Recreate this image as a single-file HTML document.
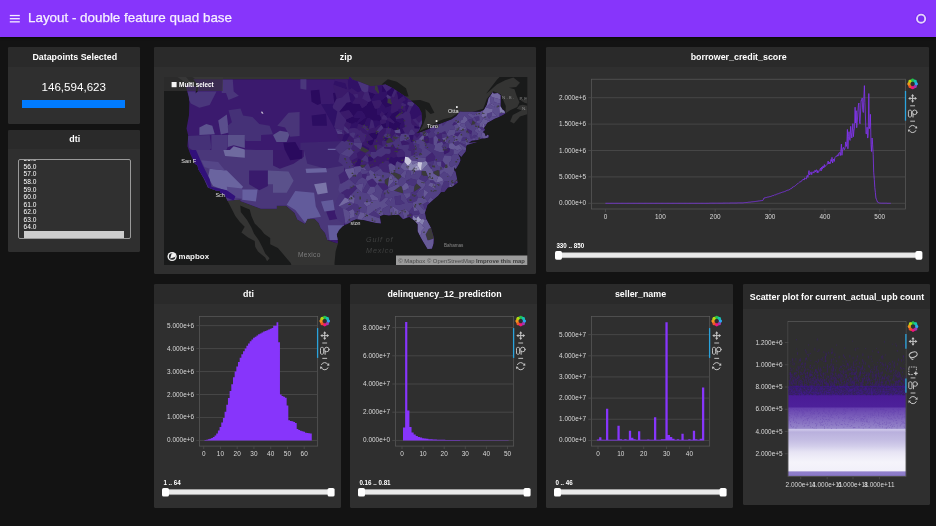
<!DOCTYPE html><html><head><meta charset="utf-8"><title>Layout - double feature quad base</title><style>
*{box-sizing:border-box;margin:0;padding:0}
html,body{width:936px;height:526px;overflow:hidden;background:#131313;font-family:"Liberation Sans", sans-serif;}
.abs{position:absolute}
#hdr{position:absolute;left:0;top:0;width:936px;height:37px;background:#8735fb;box-shadow:0 1px 2px rgba(0,0,0,.6)}
#hdr .t{position:absolute;left:28px;top:9.5px;font-size:13.4px;line-height:16px;color:#f6efff;white-space:nowrap;-webkit-text-stroke:0.25px #f6efff}
.card{position:absolute;background:#2f2f2f;border-radius:1.5px;overflow:hidden}
.card .hd{position:absolute;left:0;top:0;right:0;background:#2a2a2a;color:#fff;font-weight:700;font-size:8.87px;text-align:center;white-space:nowrap;padding-left:2px}
.sl{position:absolute;font-size:6.5px;font-weight:700;color:#fff;white-space:nowrap;line-height:8px}
.trk{position:absolute;height:5.2px;background:#ececec;border-radius:1px;box-shadow:0 0 0 .5px #bdbdbd}
.hnd{position:absolute;width:7px;height:9px;background:#fff;border-radius:1.6px;box-shadow:0 0 .6px rgba(0,0,0,.5)}
svg text{font-family:"Liberation Sans", sans-serif}
</style></head><body><div id="root" style="position:absolute;left:0;top:0;width:936px;height:526px;will-change:transform">
<div id="hdr">
<svg class="abs" style="left:0;top:0" width="40" height="37"><g fill="#f6efff"><rect x="9.8" y="14.9" width="10" height="1.3"/><rect x="9.8" y="18.05" width="10" height="1.3"/><rect x="9.8" y="21.2" width="10" height="1.3"/></g></svg>
<div class="t">Layout - double feature quad base</div>
<svg class="abs" style="left:910px;top:8px" width="22" height="22"><circle cx="11.1" cy="10.7" r="4.1" fill="#7d2ff2" stroke="#7a2cf0" stroke-width="3.8"/><circle cx="11.1" cy="10.7" r="4.1" fill="none" stroke="#e4d2fb" stroke-width="1.9"/></svg>
</div>
<div class="card" style="left:8px;top:47px;width:131.5px;height:77px"><div class="hd" style="height:20px;line-height:20px">Datapoints Selected</div><div class="abs" style="left:0;right:0;top:33px;text-align:center;font-size:11.6px;line-height:14px;color:#fff">146,594,623</div><div class="abs" style="left:14.3px;top:53.1px;width:103.2px;height:7.7px;background:#007bff"></div></div>
<div class="card" style="left:8px;top:129.5px;width:131.5px;height:122.7px"><div class="hd" style="height:19.2px;line-height:19.2px">dti</div><div class="abs" style="left:9.5px;top:29.5px;width:113.4px;height:80.4px;border:1px solid #9a9a9a;border-radius:2px;background:#303030;overflow:hidden"><svg class="abs" style="left:0;top:0" width="112" height="79"><text x="4.6" y="1.40" font-size="6.6" fill="#fff">55.0</text><text x="4.6" y="8.94" font-size="6.6" fill="#fff">56.0</text><text x="4.6" y="16.48" font-size="6.6" fill="#fff">57.0</text><text x="4.6" y="24.02" font-size="6.6" fill="#fff">58.0</text><text x="4.6" y="31.56" font-size="6.6" fill="#fff">59.0</text><text x="4.6" y="39.10" font-size="6.6" fill="#fff">60.0</text><text x="4.6" y="46.64" font-size="6.6" fill="#fff">61.0</text><text x="4.6" y="54.18" font-size="6.6" fill="#fff">62.0</text><text x="4.6" y="61.72" font-size="6.6" fill="#fff">63.0</text><text x="4.6" y="69.26" font-size="6.6" fill="#fff">64.0</text></svg><div class="abs" style="left:5.4px;top:70.9px;width:100.3px;height:7.7px;background:#cdcdcd"></div></div></div>
<div class="card" style="left:546px;top:47px;width:383.3px;height:225px"><div class="hd" style="height:20px;line-height:20px">borrower_credit_score</div></div>
<svg class="abs" style="left:0;top:0;pointer-events:none" width="936" height="526" viewBox="0 0 936 526"><rect x="591.5" y="79.2" width="314.1" height="129.8" fill="none" stroke="#5c5c5c" stroke-width="0.7"/><path d="M588.3 203.3H905.6" stroke="#4d4d4d" stroke-width="0.8"/><text transform="translate(586.10 205.30) scale(0.89 1)" font-size="7.25" fill="#dadada" text-anchor="end">0.000e+0</text><path d="M588.3 176.9H905.6" stroke="#4d4d4d" stroke-width="0.8"/><text transform="translate(586.10 178.90) scale(0.89 1)" font-size="7.25" fill="#dadada" text-anchor="end">5.000e+5</text><path d="M588.3 150.5H905.6" stroke="#4d4d4d" stroke-width="0.8"/><text transform="translate(586.10 152.50) scale(0.89 1)" font-size="7.25" fill="#dadada" text-anchor="end">1.000e+6</text><path d="M588.3 124.10000000000002H905.6" stroke="#4d4d4d" stroke-width="0.8"/><text transform="translate(586.10 126.10) scale(0.89 1)" font-size="7.25" fill="#dadada" text-anchor="end">1.500e+6</text><path d="M588.3 97.70000000000002H905.6" stroke="#4d4d4d" stroke-width="0.8"/><text transform="translate(586.10 99.70) scale(0.89 1)" font-size="7.25" fill="#dadada" text-anchor="end">2.000e+6</text><path d="M605.5 209v3" stroke="#4d4d4d" stroke-width="0.8"/><text transform="translate(605.50 219.30) scale(0.89 1)" font-size="7.25" fill="#dadada" text-anchor="middle">0</text><path d="M660.35 209v3" stroke="#4d4d4d" stroke-width="0.8"/><text transform="translate(660.35 219.30) scale(0.89 1)" font-size="7.25" fill="#dadada" text-anchor="middle">100</text><path d="M715.2 209v3" stroke="#4d4d4d" stroke-width="0.8"/><text transform="translate(715.20 219.30) scale(0.89 1)" font-size="7.25" fill="#dadada" text-anchor="middle">200</text><path d="M770.05 209v3" stroke="#4d4d4d" stroke-width="0.8"/><text transform="translate(770.05 219.30) scale(0.89 1)" font-size="7.25" fill="#dadada" text-anchor="middle">300</text><path d="M824.9 209v3" stroke="#4d4d4d" stroke-width="0.8"/><text transform="translate(824.90 219.30) scale(0.89 1)" font-size="7.25" fill="#dadada" text-anchor="middle">400</text><path d="M879.75 209v3" stroke="#4d4d4d" stroke-width="0.8"/><text transform="translate(879.75 219.30) scale(0.89 1)" font-size="7.25" fill="#dadada" text-anchor="middle">500</text><path d="M605.5 203.3L606.0 203.3L606.6 203.3L607.1 203.3L607.7 203.3L608.2 203.3L608.8 203.3L609.3 203.3L609.9 203.3L610.4 203.3L611.0 203.3L611.5 203.3L612.1 203.3L612.6 203.3L613.2 203.3L613.7 203.3L614.3 203.3L614.8 203.3L615.4 203.3L615.9 203.3L616.5 203.3L617.0 203.3L617.6 203.3L618.1 203.3L618.7 203.3L619.2 203.3L619.8 203.3L620.3 203.3L620.9 203.3L621.4 203.3L622.0 203.3L622.5 203.3L623.1 203.3L623.6 203.3L624.1 203.3L624.7 203.3L625.2 203.3L625.8 203.3L626.3 203.3L626.9 203.3L627.4 203.3L628.0 203.3L628.5 203.3L629.1 203.3L629.6 203.3L630.2 203.3L630.7 203.3L631.3 203.3L631.8 203.3L632.4 203.3L632.9 203.3L633.5 203.3L634.0 203.3L634.6 203.3L635.1 203.3L635.7 203.3L636.2 203.3L636.8 203.3L637.3 203.3L637.9 203.3L638.4 203.3L639.0 203.3L639.5 203.3L640.1 203.3L640.6 203.3L641.2 203.3L641.7 203.3L642.2 203.3L642.8 203.3L643.3 203.3L643.9 203.3L644.4 203.3L645.0 203.3L645.5 203.3L646.1 203.3L646.6 203.3L647.2 203.3L647.7 203.3L648.3 203.3L648.8 203.3L649.4 203.3L649.9 203.3L650.5 203.3L651.0 203.3L651.6 203.3L652.1 203.3L652.7 203.3L653.2 203.3L653.8 203.3L654.3 203.3L654.9 203.3L655.4 203.3L656.0 203.3L656.5 203.3L657.1 203.3L657.6 203.3L658.2 203.3L658.7 203.3L659.3 203.3L659.8 203.3L660.4 203.3L660.9 203.3L661.4 203.3L662.0 203.3L662.5 203.3L663.1 203.3L663.6 203.3L664.2 203.3L664.7 203.3L665.3 203.3L665.8 203.3L666.4 203.3L666.9 203.3L667.5 203.3L668.0 203.3L668.6 203.3L669.1 203.3L669.7 203.3L670.2 203.3L670.8 203.3L671.3 203.3L671.9 203.3L672.4 203.3L673.0 203.3L673.5 203.3L674.1 203.3L674.6 203.3L675.2 203.3L675.7 203.3L676.3 203.3L676.8 203.3L677.4 203.3L677.9 203.3L678.5 203.3L679.0 203.3L679.5 203.3L680.1 203.3L680.6 203.3L681.2 203.3L681.7 203.3L682.3 203.3L682.8 203.3L683.4 203.3L683.9 203.3L684.5 203.3L685.0 203.3L685.6 203.3L686.1 203.3L686.7 203.3L687.2 203.3L687.8 203.3L688.3 203.3L688.9 203.3L689.4 203.3L690.0 203.3L690.5 203.3L691.1 203.3L691.6 203.3L692.2 203.3L692.7 203.3L693.3 203.3L693.8 203.3L694.4 203.3L694.9 203.3L695.5 203.3L696.0 203.3L696.6 203.3L697.1 203.3L697.6 203.3L698.2 203.3L698.7 203.3L699.3 203.3L699.8 203.3L700.4 203.3L700.9 203.3L701.5 203.3L702.0 203.3L702.6 203.3L703.1 203.3L703.7 203.3L704.2 203.3L704.8 203.3L705.3 203.3L705.9 203.3L706.4 203.3L707.0 203.3L707.5 203.3L708.1 203.3L708.6 203.3L709.2 203.3L709.7 203.2L710.3 203.2L710.8 203.2L711.4 203.2L711.9 203.2L712.5 203.2L713.0 203.2L713.6 203.2L714.1 203.2L714.7 203.2L715.2 203.2L715.7 203.2L716.3 203.2L716.8 203.2L717.4 203.2L717.9 203.2L718.5 203.2L719.0 203.2L719.6 203.2L720.1 203.2L720.7 203.2L721.2 203.2L721.8 203.2L722.3 203.2L722.9 203.1L723.4 203.1L724.0 203.1L724.5 203.1L725.1 203.1L725.6 203.1L726.2 203.1L726.7 203.1L727.3 203.1L727.8 203.1L728.4 203.1L728.9 203.1L729.5 203.1L730.0 203.0L730.6 203.0L731.1 203.0L731.7 203.0L732.2 203.0L732.8 203.0L733.3 203.0L733.8 203.0L734.4 203.0L734.9 203.0L735.5 203.0L736.0 203.0L736.6 203.0L737.1 203.0L737.7 202.9L738.2 202.9L738.8 202.9L739.3 202.9L739.9 202.9L740.4 202.9L741.0 202.9L741.5 202.9L742.1 202.9L742.6 202.9L743.2 202.8L743.7 202.8L744.3 202.7L744.8 202.6L745.4 202.6L745.9 202.5L746.5 202.5L747.0 202.4L747.6 202.4L748.1 202.3L748.7 202.2L749.2 202.2L749.8 202.1L750.3 202.1L750.9 202.0L751.4 201.9L751.9 201.9L752.5 201.8L753.0 201.8L753.6 201.7L754.1 201.6L754.7 201.6L755.2 201.5L755.8 201.4L756.3 201.3L756.9 201.3L757.4 201.2L758.0 201.1L758.5 201.0L759.1 200.9L759.6 200.9L760.2 200.8L760.7 200.7L761.3 200.6L761.8 200.6L762.4 200.5L762.9 200.4L763.5 199.2L764.0 198.0L764.6 197.9L765.1 197.8L765.7 197.6L766.2 197.5L766.8 197.4L767.3 197.2L767.9 197.1L768.4 197.0L769.0 196.9L769.5 196.7L770.0 196.6L770.6 196.5L771.1 196.2L771.7 196.1L772.2 195.8L772.8 195.6L773.3 195.6L773.9 195.4L774.4 194.9L775.0 194.9L775.5 194.8L776.1 194.3L776.6 194.3L777.2 194.0L777.7 193.9L778.3 193.7L778.8 193.6L779.4 193.3L779.9 193.0L780.5 192.9L781.0 192.6L781.6 192.5L782.1 192.5L782.7 192.0L783.2 191.9L783.8 191.9L784.3 191.8L784.9 191.2L785.4 191.2L786.0 190.9L786.5 190.6L787.1 190.5L787.6 190.2L788.2 190.3L788.7 189.9L789.2 189.9L789.8 189.2L790.3 188.8L790.9 188.9L791.4 188.5L792.0 188.1L792.5 187.2L793.1 187.2L793.6 186.7L794.2 186.5L794.7 186.0L795.3 185.7L795.8 185.3L796.4 184.7L796.9 184.4L797.5 183.7L798.0 183.5L798.6 182.9L799.1 182.5L799.7 182.0L800.2 181.9L800.8 181.9L801.3 180.9L801.9 180.4L802.4 180.1L803.0 179.9L803.5 179.1L804.1 180.1L804.6 177.9L805.2 178.3L805.7 178.7L806.3 179.0L806.8 176.2L807.3 175.3L807.9 177.5L808.4 174.3L809.0 170.6L809.5 175.0L810.1 174.3L810.6 172.4L811.2 171.9L811.7 174.7L812.3 172.5L812.8 172.1L813.4 171.8L813.9 173.1L814.5 170.9L815.0 170.3L815.6 171.9L816.1 169.9L816.7 169.9L817.2 172.9L817.8 170.6L818.3 172.5L818.9 171.5L819.4 170.4L820.0 169.3L820.5 168.2L821.1 171.0L821.6 167.2L822.2 169.2L822.7 166.2L823.3 166.1L823.8 168.0L824.4 164.5L824.9 166.8L825.4 165.8L826.0 165.5L826.5 165.2L827.1 164.5L827.6 162.5L828.2 161.0L828.7 164.0L829.3 162.1L829.8 164.0L830.4 163.3L830.9 159.5L831.5 161.3L832.0 157.3L832.6 163.0L833.1 160.4L833.7 159.1L834.2 161.5L834.8 157.8L835.3 157.2L835.9 156.3L836.4 156.1L837.0 156.5L837.5 154.8L838.1 156.1L838.6 153.5L839.2 152.7L839.7 152.6L840.3 155.6L840.8 151.2L841.4 144.1L841.9 155.3L842.5 151.2L843.0 147.8L843.5 147.3L844.1 149.6L844.6 149.4L845.2 147.3L845.7 141.9L846.3 146.5L846.8 144.0L847.4 129.4L847.9 148.8L848.5 136.5L849.0 131.7L849.6 139.6L850.1 140.4L850.7 126.3L851.2 132.7L851.8 138.0L852.3 131.1L852.9 123.6L853.4 136.7L854.0 130.0L854.5 128.5L855.1 107.2L855.6 123.1L856.2 110.7L856.7 127.8L857.3 122.3L857.8 112.7L858.4 105.1L858.9 103.0L859.5 121.7L860.0 123.8L860.6 111.0L861.1 100.3L861.6 100.4L862.2 98.0L862.7 109.8L863.3 112.5L863.8 98.2L864.4 85.6L864.9 102.6L865.5 118.0L866.0 133.5L866.6 134.1L867.1 127.2L867.7 138.1L868.2 135.5L868.8 93.5L869.3 128.7L869.9 126.4L870.4 114.3L871.0 144.6L871.5 151.5L872.1 138.0L872.6 144.1L873.2 154.5L873.7 172.3L874.3 179.5L874.8 187.5L875.4 192.7L875.9 198.0L876.5 199.4L877.0 200.8L877.6 202.2L878.1 202.5L878.7 202.7L879.2 202.9L879.8 203.1L880.3 203.1L880.8 203.2L881.4 203.2L881.9 203.2L882.5 203.2L883.0 203.2L883.6 203.2L884.1 203.2L884.7 203.2L885.2 203.2L885.8 203.2L886.3 203.2L886.9 203.2L887.4 203.3L888.0 203.3L888.5 203.3L889.1 203.3L889.6 203.3L890.2 203.3L890.7 203.3" fill="none" stroke="#8735fb" stroke-width="0.9" stroke-linejoin="round" opacity="0.85"/><path d="M911.07 80.75A3.5 3.5 0 0 1 914.13 80.75" stroke="#25c24c" stroke-width="2.5" fill="none"/><path d="M913.74 80.59A3.5 3.5 0 0 1 915.91 82.76" stroke="#16c3ae" stroke-width="2.5" fill="none"/><path d="M915.75 82.37A3.5 3.5 0 0 1 915.75 85.43" stroke="#2ca8ef" stroke-width="2.5" fill="none"/><path d="M915.91 85.04A3.5 3.5 0 0 1 913.74 87.21" stroke="#9a3ab2" stroke-width="2.5" fill="none"/><path d="M914.13 87.05A3.5 3.5 0 0 1 911.07 87.05" stroke="#f0147c" stroke-width="2.5" fill="none"/><path d="M911.46 87.21A3.5 3.5 0 0 1 909.29 85.04" stroke="#f0522a" stroke-width="2.5" fill="none"/><path d="M909.45 85.43A3.5 3.5 0 0 1 909.45 82.37" stroke="#f0941e" stroke-width="2.5" fill="none"/><path d="M909.29 82.76A3.5 3.5 0 0 1 911.46 80.59" stroke="#b4da12" stroke-width="2.5" fill="none"/><circle cx="912.60" cy="79.90" r="1.3" fill="#25c24c"/><circle cx="915.43" cy="81.07" r="1.3" fill="#16c3ae"/><circle cx="916.60" cy="83.90" r="1.3" fill="#2ca8ef"/><circle cx="915.43" cy="86.73" r="1.3" fill="#9a3ab2"/><circle cx="912.60" cy="87.90" r="1.3" fill="#f0147c"/><circle cx="909.77" cy="86.73" r="1.3" fill="#f0522a"/><circle cx="908.60" cy="83.90" r="1.3" fill="#f0941e"/><circle cx="909.77" cy="81.07" r="1.3" fill="#b4da12"/><path d="M905.5 90.9V120.7" stroke="#2aa3dc" stroke-width="1.3"/><path d="M909.2 98.4H916.0M912.6 95.0V101.80000000000001" stroke="#c6c6c6" stroke-width="1" fill="none"/><path d="M908.2 98.4l2.2 -1.6v3.2zM917.0 98.4l-2.2 -1.6v3.2zM912.6 94.0l-1.6 2.2h3.2zM912.6 102.80000000000001l-1.6 -2.2h3.2z" fill="#c6c6c6"/><path d="M910.2 105.80000000000001h4.8" stroke="#b4b4b4" stroke-width="1.1"/><g stroke="#c6c6c6" stroke-width="0.95" fill="none" stroke-linecap="round"><rect x="908.4" y="110.19999999999999" width="3.1" height="6.8" rx="1" stroke-dasharray="2.2 0.7"/><circle cx="914.7" cy="112.3" r="2.3"/><path d="M913.0 114.0V117.0" stroke-width="1.1"/></g><path d="M910.2 121.2h4.8" stroke="#b4b4b4" stroke-width="1.1"/><g stroke="#c6c6c6" stroke-width="1.0" fill="none"><path d="M909.22 127.77A3.6 3.6 0 0 1 915.86 127.48"/><path d="M915.98 130.23A3.6 3.6 0 0 1 909.34 130.52"/></g><path d="M916.96 125.88l0.3 2.7l-2.6 -0.3z" fill="#c6c6c6"/><path d="M908.24 132.12l-0.3 -2.7l2.6 0.3z" fill="#c6c6c6"/></svg>
<svg class="abs" style="left:0;top:0;pointer-events:none" width="936" height="526" viewBox="0 0 936 526"><text x="556.4" y="248.3" font-size="7.1" font-weight="700" fill="#fff" transform="translate(556.4 0) scale(0.88 1) translate(-556.4 0)">330 .. 850</text><rect x="557" y="252.7" width="363.4" height="5" rx="1" fill="#eaeaea" stroke="#bcbcbc" stroke-width="0.5"/><rect x="555" y="251" width="7" height="8.7" rx="1.7" fill="#fff"/><rect x="915.4" y="251" width="7" height="8.7" rx="1.7" fill="#fff"/></svg>
<div class="card" style="left:154px;top:284.3px;width:187px;height:224.2px"><div class="hd" style="height:19.7px;line-height:21.7px">dti</div></div>
<svg class="abs" style="left:0;top:0;pointer-events:none" width="936" height="526" viewBox="0 0 936 526"><rect x="199.5" y="316.4" width="118.19999999999999" height="129.70000000000005" fill="none" stroke="#5c5c5c" stroke-width="0.7"/><path d="M196.3 440.4H317.7" stroke="#4d4d4d" stroke-width="0.8"/><text transform="translate(194.10 442.40) scale(0.89 1)" font-size="7.25" fill="#dadada" text-anchor="end">0.000e+0</text><path d="M196.3 417.45H317.7" stroke="#4d4d4d" stroke-width="0.8"/><text transform="translate(194.10 419.45) scale(0.89 1)" font-size="7.25" fill="#dadada" text-anchor="end">1.000e+6</text><path d="M196.3 394.5H317.7" stroke="#4d4d4d" stroke-width="0.8"/><text transform="translate(194.10 396.50) scale(0.89 1)" font-size="7.25" fill="#dadada" text-anchor="end">2.000e+6</text><path d="M196.3 371.54999999999995H317.7" stroke="#4d4d4d" stroke-width="0.8"/><text transform="translate(194.10 373.55) scale(0.89 1)" font-size="7.25" fill="#dadada" text-anchor="end">3.000e+6</text><path d="M196.3 348.59999999999997H317.7" stroke="#4d4d4d" stroke-width="0.8"/><text transform="translate(194.10 350.60) scale(0.89 1)" font-size="7.25" fill="#dadada" text-anchor="end">4.000e+6</text><path d="M196.3 325.65H317.7" stroke="#4d4d4d" stroke-width="0.8"/><text transform="translate(194.10 327.65) scale(0.89 1)" font-size="7.25" fill="#dadada" text-anchor="end">5.000e+6</text><path d="M203.7 446.1v3" stroke="#4d4d4d" stroke-width="0.8"/><text transform="translate(203.70 456.40) scale(0.89 1)" font-size="7.25" fill="#dadada" text-anchor="middle">0</text><path d="M220.45 446.1v3" stroke="#4d4d4d" stroke-width="0.8"/><text transform="translate(220.45 456.40) scale(0.89 1)" font-size="7.25" fill="#dadada" text-anchor="middle">10</text><path d="M237.2 446.1v3" stroke="#4d4d4d" stroke-width="0.8"/><text transform="translate(237.20 456.40) scale(0.89 1)" font-size="7.25" fill="#dadada" text-anchor="middle">20</text><path d="M253.95 446.1v3" stroke="#4d4d4d" stroke-width="0.8"/><text transform="translate(253.95 456.40) scale(0.89 1)" font-size="7.25" fill="#dadada" text-anchor="middle">30</text><path d="M270.7 446.1v3" stroke="#4d4d4d" stroke-width="0.8"/><text transform="translate(270.70 456.40) scale(0.89 1)" font-size="7.25" fill="#dadada" text-anchor="middle">40</text><path d="M287.45 446.1v3" stroke="#4d4d4d" stroke-width="0.8"/><text transform="translate(287.45 456.40) scale(0.89 1)" font-size="7.25" fill="#dadada" text-anchor="middle">50</text><path d="M304.2 446.1v3" stroke="#4d4d4d" stroke-width="0.8"/><text transform="translate(304.20 456.40) scale(0.89 1)" font-size="7.25" fill="#dadada" text-anchor="middle">60</text><path d="M204.50 440.4V439.94H206.25V440.4ZM206.18 440.4V439.71H207.92V440.4ZM207.85 440.4V439.25H209.60V440.4ZM209.53 440.4V438.79H211.27V440.4ZM211.20 440.4V438.10H212.95V440.4ZM212.88 440.4V436.96H214.62V440.4ZM214.55 440.4V435.58H216.30V440.4ZM216.23 440.4V433.51H217.97V440.4ZM217.90 440.4V430.53H219.65V440.4ZM219.58 440.4V427.09H221.32V440.4ZM221.25 440.4V422.50H223.00V440.4ZM222.93 440.4V417.91H224.67V440.4ZM224.60 440.4V411.71H226.35V440.4ZM226.28 440.4V404.83H228.02V440.4ZM227.95 440.4V397.94H229.70V440.4ZM229.63 440.4V391.06H231.37V440.4ZM231.30 440.4V384.17H233.05V440.4ZM232.98 440.4V377.29H234.72V440.4ZM234.65 440.4V371.55H236.40V440.4ZM236.33 440.4V366.50H238.07V440.4ZM238.00 440.4V361.91H239.75V440.4ZM239.68 440.4V357.78H241.42V440.4ZM241.35 440.4V354.34H243.10V440.4ZM243.03 440.4V351.35H244.77V440.4ZM244.70 440.4V348.60H246.45V440.4ZM246.38 440.4V345.85H248.12V440.4ZM248.05 440.4V343.55H249.80V440.4ZM249.73 440.4V341.26H251.47V440.4ZM251.40 440.4V339.42H253.15V440.4ZM253.08 440.4V337.81H254.82V440.4ZM254.75 440.4V336.67H256.50V440.4ZM256.43 440.4V335.52H258.17V440.4ZM258.10 440.4V334.37H259.85V440.4ZM259.78 440.4V333.45H261.52V440.4ZM261.45 440.4V332.53H263.20V440.4ZM263.13 440.4V331.62H264.87V440.4ZM264.80 440.4V330.93H266.55V440.4ZM266.48 440.4V330.24H268.22V440.4ZM268.15 440.4V329.55H269.90V440.4ZM269.83 440.4V328.86H271.57V440.4ZM271.50 440.4V327.94H273.25V440.4ZM273.18 440.4V325.65H274.92V440.4ZM274.85 440.4V325.65H276.60V440.4ZM276.53 440.4V322.21H278.27V440.4ZM278.20 440.4V342.17H279.95V440.4ZM279.88 440.4V394.50H281.62V440.4ZM281.55 440.4V396.11H283.30V440.4ZM283.23 440.4V396.79H284.97V440.4ZM284.90 440.4V397.71H286.65V440.4ZM286.58 440.4V405.52H288.32V440.4ZM288.25 440.4V420.20H290.00V440.4ZM289.93 440.4V420.89H291.67V440.4ZM291.60 440.4V421.35H293.35V440.4ZM293.28 440.4V422.04H295.02V440.4ZM294.95 440.4V422.96H296.70V440.4ZM296.63 440.4V428.92H298.37V440.4ZM298.30 440.4V430.07H300.05V440.4ZM299.98 440.4V430.76H301.72V440.4ZM301.65 440.4V431.22H303.40V440.4ZM303.33 440.4V431.68H305.07V440.4ZM305.00 440.4V432.83H306.75V440.4ZM306.68 440.4V433.06H308.42V440.4ZM308.35 440.4V433.29H310.10V440.4ZM310.03 440.4V433.51H311.77V440.4Z" fill="#8735fb"/><path d="M323.17 317.95A3.5 3.5 0 0 1 326.23 317.95" stroke="#25c24c" stroke-width="2.5" fill="none"/><path d="M325.84 317.79A3.5 3.5 0 0 1 328.01 319.96" stroke="#16c3ae" stroke-width="2.5" fill="none"/><path d="M327.85 319.57A3.5 3.5 0 0 1 327.85 322.63" stroke="#2ca8ef" stroke-width="2.5" fill="none"/><path d="M328.01 322.24A3.5 3.5 0 0 1 325.84 324.41" stroke="#9a3ab2" stroke-width="2.5" fill="none"/><path d="M326.23 324.25A3.5 3.5 0 0 1 323.17 324.25" stroke="#f0147c" stroke-width="2.5" fill="none"/><path d="M323.56 324.41A3.5 3.5 0 0 1 321.39 322.24" stroke="#f0522a" stroke-width="2.5" fill="none"/><path d="M321.55 322.63A3.5 3.5 0 0 1 321.55 319.57" stroke="#f0941e" stroke-width="2.5" fill="none"/><path d="M321.39 319.96A3.5 3.5 0 0 1 323.56 317.79" stroke="#b4da12" stroke-width="2.5" fill="none"/><circle cx="324.70" cy="317.10" r="1.3" fill="#25c24c"/><circle cx="327.53" cy="318.27" r="1.3" fill="#16c3ae"/><circle cx="328.70" cy="321.10" r="1.3" fill="#2ca8ef"/><circle cx="327.53" cy="323.93" r="1.3" fill="#9a3ab2"/><circle cx="324.70" cy="325.10" r="1.3" fill="#f0147c"/><circle cx="321.87" cy="323.93" r="1.3" fill="#f0522a"/><circle cx="320.70" cy="321.10" r="1.3" fill="#f0941e"/><circle cx="321.87" cy="318.27" r="1.3" fill="#b4da12"/><path d="M317.59999999999997 328.09999999999997V357.9" stroke="#2aa3dc" stroke-width="1.3"/><path d="M321.3 335.59999999999997H328.09999999999997M324.7 332.2V338.99999999999994" stroke="#c6c6c6" stroke-width="1" fill="none"/><path d="M320.3 335.59999999999997l2.2 -1.6v3.2zM329.09999999999997 335.59999999999997l-2.2 -1.6v3.2zM324.7 331.2l-1.6 2.2h3.2zM324.7 339.99999999999994l-1.6 -2.2h3.2z" fill="#c6c6c6"/><path d="M322.3 343.0h4.8" stroke="#b4b4b4" stroke-width="1.1"/><g stroke="#c6c6c6" stroke-width="0.95" fill="none" stroke-linecap="round"><rect x="320.5" y="347.4" width="3.1" height="6.8" rx="1" stroke-dasharray="2.2 0.7"/><circle cx="326.8" cy="349.49999999999994" r="2.3"/><path d="M325.09999999999997 351.19999999999993V354.19999999999993" stroke-width="1.1"/></g><path d="M322.3 358.4h4.8" stroke="#b4b4b4" stroke-width="1.1"/><g stroke="#c6c6c6" stroke-width="1.0" fill="none"><path d="M321.32 364.97A3.6 3.6 0 0 1 327.96 364.68"/><path d="M328.08 367.43A3.6 3.6 0 0 1 321.44 367.72"/></g><path d="M329.06 363.08l0.3 2.7l-2.6 -0.3z" fill="#c6c6c6"/><path d="M320.34 369.32l-0.3 -2.7l2.6 0.3z" fill="#c6c6c6"/></svg>
<svg class="abs" style="left:0;top:0;pointer-events:none" width="936" height="526" viewBox="0 0 936 526"><text x="163.4" y="485.2" font-size="7.1" font-weight="700" fill="#fff" transform="translate(163.4 0) scale(0.88 1) translate(-163.4 0)">1 .. 64</text><rect x="164" y="489.59999999999997" width="168.60000000000002" height="5" rx="1" fill="#eaeaea" stroke="#bcbcbc" stroke-width="0.5"/><rect x="162" y="487.9" width="7" height="8.7" rx="1.7" fill="#fff"/><rect x="327.6" y="487.9" width="7" height="8.7" rx="1.7" fill="#fff"/></svg>
<div class="card" style="left:350px;top:284.3px;width:187px;height:224.2px"><div class="hd" style="height:19.7px;line-height:21.7px">delinquency_12_prediction</div></div>
<svg class="abs" style="left:0;top:0;pointer-events:none" width="936" height="526" viewBox="0 0 936 526"><rect x="395.5" y="316.4" width="118.20000000000005" height="129.70000000000005" fill="none" stroke="#5c5c5c" stroke-width="0.7"/><path d="M392.3 440.4H513.7" stroke="#4d4d4d" stroke-width="0.8"/><text transform="translate(390.10 442.40) scale(0.89 1)" font-size="7.25" fill="#dadada" text-anchor="end">0.000e+0</text><path d="M392.3 412.2H513.7" stroke="#4d4d4d" stroke-width="0.8"/><text transform="translate(390.10 414.20) scale(0.89 1)" font-size="7.25" fill="#dadada" text-anchor="end">2.000e+7</text><path d="M392.3 384.0H513.7" stroke="#4d4d4d" stroke-width="0.8"/><text transform="translate(390.10 386.00) scale(0.89 1)" font-size="7.25" fill="#dadada" text-anchor="end">4.000e+7</text><path d="M392.3 355.79999999999995H513.7" stroke="#4d4d4d" stroke-width="0.8"/><text transform="translate(390.10 357.80) scale(0.89 1)" font-size="7.25" fill="#dadada" text-anchor="end">6.000e+7</text><path d="M392.3 327.59999999999997H513.7" stroke="#4d4d4d" stroke-width="0.8"/><text transform="translate(390.10 329.60) scale(0.89 1)" font-size="7.25" fill="#dadada" text-anchor="end">8.000e+7</text><path d="M402.0 446.1v3" stroke="#4d4d4d" stroke-width="0.8"/><text transform="translate(402.00 456.40) scale(0.89 1)" font-size="7.25" fill="#dadada" text-anchor="middle">0</text><path d="M423.1 446.1v3" stroke="#4d4d4d" stroke-width="0.8"/><text transform="translate(423.10 456.40) scale(0.89 1)" font-size="7.25" fill="#dadada" text-anchor="middle">10</text><path d="M444.2 446.1v3" stroke="#4d4d4d" stroke-width="0.8"/><text transform="translate(444.20 456.40) scale(0.89 1)" font-size="7.25" fill="#dadada" text-anchor="middle">20</text><path d="M465.3 446.1v3" stroke="#4d4d4d" stroke-width="0.8"/><text transform="translate(465.30 456.40) scale(0.89 1)" font-size="7.25" fill="#dadada" text-anchor="middle">30</text><path d="M486.4 446.1v3" stroke="#4d4d4d" stroke-width="0.8"/><text transform="translate(486.40 456.40) scale(0.89 1)" font-size="7.25" fill="#dadada" text-anchor="middle">40</text><path d="M507.5 446.1v3" stroke="#4d4d4d" stroke-width="0.8"/><text transform="translate(507.50 456.40) scale(0.89 1)" font-size="7.25" fill="#dadada" text-anchor="middle">50</text><path d="M403.01 440.4V427.43H405.21V440.4ZM405.12 440.4V322.10H407.32V440.4ZM407.23 440.4V410.51H409.43V440.4ZM409.34 440.4V427.00H411.54V440.4ZM411.45 440.4V432.50H413.65V440.4ZM413.56 440.4V434.48H415.76V440.4ZM415.67 440.4V435.89H417.87V440.4ZM417.78 440.4V436.88H419.98V440.4ZM419.89 440.4V437.58H422.09V440.4ZM422.00 440.4V438.14H424.20V440.4ZM424.11 440.4V438.57H426.31V440.4ZM426.22 440.4V438.85H428.42V440.4ZM428.33 440.4V439.13H430.53V440.4ZM430.44 440.4V439.27H432.64V440.4ZM432.55 440.4V439.41H434.75V440.4ZM434.66 440.4V439.55H436.86V440.4ZM436.77 440.4V439.63H438.97V440.4ZM438.88 440.4V439.71H441.08V440.4ZM440.99 440.4V439.77H443.19V440.4ZM443.10 440.4V439.83H445.30V440.4ZM445.21 440.4V439.89H447.41V440.4ZM447.32 440.4V439.94H449.52V440.4ZM449.43 440.4V439.98H451.63V440.4ZM451.54 440.4V440.02H453.74V440.4ZM453.65 440.4V440.06H455.85V440.4ZM455.76 440.4V440.09H457.96V440.4ZM457.87 440.4V440.12H460.07V440.4ZM459.98 440.4V440.15H462.18V440.4ZM462.09 440.4V440.17H464.29V440.4ZM464.20 440.4V440.19H466.40V440.4ZM466.31 440.4V440.21H468.51V440.4ZM468.42 440.4V440.23H470.62V440.4ZM470.53 440.4V440.23H472.73V440.4ZM472.64 440.4V440.23H474.84V440.4ZM474.75 440.4V440.23H476.95V440.4ZM476.86 440.4V440.23H479.06V440.4ZM478.97 440.4V440.23H481.17V440.4ZM481.08 440.4V440.23H483.28V440.4ZM483.19 440.4V440.23H485.39V440.4ZM485.30 440.4V440.23H487.50V440.4ZM487.41 440.4V440.23H489.61V440.4ZM489.52 440.4V440.23H491.72V440.4ZM491.63 440.4V440.23H493.83V440.4ZM493.74 440.4V440.23H495.94V440.4ZM495.85 440.4V440.23H498.05V440.4ZM497.96 440.4V440.23H500.16V440.4ZM500.07 440.4V440.23H502.27V440.4ZM502.18 440.4V440.23H504.38V440.4ZM504.29 440.4V440.23H506.49V440.4ZM506.40 440.4V440.23H508.60V440.4Z" fill="#8735fb"/><path d="M519.17 317.95A3.5 3.5 0 0 1 522.23 317.95" stroke="#25c24c" stroke-width="2.5" fill="none"/><path d="M521.84 317.79A3.5 3.5 0 0 1 524.01 319.96" stroke="#16c3ae" stroke-width="2.5" fill="none"/><path d="M523.85 319.57A3.5 3.5 0 0 1 523.85 322.63" stroke="#2ca8ef" stroke-width="2.5" fill="none"/><path d="M524.01 322.24A3.5 3.5 0 0 1 521.84 324.41" stroke="#9a3ab2" stroke-width="2.5" fill="none"/><path d="M522.23 324.25A3.5 3.5 0 0 1 519.17 324.25" stroke="#f0147c" stroke-width="2.5" fill="none"/><path d="M519.56 324.41A3.5 3.5 0 0 1 517.39 322.24" stroke="#f0522a" stroke-width="2.5" fill="none"/><path d="M517.55 322.63A3.5 3.5 0 0 1 517.55 319.57" stroke="#f0941e" stroke-width="2.5" fill="none"/><path d="M517.39 319.96A3.5 3.5 0 0 1 519.56 317.79" stroke="#b4da12" stroke-width="2.5" fill="none"/><circle cx="520.70" cy="317.10" r="1.3" fill="#25c24c"/><circle cx="523.53" cy="318.27" r="1.3" fill="#16c3ae"/><circle cx="524.70" cy="321.10" r="1.3" fill="#2ca8ef"/><circle cx="523.53" cy="323.93" r="1.3" fill="#9a3ab2"/><circle cx="520.70" cy="325.10" r="1.3" fill="#f0147c"/><circle cx="517.87" cy="323.93" r="1.3" fill="#f0522a"/><circle cx="516.70" cy="321.10" r="1.3" fill="#f0941e"/><circle cx="517.87" cy="318.27" r="1.3" fill="#b4da12"/><path d="M513.6 328.09999999999997V357.9" stroke="#2aa3dc" stroke-width="1.3"/><path d="M517.3000000000001 335.59999999999997H524.1M520.7 332.2V338.99999999999994" stroke="#c6c6c6" stroke-width="1" fill="none"/><path d="M516.3000000000001 335.59999999999997l2.2 -1.6v3.2zM525.1 335.59999999999997l-2.2 -1.6v3.2zM520.7 331.2l-1.6 2.2h3.2zM520.7 339.99999999999994l-1.6 -2.2h3.2z" fill="#c6c6c6"/><path d="M518.3000000000001 343.0h4.8" stroke="#b4b4b4" stroke-width="1.1"/><g stroke="#c6c6c6" stroke-width="0.95" fill="none" stroke-linecap="round"><rect x="516.5" y="347.4" width="3.1" height="6.8" rx="1" stroke-dasharray="2.2 0.7"/><circle cx="522.8000000000001" cy="349.49999999999994" r="2.3"/><path d="M521.1 351.19999999999993V354.19999999999993" stroke-width="1.1"/></g><path d="M518.3000000000001 358.4h4.8" stroke="#b4b4b4" stroke-width="1.1"/><g stroke="#c6c6c6" stroke-width="1.0" fill="none"><path d="M517.32 364.97A3.6 3.6 0 0 1 523.96 364.68"/><path d="M524.08 367.43A3.6 3.6 0 0 1 517.44 367.72"/></g><path d="M525.06 363.08l0.3 2.7l-2.6 -0.3z" fill="#c6c6c6"/><path d="M516.34 369.32l-0.3 -2.7l2.6 0.3z" fill="#c6c6c6"/></svg>
<svg class="abs" style="left:0;top:0;pointer-events:none" width="936" height="526" viewBox="0 0 936 526"><text x="359.4" y="485.2" font-size="7.1" font-weight="700" fill="#fff" transform="translate(359.4 0) scale(0.88 1) translate(-359.4 0)">0.16 .. 0.81</text><rect x="360" y="489.59999999999997" width="168.60000000000002" height="5" rx="1" fill="#eaeaea" stroke="#bcbcbc" stroke-width="0.5"/><rect x="358" y="487.9" width="7" height="8.7" rx="1.7" fill="#fff"/><rect x="523.6" y="487.9" width="7" height="8.7" rx="1.7" fill="#fff"/></svg>
<div class="card" style="left:546px;top:284.3px;width:187px;height:224.2px"><div class="hd" style="height:19.7px;line-height:21.7px">seller_name</div></div>
<svg class="abs" style="left:0;top:0;pointer-events:none" width="936" height="526" viewBox="0 0 936 526"><rect x="591.5" y="316.4" width="118.20000000000005" height="129.70000000000005" fill="none" stroke="#5c5c5c" stroke-width="0.7"/><path d="M588.3 440.4H709.7" stroke="#4d4d4d" stroke-width="0.8"/><text transform="translate(586.10 442.40) scale(0.89 1)" font-size="7.25" fill="#dadada" text-anchor="end">0.000e+0</text><path d="M588.3 419.25H709.7" stroke="#4d4d4d" stroke-width="0.8"/><text transform="translate(586.10 421.25) scale(0.89 1)" font-size="7.25" fill="#dadada" text-anchor="end">1.000e+7</text><path d="M588.3 398.09999999999997H709.7" stroke="#4d4d4d" stroke-width="0.8"/><text transform="translate(586.10 400.10) scale(0.89 1)" font-size="7.25" fill="#dadada" text-anchor="end">2.000e+7</text><path d="M588.3 376.95H709.7" stroke="#4d4d4d" stroke-width="0.8"/><text transform="translate(586.10 378.95) scale(0.89 1)" font-size="7.25" fill="#dadada" text-anchor="end">3.000e+7</text><path d="M588.3 355.79999999999995H709.7" stroke="#4d4d4d" stroke-width="0.8"/><text transform="translate(586.10 357.80) scale(0.89 1)" font-size="7.25" fill="#dadada" text-anchor="end">4.000e+7</text><path d="M588.3 334.65H709.7" stroke="#4d4d4d" stroke-width="0.8"/><text transform="translate(586.10 336.65) scale(0.89 1)" font-size="7.25" fill="#dadada" text-anchor="end">5.000e+7</text><path d="M598.0 446.1v3" stroke="#4d4d4d" stroke-width="0.8"/><text transform="translate(598.00 456.40) scale(0.89 1)" font-size="7.25" fill="#dadada" text-anchor="middle">0</text><path d="M620.85 446.1v3" stroke="#4d4d4d" stroke-width="0.8"/><text transform="translate(620.85 456.40) scale(0.89 1)" font-size="7.25" fill="#dadada" text-anchor="middle">10</text><path d="M643.7 446.1v3" stroke="#4d4d4d" stroke-width="0.8"/><text transform="translate(643.70 456.40) scale(0.89 1)" font-size="7.25" fill="#dadada" text-anchor="middle">20</text><path d="M666.55 446.1v3" stroke="#4d4d4d" stroke-width="0.8"/><text transform="translate(666.55 456.40) scale(0.89 1)" font-size="7.25" fill="#dadada" text-anchor="middle">30</text><path d="M689.4 446.1v3" stroke="#4d4d4d" stroke-width="0.8"/><text transform="translate(689.40 456.40) scale(0.89 1)" font-size="7.25" fill="#dadada" text-anchor="middle">40</text><path d="M596.86 440.4V439.55H599.14V440.4ZM599.14 440.4V437.23H601.43V440.4ZM601.43 440.4V439.77H603.71V440.4ZM603.71 440.4V439.77H606.00V440.4ZM606.00 440.4V408.67H608.28V440.4ZM608.28 440.4V439.77H610.57V440.4ZM610.57 440.4V439.77H612.85V440.4ZM612.85 440.4V439.77H615.14V440.4ZM615.14 440.4V439.77H617.42V440.4ZM617.42 440.4V425.81H619.71V440.4ZM619.71 440.4V439.34H621.99V440.4ZM621.99 440.4V439.77H624.28V440.4ZM624.28 440.4V439.13H626.56V440.4ZM626.56 440.4V439.77H628.85V440.4ZM628.85 440.4V430.67H631.13V440.4ZM631.13 440.4V437.86H633.42V440.4ZM633.42 440.4V439.34H635.70V440.4ZM635.70 440.4V439.77H637.99V440.4ZM637.99 440.4V431.31H640.27V440.4ZM640.27 440.4V439.77H642.56V440.4ZM642.56 440.4V439.77H644.84V440.4ZM644.84 440.4V439.77H647.13V440.4ZM647.13 440.4V439.55H649.41V440.4ZM649.41 440.4V439.77H651.70V440.4ZM651.70 440.4V439.77H653.98V440.4ZM653.98 440.4V417.35H656.27V440.4ZM656.27 440.4V439.77H658.55V440.4ZM658.55 440.4V439.77H660.84V440.4ZM660.84 440.4V439.34H663.12V440.4ZM663.12 440.4V439.13H665.41V440.4ZM665.41 440.4V322.17H667.69V440.4ZM667.69 440.4V434.90H669.98V440.4ZM669.98 440.4V437.02H672.26V440.4ZM672.26 440.4V438.71H674.55V440.4ZM674.55 440.4V439.77H676.83V440.4ZM676.83 440.4V439.34H679.12V440.4ZM679.12 440.4V439.77H681.40V440.4ZM681.40 440.4V433.84H683.69V440.4ZM683.69 440.4V439.77H685.97V440.4ZM685.97 440.4V439.77H688.26V440.4ZM688.26 440.4V439.13H690.54V440.4ZM690.54 440.4V439.77H692.83V440.4ZM692.83 440.4V430.67H695.11V440.4ZM695.11 440.4V439.34H697.40V440.4ZM697.40 440.4V439.77H699.68V440.4ZM699.68 440.4V438.71H701.97V440.4ZM701.97 440.4V387.52H704.25V440.4Z" fill="#8735fb"/><path d="M715.17 317.95A3.5 3.5 0 0 1 718.23 317.95" stroke="#25c24c" stroke-width="2.5" fill="none"/><path d="M717.84 317.79A3.5 3.5 0 0 1 720.01 319.96" stroke="#16c3ae" stroke-width="2.5" fill="none"/><path d="M719.85 319.57A3.5 3.5 0 0 1 719.85 322.63" stroke="#2ca8ef" stroke-width="2.5" fill="none"/><path d="M720.01 322.24A3.5 3.5 0 0 1 717.84 324.41" stroke="#9a3ab2" stroke-width="2.5" fill="none"/><path d="M718.23 324.25A3.5 3.5 0 0 1 715.17 324.25" stroke="#f0147c" stroke-width="2.5" fill="none"/><path d="M715.56 324.41A3.5 3.5 0 0 1 713.39 322.24" stroke="#f0522a" stroke-width="2.5" fill="none"/><path d="M713.55 322.63A3.5 3.5 0 0 1 713.55 319.57" stroke="#f0941e" stroke-width="2.5" fill="none"/><path d="M713.39 319.96A3.5 3.5 0 0 1 715.56 317.79" stroke="#b4da12" stroke-width="2.5" fill="none"/><circle cx="716.70" cy="317.10" r="1.3" fill="#25c24c"/><circle cx="719.53" cy="318.27" r="1.3" fill="#16c3ae"/><circle cx="720.70" cy="321.10" r="1.3" fill="#2ca8ef"/><circle cx="719.53" cy="323.93" r="1.3" fill="#9a3ab2"/><circle cx="716.70" cy="325.10" r="1.3" fill="#f0147c"/><circle cx="713.87" cy="323.93" r="1.3" fill="#f0522a"/><circle cx="712.70" cy="321.10" r="1.3" fill="#f0941e"/><circle cx="713.87" cy="318.27" r="1.3" fill="#b4da12"/><path d="M709.6 328.09999999999997V357.9" stroke="#2aa3dc" stroke-width="1.3"/><path d="M713.3000000000001 335.59999999999997H720.1M716.7 332.2V338.99999999999994" stroke="#c6c6c6" stroke-width="1" fill="none"/><path d="M712.3000000000001 335.59999999999997l2.2 -1.6v3.2zM721.1 335.59999999999997l-2.2 -1.6v3.2zM716.7 331.2l-1.6 2.2h3.2zM716.7 339.99999999999994l-1.6 -2.2h3.2z" fill="#c6c6c6"/><path d="M714.3000000000001 343.0h4.8" stroke="#b4b4b4" stroke-width="1.1"/><g stroke="#c6c6c6" stroke-width="0.95" fill="none" stroke-linecap="round"><rect x="712.5" y="347.4" width="3.1" height="6.8" rx="1" stroke-dasharray="2.2 0.7"/><circle cx="718.8000000000001" cy="349.49999999999994" r="2.3"/><path d="M717.1 351.19999999999993V354.19999999999993" stroke-width="1.1"/></g><path d="M714.3000000000001 358.4h4.8" stroke="#b4b4b4" stroke-width="1.1"/><g stroke="#c6c6c6" stroke-width="1.0" fill="none"><path d="M713.32 364.97A3.6 3.6 0 0 1 719.96 364.68"/><path d="M720.08 367.43A3.6 3.6 0 0 1 713.44 367.72"/></g><path d="M721.06 363.08l0.3 2.7l-2.6 -0.3z" fill="#c6c6c6"/><path d="M712.34 369.32l-0.3 -2.7l2.6 0.3z" fill="#c6c6c6"/></svg>
<svg class="abs" style="left:0;top:0;pointer-events:none" width="936" height="526" viewBox="0 0 936 526"><text x="555.4" y="485.2" font-size="7.1" font-weight="700" fill="#fff" transform="translate(555.4 0) scale(0.88 1) translate(-555.4 0)">0 .. 46</text><rect x="556" y="489.59999999999997" width="168.60000000000002" height="5" rx="1" fill="#eaeaea" stroke="#bcbcbc" stroke-width="0.5"/><rect x="554" y="487.9" width="7" height="8.7" rx="1.7" fill="#fff"/><rect x="719.6" y="487.9" width="7" height="8.7" rx="1.7" fill="#fff"/></svg>
<div class="card" style="left:742.5px;top:284.3px;width:187px;height:220.7px"><div class="hd" style="height:25px;line-height:27px">Scatter plot for current_actual_upb count</div></div>
<svg class="abs" style="left:0;top:0;pointer-events:none" width="936" height="526" viewBox="0 0 936 526"><defs><linearGradient id="sg" gradientUnits="userSpaceOnUse" x1="0" y1="321.6" x2="0" y2="476.3"><stop offset="0.0000" stop-color="#2f2f2f"/><stop offset="0.4124" stop-color="#2f2f2f"/><stop offset="0.4189" stop-color="#3a1c78"/><stop offset="0.4745" stop-color="#3f1a86"/><stop offset="0.4790" stop-color="#4a1c96"/><stop offset="0.5520" stop-color="#4d209a"/><stop offset="0.5585" stop-color="#6540ae"/><stop offset="0.6231" stop-color="#7e64bd"/><stop offset="0.6897" stop-color="#9788ca"/><stop offset="0.6981" stop-color="#cfc9ea"/><stop offset="0.7136" stop-color="#b9b0dd"/><stop offset="0.7654" stop-color="#c4bde3"/><stop offset="0.8041" stop-color="#d2cdea"/><stop offset="0.8429" stop-color="#e7e4f4"/><stop offset="0.9076" stop-color="#f5f4fb"/><stop offset="0.9657" stop-color="#f2f0fa"/><stop offset="0.9709" stop-color="#9080cb"/><stop offset="1.0000" stop-color="#8a78c8"/></linearGradient></defs><rect x="788" y="321.6" width="118" height="154.7" fill="none" stroke="#5c5c5c" stroke-width="0.7"/><path d="M784.8 453.75H906" stroke="#4d4d4d" stroke-width="0.8"/><text transform="translate(782.60 455.75) scale(0.89 1)" font-size="7.25" fill="#dadada" text-anchor="end">2.000e+5</text><path d="M784.8 431.5H906" stroke="#4d4d4d" stroke-width="0.8"/><text transform="translate(782.60 433.50) scale(0.89 1)" font-size="7.25" fill="#dadada" text-anchor="end">4.000e+5</text><path d="M784.8 409.25H906" stroke="#4d4d4d" stroke-width="0.8"/><text transform="translate(782.60 411.25) scale(0.89 1)" font-size="7.25" fill="#dadada" text-anchor="end">6.000e+5</text><path d="M784.8 387.0H906" stroke="#4d4d4d" stroke-width="0.8"/><text transform="translate(782.60 389.00) scale(0.89 1)" font-size="7.25" fill="#dadada" text-anchor="end">8.000e+5</text><path d="M784.8 364.75H906" stroke="#4d4d4d" stroke-width="0.8"/><text transform="translate(782.60 366.75) scale(0.89 1)" font-size="7.25" fill="#dadada" text-anchor="end">1.000e+6</text><path d="M784.8 342.5H906" stroke="#4d4d4d" stroke-width="0.8"/><text transform="translate(782.60 344.50) scale(0.89 1)" font-size="7.25" fill="#dadada" text-anchor="end">1.200e+6</text><path d="M800.7 476.3v3" stroke="#4d4d4d" stroke-width="0.8"/><text transform="translate(800.70 486.60) scale(0.89 1)" font-size="7.25" fill="#dadada" text-anchor="middle">2.000e+11</text><path d="M827.2 476.3v3" stroke="#4d4d4d" stroke-width="0.8"/><text transform="translate(827.20 486.60) scale(0.89 1)" font-size="7.25" fill="#dadada" text-anchor="middle">4.000e+11</text><path d="M853 476.3v3" stroke="#4d4d4d" stroke-width="0.8"/><text transform="translate(853.00 486.60) scale(0.89 1)" font-size="7.25" fill="#dadada" text-anchor="middle">6.000e+11</text><path d="M879.4 476.3v3" stroke="#4d4d4d" stroke-width="0.8"/><text transform="translate(879.40 486.60) scale(0.89 1)" font-size="7.25" fill="#dadada" text-anchor="middle">8.000e+11</text><rect x="788.4" y="322.0" width="117.2" height="153.89999999999998" fill="url(#sg)"/><path d="M853.7 377.8h.6v2.6h-.6zM888.0 377.8h.6v1.2h-.6zM848.1 369.1h.6v1.2h-.6zM823.8 363.5h.6v0.8h-.6zM892.1 379.7h.6v0.8h-.6zM834.6 380.9h.6v2.6h-.6zM860.2 381.9h.6v1.2h-.6zM885.3 381.4h.6v0.8h-.6zM810.6 360.1h.6v1.2h-.6zM879.1 380.9h.6v1.8h-.6zM886.6 377.6h.6v1.2h-.6zM846.7 381.7h.6v0.8h-.6zM820.9 378.0h.6v0.8h-.6zM825.2 382.8h.6v1.2h-.6zM792.0 379.2h.6v0.8h-.6zM887.0 376.6h.6v2.6h-.6zM790.5 360.9h.6v0.8h-.6zM896.4 370.4h.6v0.8h-.6zM902.6 378.3h.6v2.6h-.6zM854.4 377.1h.6v1.2h-.6zM819.9 384.0h.6v0.8h-.6zM790.3 374.0h.6v2.6h-.6zM802.2 383.6h.6v1.2h-.6zM789.8 382.8h.6v2.6h-.6zM809.2 384.2h.6v1.2h-.6zM810.7 377.7h.6v1.2h-.6zM833.2 377.0h.6v2.6h-.6zM813.3 377.1h.6v1.8h-.6zM902.0 385.2h.6v1.8h-.6zM790.8 387.0h.6v1.2h-.6zM887.9 376.4h.6v0.8h-.6zM805.5 357.7h.6v2.6h-.6zM878.4 372.2h.6v1.8h-.6zM833.5 384.7h.6v0.8h-.6zM856.3 363.2h.6v1.2h-.6zM831.4 351.7h.6v2.6h-.6zM856.9 365.9h.6v1.2h-.6zM809.8 385.2h.6v1.2h-.6zM815.1 374.0h.6v1.2h-.6zM806.9 383.1h.6v1.2h-.6zM833.7 382.5h.6v2.6h-.6zM837.6 381.0h.6v0.8h-.6zM848.1 364.7h.6v1.8h-.6zM870.5 371.4h.6v1.8h-.6zM893.8 377.1h.6v2.6h-.6zM808.9 373.4h.6v0.8h-.6zM844.3 365.9h.6v0.8h-.6zM895.3 373.0h.6v1.2h-.6zM796.5 383.5h.6v2.6h-.6zM795.5 377.7h.6v1.2h-.6zM850.3 373.0h.6v1.2h-.6zM804.6 363.3h.6v2.6h-.6zM865.0 386.8h.6v1.2h-.6zM896.0 380.7h.6v2.6h-.6zM870.1 385.8h.6v0.8h-.6zM862.6 353.5h.6v2.6h-.6zM824.7 361.0h.6v1.2h-.6zM797.3 387.0h.6v1.8h-.6zM893.3 383.3h.6v1.2h-.6zM895.0 384.2h.6v1.8h-.6zM843.6 362.7h.6v0.8h-.6zM837.1 385.3h.6v0.8h-.6zM855.2 385.2h.6v2.6h-.6zM789.9 376.0h.6v0.8h-.6zM862.9 362.3h.6v1.8h-.6zM873.3 385.4h.6v2.6h-.6zM869.3 386.2h.6v2.6h-.6zM886.1 377.6h.6v0.8h-.6zM848.4 379.3h.6v1.8h-.6zM844.5 381.0h.6v1.2h-.6zM801.6 386.5h.6v2.6h-.6zM789.8 372.1h.6v1.8h-.6zM859.7 366.9h.6v1.2h-.6zM828.4 383.6h.6v2.6h-.6zM816.6 378.9h.6v2.6h-.6zM811.6 382.1h.6v2.6h-.6zM876.3 384.3h.6v1.2h-.6zM833.2 385.4h.6v1.8h-.6zM804.2 370.3h.6v1.8h-.6zM887.3 384.8h.6v0.8h-.6zM820.7 386.4h.6v1.2h-.6zM843.4 364.9h.6v1.2h-.6zM833.0 384.7h.6v2.6h-.6zM871.9 382.2h.6v2.6h-.6zM885.0 374.3h.6v1.8h-.6zM793.3 385.3h.6v1.8h-.6zM824.5 380.4h.6v0.8h-.6zM835.7 381.7h.6v1.2h-.6zM885.1 354.4h.6v1.2h-.6zM881.3 384.0h.6v0.8h-.6zM861.8 377.7h.6v1.8h-.6zM868.2 386.5h.6v1.2h-.6zM818.3 384.6h.6v0.8h-.6zM850.8 383.6h.6v0.8h-.6zM820.2 368.8h.6v1.8h-.6zM898.7 379.8h.6v1.2h-.6zM880.7 376.4h.6v1.2h-.6zM897.1 362.9h.6v2.6h-.6zM841.3 366.1h.6v0.8h-.6zM854.7 375.9h.6v1.8h-.6zM864.3 378.1h.6v1.2h-.6zM889.3 363.9h.6v0.8h-.6zM893.3 370.4h.6v0.8h-.6zM851.0 386.7h.6v1.8h-.6zM872.1 372.3h.6v0.8h-.6zM798.1 375.1h.6v2.6h-.6zM837.6 375.0h.6v1.8h-.6zM791.8 378.6h.6v0.8h-.6zM792.6 377.3h.6v1.8h-.6zM895.1 382.5h.6v2.6h-.6zM848.6 367.2h.6v2.6h-.6zM845.8 386.3h.6v0.8h-.6zM839.6 383.6h.6v1.8h-.6zM853.9 384.7h.6v1.2h-.6zM886.7 379.4h.6v1.8h-.6zM832.9 374.0h.6v1.2h-.6zM804.9 373.8h.6v1.8h-.6zM811.9 380.4h.6v0.8h-.6zM858.9 379.0h.6v0.8h-.6zM793.6 379.7h.6v2.6h-.6zM903.7 379.8h.6v0.8h-.6zM868.9 378.7h.6v0.8h-.6zM841.9 386.1h.6v2.6h-.6zM843.6 372.6h.6v1.2h-.6zM893.4 374.9h.6v2.6h-.6zM801.1 379.5h.6v2.6h-.6zM896.2 381.3h.6v1.2h-.6zM902.3 382.7h.6v0.8h-.6zM815.0 369.6h.6v1.8h-.6zM829.9 374.3h.6v2.6h-.6zM873.6 364.3h.6v0.8h-.6zM861.1 385.0h.6v1.2h-.6zM890.8 382.7h.6v0.8h-.6zM836.6 375.9h.6v1.2h-.6zM889.1 379.7h.6v1.2h-.6zM887.6 379.6h.6v1.2h-.6zM874.7 371.2h.6v1.8h-.6zM825.3 385.7h.6v1.8h-.6zM811.2 385.6h.6v1.2h-.6zM804.1 385.5h.6v1.2h-.6zM798.8 366.3h.6v2.6h-.6zM885.4 363.7h.6v2.6h-.6zM870.5 379.8h.6v1.2h-.6zM868.3 376.6h.6v0.8h-.6zM854.8 363.7h.6v1.8h-.6zM901.2 385.9h.6v0.8h-.6zM862.4 382.8h.6v1.8h-.6zM868.3 379.0h.6v1.2h-.6zM844.6 384.3h.6v0.8h-.6zM852.7 356.9h.6v2.6h-.6zM810.0 367.1h.6v1.2h-.6zM806.9 368.5h.6v1.8h-.6zM799.6 386.1h.6v0.8h-.6zM867.8 366.4h.6v0.8h-.6zM826.5 383.7h.6v2.6h-.6zM829.8 377.2h.6v1.2h-.6zM790.0 381.0h.6v0.8h-.6zM809.6 384.9h.6v2.6h-.6zM831.6 375.5h.6v1.2h-.6zM799.5 381.0h.6v0.8h-.6zM798.4 374.4h.6v2.6h-.6zM810.7 380.4h.6v1.8h-.6zM818.6 384.3h.6v0.8h-.6zM879.1 383.4h.6v2.6h-.6zM826.9 366.3h.6v1.8h-.6zM877.6 383.8h.6v2.6h-.6zM810.0 370.1h.6v1.8h-.6zM800.2 373.7h.6v1.8h-.6zM893.6 386.9h.6v0.8h-.6zM898.5 371.2h.6v1.8h-.6zM865.3 374.8h.6v1.2h-.6zM833.8 379.6h.6v2.6h-.6zM870.1 381.7h.6v2.6h-.6zM791.2 386.7h.6v0.8h-.6zM818.4 383.3h.6v2.6h-.6zM877.1 379.0h.6v2.6h-.6zM818.6 349.8h.6v1.8h-.6zM852.5 385.8h.6v2.6h-.6zM854.6 386.6h.6v0.8h-.6zM882.7 381.6h.6v0.8h-.6zM866.3 380.0h.6v0.8h-.6zM897.8 376.2h.6v2.6h-.6zM808.2 378.3h.6v2.6h-.6zM857.9 379.8h.6v2.6h-.6zM837.5 386.3h.6v2.6h-.6zM831.1 380.9h.6v1.8h-.6zM819.9 378.6h.6v1.8h-.6zM875.5 382.1h.6v0.8h-.6zM817.0 351.2h.6v0.8h-.6zM836.1 381.5h.6v2.6h-.6zM825.2 359.2h.6v2.6h-.6zM903.6 358.9h.6v1.8h-.6zM893.9 361.6h.6v2.6h-.6zM817.7 383.0h.6v1.2h-.6zM800.0 358.2h.6v2.6h-.6zM900.2 367.0h.6v1.2h-.6zM801.9 381.0h.6v2.6h-.6zM812.2 377.9h.6v0.8h-.6zM806.5 375.4h.6v1.8h-.6zM866.2 377.6h.6v2.6h-.6zM862.9 381.0h.6v2.6h-.6zM875.1 375.6h.6v1.2h-.6zM874.0 386.4h.6v1.2h-.6zM847.0 378.5h.6v1.8h-.6zM861.2 384.0h.6v1.8h-.6zM859.5 372.8h.6v1.2h-.6zM876.2 381.5h.6v1.2h-.6zM847.0 386.4h.6v1.2h-.6zM793.1 385.4h.6v0.8h-.6zM818.7 349.2h.6v0.8h-.6zM800.4 381.4h.6v1.8h-.6zM798.6 361.5h.6v1.2h-.6zM862.0 380.0h.6v1.8h-.6zM829.7 378.6h.6v1.8h-.6zM875.2 375.0h.6v0.8h-.6zM840.6 384.3h.6v1.2h-.6zM875.5 377.7h.6v2.6h-.6zM831.4 384.4h.6v1.8h-.6zM876.8 373.3h.6v1.2h-.6zM831.5 377.3h.6v0.8h-.6zM826.2 378.1h.6v0.8h-.6zM854.6 377.4h.6v2.6h-.6zM878.8 373.6h.6v0.8h-.6zM894.5 374.0h.6v0.8h-.6zM846.1 382.6h.6v1.8h-.6zM805.1 373.1h.6v1.8h-.6zM826.6 382.0h.6v0.8h-.6zM839.8 374.4h.6v1.8h-.6zM882.0 377.5h.6v1.8h-.6zM814.2 378.0h.6v1.2h-.6zM884.9 362.6h.6v0.8h-.6zM834.5 375.6h.6v2.6h-.6zM874.5 384.2h.6v1.8h-.6zM851.4 384.2h.6v1.2h-.6zM876.8 368.7h.6v1.8h-.6zM814.3 384.5h.6v0.8h-.6zM854.6 379.8h.6v0.8h-.6zM882.1 381.9h.6v0.8h-.6zM824.1 380.6h.6v0.8h-.6zM820.4 374.7h.6v0.8h-.6zM798.4 385.7h.6v1.2h-.6zM883.5 363.8h.6v2.6h-.6zM814.2 371.7h.6v1.8h-.6zM834.4 383.7h.6v1.8h-.6zM827.3 384.4h.6v1.2h-.6zM851.0 378.8h.6v0.8h-.6zM895.0 382.8h.6v2.6h-.6zM903.2 383.6h.6v1.8h-.6zM882.3 385.1h.6v0.8h-.6zM900.0 385.5h.6v0.8h-.6zM871.2 379.4h.6v0.8h-.6zM837.4 377.1h.6v1.2h-.6zM807.4 371.7h.6v2.6h-.6zM825.9 382.4h.6v2.6h-.6zM822.5 377.2h.6v0.8h-.6zM873.6 378.3h.6v1.8h-.6zM878.8 381.8h.6v1.2h-.6zM876.2 385.9h.6v0.8h-.6zM894.3 380.6h.6v0.8h-.6zM811.5 374.1h.6v1.8h-.6zM815.9 370.6h.6v2.6h-.6zM814.6 380.8h.6v1.2h-.6zM835.3 385.6h.6v1.8h-.6zM898.1 381.4h.6v2.6h-.6zM844.9 385.1h.6v2.6h-.6zM828.3 385.9h.6v0.8h-.6zM814.2 378.5h.6v0.8h-.6zM804.1 370.6h.6v2.6h-.6zM881.0 386.7h.6v1.8h-.6zM795.2 384.1h.6v1.2h-.6zM890.2 385.6h.6v1.8h-.6zM817.2 377.8h.6v2.6h-.6zM806.8 381.1h.6v1.2h-.6zM805.3 383.9h.6v1.2h-.6zM904.1 381.6h.6v1.8h-.6zM794.7 379.3h.6v1.2h-.6zM884.1 341.3h.6v1.2h-.6zM798.1 384.6h.6v1.8h-.6zM850.0 381.2h.6v2.6h-.6zM798.1 382.6h.6v1.8h-.6zM810.4 352.9h.6v1.2h-.6zM799.1 385.9h.6v2.6h-.6zM851.7 370.2h.6v2.6h-.6zM885.3 367.7h.6v1.8h-.6zM835.7 374.2h.6v1.8h-.6zM866.2 387.0h.6v0.8h-.6zM868.5 375.5h.6v0.8h-.6zM867.2 382.2h.6v0.8h-.6zM789.9 381.9h.6v2.6h-.6zM843.8 382.9h.6v1.8h-.6zM841.8 380.2h.6v0.8h-.6zM886.8 385.1h.6v1.2h-.6zM806.2 385.7h.6v2.6h-.6zM875.8 386.2h.6v1.8h-.6zM853.2 383.6h.6v0.8h-.6zM811.8 372.1h.6v0.8h-.6zM898.5 374.6h.6v2.6h-.6zM827.1 383.1h.6v2.6h-.6zM804.9 363.3h.6v0.8h-.6zM861.9 366.2h.6v1.2h-.6zM835.3 368.9h.6v2.6h-.6zM799.0 380.8h.6v1.2h-.6zM903.4 356.0h.6v2.6h-.6zM797.0 376.7h.6v2.6h-.6zM804.7 386.1h.6v1.2h-.6zM884.1 383.8h.6v2.6h-.6zM895.7 378.5h.6v0.8h-.6zM859.9 383.1h.6v1.8h-.6zM880.4 386.8h.6v0.8h-.6zM810.5 372.3h.6v1.8h-.6zM800.9 381.9h.6v2.6h-.6zM827.2 370.0h.6v1.8h-.6zM859.7 384.6h.6v1.2h-.6zM851.2 372.0h.6v1.8h-.6zM829.5 379.9h.6v1.2h-.6zM811.6 380.4h.6v1.2h-.6zM791.6 380.3h.6v1.2h-.6zM804.4 383.9h.6v2.6h-.6zM869.6 380.5h.6v1.8h-.6zM890.1 363.3h.6v1.8h-.6zM802.9 378.1h.6v1.2h-.6zM854.8 371.5h.6v0.8h-.6zM819.3 380.2h.6v1.8h-.6zM802.8 381.0h.6v0.8h-.6zM892.9 373.3h.6v1.2h-.6zM830.8 383.6h.6v1.2h-.6zM852.3 369.2h.6v0.8h-.6zM835.5 377.9h.6v1.2h-.6zM866.6 373.9h.6v2.6h-.6zM863.0 381.2h.6v0.8h-.6zM836.5 367.8h.6v0.8h-.6zM833.5 366.9h.6v2.6h-.6zM849.0 368.6h.6v1.8h-.6zM897.0 371.7h.6v0.8h-.6zM792.9 381.7h.6v1.2h-.6zM846.4 376.6h.6v0.8h-.6zM836.4 378.3h.6v2.6h-.6zM845.0 383.5h.6v2.6h-.6zM888.0 384.8h.6v2.6h-.6zM802.2 384.6h.6v0.8h-.6zM849.7 385.8h.6v2.6h-.6zM791.3 377.1h.6v0.8h-.6zM860.2 373.5h.6v2.6h-.6zM858.1 383.2h.6v1.8h-.6zM890.6 385.5h.6v1.2h-.6zM840.5 365.7h.6v2.6h-.6zM843.9 386.7h.6v0.8h-.6zM816.3 379.5h.6v1.8h-.6zM897.9 382.0h.6v0.8h-.6zM873.6 387.0h.6v1.8h-.6zM837.6 385.2h.6v1.2h-.6zM875.4 370.8h.6v0.8h-.6zM800.0 385.7h.6v1.2h-.6zM851.1 365.7h.6v2.6h-.6zM816.9 338.6h.6v1.8h-.6zM808.5 354.2h.6v2.6h-.6zM883.4 385.6h.6v2.6h-.6zM869.1 366.8h.6v1.2h-.6zM792.1 358.3h.6v1.8h-.6zM846.5 373.9h.6v2.6h-.6zM812.1 385.4h.6v0.8h-.6zM886.0 369.6h.6v1.8h-.6zM790.4 385.7h.6v1.2h-.6zM816.0 379.6h.6v0.8h-.6zM824.1 381.9h.6v1.8h-.6zM820.4 386.5h.6v2.6h-.6zM804.2 382.9h.6v2.6h-.6zM808.2 376.9h.6v1.8h-.6zM868.9 365.5h.6v1.8h-.6zM815.9 368.9h.6v1.8h-.6zM831.9 384.1h.6v0.8h-.6zM815.2 380.7h.6v1.8h-.6zM809.5 385.6h.6v1.2h-.6zM863.0 372.9h.6v0.8h-.6zM797.4 378.1h.6v0.8h-.6zM793.8 379.6h.6v1.8h-.6zM837.8 379.7h.6v0.8h-.6zM903.5 368.1h.6v1.2h-.6zM821.0 371.7h.6v0.8h-.6zM892.9 369.2h.6v0.8h-.6zM895.2 381.3h.6v2.6h-.6zM892.3 343.7h.6v0.8h-.6zM853.2 368.9h.6v1.8h-.6zM844.8 374.3h.6v0.8h-.6zM847.4 379.3h.6v1.2h-.6zM878.3 380.8h.6v0.8h-.6zM815.9 381.1h.6v2.6h-.6zM818.3 379.9h.6v1.2h-.6zM851.8 372.3h.6v2.6h-.6zM812.1 372.3h.6v0.8h-.6zM890.1 380.4h.6v1.2h-.6zM859.3 374.4h.6v2.6h-.6zM847.1 384.4h.6v1.8h-.6zM792.1 385.1h.6v0.8h-.6zM854.7 385.8h.6v1.2h-.6zM794.8 381.4h.6v2.6h-.6zM825.1 357.8h.6v1.8h-.6zM846.5 383.7h.6v1.2h-.6zM817.4 376.0h.6v2.6h-.6zM885.2 382.5h.6v2.6h-.6zM836.3 360.3h.6v1.8h-.6zM870.4 382.7h.6v0.8h-.6zM876.4 366.0h.6v1.2h-.6zM841.5 367.0h.6v0.8h-.6zM836.2 344.6h.6v1.2h-.6zM853.2 363.3h.6v2.6h-.6zM797.4 377.2h.6v0.8h-.6zM872.0 382.4h.6v1.2h-.6zM802.3 373.5h.6v1.2h-.6zM798.5 377.0h.6v1.2h-.6zM827.7 375.6h.6v1.2h-.6zM835.4 357.3h.6v0.8h-.6zM854.5 383.3h.6v1.2h-.6zM834.2 378.1h.6v1.2h-.6zM879.4 376.1h.6v1.2h-.6zM817.2 377.0h.6v1.2h-.6zM835.1 378.5h.6v2.6h-.6zM843.5 383.7h.6v2.6h-.6zM867.6 386.9h.6v2.6h-.6zM833.1 370.0h.6v0.8h-.6zM820.7 358.5h.6v1.8h-.6zM848.9 381.3h.6v1.8h-.6zM854.5 379.2h.6v1.2h-.6zM830.5 372.6h.6v1.2h-.6zM878.9 383.2h.6v1.2h-.6zM872.7 383.8h.6v0.8h-.6zM826.0 353.2h.6v2.6h-.6zM888.0 377.8h.6v2.6h-.6zM878.2 374.4h.6v0.8h-.6zM859.3 373.7h.6v2.6h-.6zM806.1 357.5h.6v1.2h-.6zM824.8 355.9h.6v2.6h-.6zM869.3 378.4h.6v1.8h-.6zM841.1 374.1h.6v2.6h-.6zM812.3 367.1h.6v1.8h-.6zM840.8 379.7h.6v1.2h-.6zM889.3 376.2h.6v1.2h-.6zM831.6 364.2h.6v1.2h-.6zM887.2 366.7h.6v2.6h-.6zM882.6 380.3h.6v1.8h-.6zM796.3 382.0h.6v1.2h-.6zM829.6 380.1h.6v0.8h-.6zM889.6 386.4h.6v1.2h-.6zM818.7 384.0h.6v2.6h-.6zM845.9 365.4h.6v2.6h-.6zM826.7 376.1h.6v2.6h-.6zM814.3 382.8h.6v2.6h-.6zM877.9 369.9h.6v1.8h-.6zM816.4 382.1h.6v0.8h-.6zM894.1 383.4h.6v1.2h-.6zM818.4 378.4h.6v1.8h-.6zM791.2 382.7h.6v2.6h-.6zM894.4 365.5h.6v2.6h-.6zM832.4 372.7h.6v1.8h-.6zM826.4 378.2h.6v1.8h-.6zM792.6 361.5h.6v1.8h-.6zM854.3 385.6h.6v1.8h-.6zM891.8 384.5h.6v2.6h-.6zM828.2 376.1h.6v1.8h-.6zM870.8 355.8h.6v1.2h-.6zM861.5 383.8h.6v2.6h-.6zM795.9 381.2h.6v0.8h-.6zM890.9 384.7h.6v2.6h-.6zM833.3 386.6h.6v1.2h-.6zM820.3 382.4h.6v2.6h-.6zM902.2 375.5h.6v1.2h-.6zM819.9 381.0h.6v1.8h-.6zM815.8 382.4h.6v0.8h-.6zM902.5 386.1h.6v0.8h-.6zM846.0 371.5h.6v0.8h-.6zM853.8 381.4h.6v1.8h-.6zM800.6 372.4h.6v0.8h-.6zM871.8 374.1h.6v2.6h-.6zM900.7 382.5h.6v1.2h-.6zM860.9 367.8h.6v2.6h-.6zM822.7 384.4h.6v2.6h-.6zM875.7 373.2h.6v2.6h-.6zM817.5 371.4h.6v1.8h-.6zM895.3 382.8h.6v1.2h-.6zM903.6 385.4h.6v0.8h-.6zM824.6 385.5h.6v2.6h-.6zM867.6 379.2h.6v0.8h-.6zM889.3 368.0h.6v2.6h-.6zM818.1 359.3h.6v2.6h-.6zM862.4 372.0h.6v1.8h-.6zM826.5 383.0h.6v1.8h-.6zM812.3 385.1h.6v1.2h-.6zM837.5 380.3h.6v1.2h-.6zM885.2 381.4h.6v1.2h-.6zM832.4 365.8h.6v1.8h-.6zM810.0 371.2h.6v0.8h-.6zM869.3 378.3h.6v1.2h-.6zM820.1 372.6h.6v1.8h-.6zM834.7 381.5h.6v1.2h-.6zM871.5 358.7h.6v0.8h-.6zM811.1 385.3h.6v1.8h-.6zM904.2 383.2h.6v0.8h-.6zM893.8 376.7h.6v2.6h-.6zM796.3 368.4h.6v2.6h-.6zM886.1 384.3h.6v1.8h-.6zM872.5 370.8h.6v2.6h-.6zM902.7 383.8h.6v2.6h-.6zM813.7 382.3h.6v1.8h-.6zM805.6 384.3h.6v1.2h-.6zM853.2 384.8h.6v1.8h-.6zM838.9 385.4h.6v1.2h-.6zM790.7 374.4h.6v1.2h-.6zM835.1 372.8h.6v1.8h-.6zM844.6 371.0h.6v1.8h-.6zM853.6 380.0h.6v1.2h-.6zM892.4 360.7h.6v1.8h-.6zM789.0 382.2h.6v1.8h-.6zM904.6 378.6h.6v1.2h-.6zM836.1 386.9h.6v0.8h-.6zM882.4 376.9h.6v2.6h-.6zM813.5 380.1h.6v1.8h-.6zM897.8 372.9h.6v1.2h-.6zM840.1 386.9h.6v0.8h-.6zM791.6 368.7h.6v1.2h-.6zM867.1 379.7h.6v1.8h-.6zM876.2 375.4h.6v1.8h-.6zM842.7 360.5h.6v1.2h-.6zM830.9 360.6h.6v1.8h-.6zM880.7 384.4h.6v2.6h-.6zM882.0 376.5h.6v0.8h-.6zM844.6 386.2h.6v2.6h-.6zM894.4 371.9h.6v0.8h-.6zM804.9 349.2h.6v1.8h-.6zM831.5 376.2h.6v1.8h-.6zM830.9 384.4h.6v2.6h-.6zM821.0 375.3h.6v1.8h-.6zM819.3 380.8h.6v1.2h-.6zM813.1 383.4h.6v1.2h-.6zM867.7 379.9h.6v1.2h-.6zM806.6 375.1h.6v1.8h-.6zM838.6 375.2h.6v0.8h-.6zM794.6 376.5h.6v0.8h-.6zM851.0 374.3h.6v1.2h-.6zM808.8 353.4h.6v0.8h-.6zM801.1 383.6h.6v1.8h-.6zM900.6 377.3h.6v1.2h-.6zM879.3 378.9h.6v1.2h-.6zM796.6 384.5h.6v2.6h-.6zM826.0 386.3h.6v1.2h-.6zM849.6 383.9h.6v0.8h-.6zM862.4 367.2h.6v2.6h-.6zM794.9 385.8h.6v1.8h-.6zM888.2 385.5h.6v2.6h-.6zM854.6 379.0h.6v0.8h-.6zM874.5 365.5h.6v2.6h-.6zM842.9 377.5h.6v2.6h-.6zM832.2 379.0h.6v0.8h-.6zM792.2 379.2h.6v2.6h-.6zM857.6 377.7h.6v0.8h-.6zM806.2 386.1h.6v2.6h-.6zM818.3 374.5h.6v1.8h-.6zM843.1 369.3h.6v2.6h-.6zM901.2 359.2h.6v2.6h-.6zM810.3 364.8h.6v1.2h-.6zM881.3 384.7h.6v1.8h-.6zM796.0 386.9h.6v0.8h-.6zM817.7 382.9h.6v1.8h-.6zM850.9 377.9h.6v2.6h-.6zM821.0 369.6h.6v1.2h-.6zM853.1 361.6h.6v2.6h-.6zM796.9 385.4h.6v2.6h-.6zM878.2 385.1h.6v0.8h-.6zM806.2 384.2h.6v1.8h-.6zM827.3 368.8h.6v1.8h-.6zM814.1 386.4h.6v1.8h-.6zM809.7 365.3h.6v2.6h-.6zM867.9 355.8h.6v2.6h-.6zM796.9 385.7h.6v1.2h-.6zM825.3 379.6h.6v1.2h-.6zM904.2 380.2h.6v2.6h-.6zM828.0 351.7h.6v1.8h-.6zM898.6 384.9h.6v1.2h-.6zM809.5 382.6h.6v1.2h-.6zM856.1 368.5h.6v0.8h-.6zM802.0 366.0h.6v1.8h-.6zM830.1 381.1h.6v1.2h-.6zM796.5 348.4h.6v1.2h-.6zM830.4 383.3h.6v1.8h-.6zM811.8 383.8h.6v0.8h-.6zM837.9 381.5h.6v2.6h-.6zM804.1 372.9h.6v0.8h-.6zM828.8 386.3h.6v2.6h-.6zM855.9 371.3h.6v1.8h-.6zM890.6 365.6h.6v0.8h-.6zM841.5 382.3h.6v2.6h-.6zM875.0 376.2h.6v1.2h-.6zM796.0 377.8h.6v2.6h-.6zM856.5 374.7h.6v1.8h-.6zM869.4 373.4h.6v1.2h-.6zM832.1 351.6h.6v1.8h-.6zM820.9 376.2h.6v0.8h-.6zM887.5 384.6h.6v0.8h-.6zM800.1 379.9h.6v1.2h-.6zM830.8 363.0h.6v1.8h-.6zM857.2 355.6h.6v1.8h-.6zM883.4 386.9h.6v0.8h-.6zM806.6 382.2h.6v0.8h-.6zM842.6 375.5h.6v1.8h-.6zM864.4 378.5h.6v0.8h-.6zM902.2 386.6h.6v2.6h-.6zM815.3 377.4h.6v0.8h-.6zM796.2 387.0h.6v2.6h-.6zM880.5 382.0h.6v1.2h-.6zM856.5 379.3h.6v2.6h-.6zM805.1 375.7h.6v2.6h-.6zM881.0 363.6h.6v0.8h-.6zM864.0 368.2h.6v1.8h-.6zM901.4 382.1h.6v2.6h-.6zM802.4 383.9h.6v2.6h-.6zM831.7 367.6h.6v1.8h-.6zM892.8 386.3h.6v0.8h-.6zM836.6 364.6h.6v0.8h-.6zM799.5 383.9h.6v0.8h-.6zM816.2 361.0h.6v0.8h-.6zM824.4 379.1h.6v1.8h-.6zM817.2 383.9h.6v2.6h-.6zM903.7 378.2h.6v2.6h-.6zM800.7 368.4h.6v1.2h-.6zM800.6 385.0h.6v1.2h-.6zM854.2 366.9h.6v1.2h-.6zM859.8 376.7h.6v0.8h-.6zM789.7 376.9h.6v1.2h-.6zM801.2 384.2h.6v2.6h-.6zM850.3 367.7h.6v0.8h-.6zM845.9 376.7h.6v0.8h-.6zM823.4 376.3h.6v1.2h-.6zM801.5 372.3h.6v2.6h-.6zM845.4 374.6h.6v1.2h-.6zM846.8 380.3h.6v0.8h-.6zM823.3 376.4h.6v1.8h-.6zM798.3 370.7h.6v2.6h-.6zM864.0 376.1h.6v1.8h-.6zM794.3 377.8h.6v0.8h-.6zM833.0 368.0h.6v1.8h-.6zM814.4 376.5h.6v0.8h-.6zM792.3 382.9h.6v1.8h-.6zM815.3 378.6h.6v2.6h-.6zM832.0 383.2h.6v0.8h-.6zM857.6 347.8h.6v1.2h-.6zM858.1 375.6h.6v1.8h-.6zM812.9 384.9h.6v0.8h-.6zM846.4 374.1h.6v1.8h-.6zM799.3 359.3h.6v1.8h-.6zM882.5 380.7h.6v2.6h-.6zM832.0 381.8h.6v0.8h-.6zM867.6 373.2h.6v0.8h-.6zM814.7 376.5h.6v1.8h-.6zM825.4 374.5h.6v1.2h-.6zM863.3 384.1h.6v0.8h-.6zM845.6 387.0h.6v2.6h-.6zM852.8 381.4h.6v1.8h-.6zM791.1 381.6h.6v1.2h-.6zM789.1 380.6h.6v2.6h-.6zM867.6 377.0h.6v0.8h-.6zM798.2 368.5h.6v1.2h-.6zM840.6 376.0h.6v2.6h-.6zM840.3 384.3h.6v0.8h-.6zM899.8 384.8h.6v1.8h-.6zM852.3 382.1h.6v0.8h-.6zM834.7 382.8h.6v0.8h-.6zM813.1 386.0h.6v2.6h-.6zM804.8 374.4h.6v0.8h-.6zM820.4 367.6h.6v2.6h-.6zM838.8 355.8h.6v2.6h-.6zM870.3 369.8h.6v2.6h-.6zM868.8 378.8h.6v2.6h-.6zM844.6 379.2h.6v1.2h-.6zM826.2 383.9h.6v0.8h-.6zM807.6 375.1h.6v1.8h-.6zM882.0 375.9h.6v2.6h-.6zM857.0 377.9h.6v2.6h-.6zM856.5 375.4h.6v2.6h-.6zM834.6 382.8h.6v0.8h-.6zM815.7 382.7h.6v1.8h-.6zM836.3 375.2h.6v0.8h-.6zM796.0 372.2h.6v1.8h-.6zM871.9 376.0h.6v2.6h-.6zM796.1 385.8h.6v1.2h-.6zM894.4 386.7h.6v2.6h-.6zM802.2 376.2h.6v1.2h-.6zM800.4 383.6h.6v1.8h-.6zM806.0 378.9h.6v1.8h-.6zM852.7 380.3h.6v1.8h-.6zM840.5 378.7h.6v1.8h-.6zM799.9 384.4h.6v1.2h-.6zM811.7 370.6h.6v1.8h-.6zM877.5 365.5h.6v1.2h-.6zM896.0 385.7h.6v1.8h-.6zM899.2 375.6h.6v1.8h-.6zM885.2 381.1h.6v1.8h-.6zM830.2 364.8h.6v1.2h-.6zM818.0 379.7h.6v1.8h-.6zM853.8 373.2h.6v1.8h-.6zM820.2 378.6h.6v1.8h-.6zM898.3 384.2h.6v1.2h-.6zM807.1 385.3h.6v1.2h-.6zM851.8 381.1h.6v1.2h-.6zM865.3 379.7h.6v1.8h-.6zM838.2 373.9h.6v1.8h-.6zM851.7 381.9h.6v2.6h-.6zM831.6 377.9h.6v1.2h-.6zM847.4 386.3h.6v1.8h-.6zM797.3 385.5h.6v0.8h-.6zM896.4 380.5h.6v0.8h-.6zM788.8 373.7h.6v0.8h-.6zM831.3 369.6h.6v1.8h-.6zM795.7 385.3h.6v0.8h-.6zM836.6 366.8h.6v1.2h-.6zM868.2 386.8h.6v0.8h-.6zM867.6 377.5h.6v0.8h-.6zM829.7 379.5h.6v2.6h-.6zM890.9 386.0h.6v0.8h-.6zM845.1 377.0h.6v0.8h-.6zM791.9 382.6h.6v0.8h-.6zM823.4 366.4h.6v1.8h-.6zM820.2 370.7h.6v1.2h-.6zM899.1 386.7h.6v1.2h-.6zM897.3 385.1h.6v0.8h-.6zM881.1 381.1h.6v1.8h-.6zM798.6 386.1h.6v1.2h-.6zM792.2 386.5h.6v0.8h-.6zM823.5 373.6h.6v0.8h-.6zM805.9 376.9h.6v1.2h-.6zM849.0 382.5h.6v0.8h-.6zM796.4 339.1h.6v1.2h-.6zM885.5 386.7h.6v2.6h-.6zM814.0 375.2h.6v2.6h-.6zM878.2 351.5h.6v1.8h-.6zM831.5 358.6h.6v1.8h-.6zM829.5 379.4h.6v1.2h-.6zM836.7 386.1h.6v1.2h-.6zM818.0 367.3h.6v2.6h-.6zM895.4 370.7h.6v1.2h-.6zM864.7 371.4h.6v1.8h-.6zM855.3 380.9h.6v0.8h-.6zM815.5 369.1h.6v1.8h-.6zM874.6 379.1h.6v1.2h-.6zM880.5 382.3h.6v0.8h-.6zM877.4 362.1h.6v1.2h-.6zM793.7 377.6h.6v1.2h-.6zM830.0 375.8h.6v0.8h-.6zM833.6 386.9h.6v1.2h-.6zM866.5 377.0h.6v1.2h-.6zM880.5 374.8h.6v2.6h-.6zM853.9 385.8h.6v0.8h-.6zM883.8 378.4h.6v0.8h-.6zM792.3 359.1h.6v0.8h-.6zM806.9 377.2h.6v0.8h-.6zM890.7 370.1h.6v1.2h-.6zM828.3 386.1h.6v1.2h-.6zM871.7 366.8h.6v0.8h-.6zM804.3 369.5h.6v1.2h-.6zM873.1 385.5h.6v2.6h-.6zM873.1 375.7h.6v1.8h-.6zM889.9 367.1h.6v1.2h-.6zM867.2 383.1h.6v0.8h-.6zM809.8 373.9h.6v0.8h-.6zM849.3 372.8h.6v2.6h-.6zM849.8 383.7h.6v0.8h-.6zM814.5 362.4h.6v0.8h-.6zM902.1 386.0h.6v1.2h-.6zM827.0 367.9h.6v0.8h-.6zM880.8 373.5h.6v2.6h-.6zM904.6 375.2h.6v2.6h-.6zM810.7 378.1h.6v2.6h-.6zM791.3 386.7h.6v2.6h-.6zM821.3 379.8h.6v0.8h-.6zM874.2 368.5h.6v1.2h-.6zM791.3 386.5h.6v2.6h-.6zM846.6 384.3h.6v0.8h-.6zM809.8 378.1h.6v0.8h-.6zM901.6 368.2h.6v1.8h-.6zM860.5 372.3h.6v1.8h-.6zM817.7 382.5h.6v1.8h-.6zM805.2 368.2h.6v2.6h-.6zM856.8 377.3h.6v1.8h-.6zM894.9 374.7h.6v1.2h-.6zM860.9 382.3h.6v1.2h-.6zM853.8 378.2h.6v1.8h-.6zM897.2 383.7h.6v1.8h-.6zM856.4 371.3h.6v1.2h-.6zM828.0 382.7h.6v0.8h-.6zM788.9 381.6h.6v2.6h-.6zM846.4 380.2h.6v2.6h-.6zM865.6 382.5h.6v2.6h-.6zM855.3 372.6h.6v2.6h-.6zM825.7 359.7h.6v2.6h-.6zM805.1 360.4h.6v0.8h-.6zM840.0 373.0h.6v0.8h-.6zM794.4 373.0h.6v2.6h-.6zM818.1 384.2h.6v0.8h-.6zM853.1 377.2h.6v0.8h-.6zM844.6 378.7h.6v1.8h-.6zM866.0 374.2h.6v1.8h-.6zM863.8 386.1h.6v2.6h-.6zM902.4 384.3h.6v1.2h-.6zM881.3 382.5h.6v1.8h-.6zM881.8 384.4h.6v1.2h-.6zM843.9 365.3h.6v1.2h-.6zM882.6 358.0h.6v1.8h-.6zM863.5 378.3h.6v2.6h-.6zM863.5 386.1h.6v0.8h-.6zM807.1 386.7h.6v1.8h-.6zM889.9 386.8h.6v1.8h-.6zM859.5 372.0h.6v1.8h-.6zM861.0 386.8h.6v1.2h-.6zM866.4 383.5h.6v2.6h-.6zM878.0 385.3h.6v0.8h-.6zM898.3 380.3h.6v2.6h-.6zM871.3 370.9h.6v0.8h-.6zM807.2 353.9h.6v1.2h-.6zM860.5 371.1h.6v0.8h-.6zM848.5 382.6h.6v1.8h-.6zM868.9 378.2h.6v0.8h-.6zM868.4 381.8h.6v0.8h-.6zM896.4 374.6h.6v0.8h-.6zM899.3 373.3h.6v1.8h-.6zM878.6 386.5h.6v1.8h-.6zM813.8 364.7h.6v2.6h-.6zM799.8 360.8h.6v0.8h-.6zM875.2 378.3h.6v1.2h-.6zM897.1 373.3h.6v1.8h-.6zM826.6 371.6h.6v0.8h-.6zM900.1 374.9h.6v1.8h-.6zM899.0 379.5h.6v2.6h-.6zM895.6 370.5h.6v2.6h-.6zM797.7 385.9h.6v2.6h-.6zM868.3 377.4h.6v1.8h-.6zM837.3 380.7h.6v0.8h-.6zM810.5 379.5h.6v0.8h-.6zM809.9 381.2h.6v1.8h-.6zM856.6 384.1h.6v1.8h-.6zM881.3 372.6h.6v0.8h-.6zM841.7 382.8h.6v2.6h-.6zM899.3 386.7h.6v1.2h-.6zM891.9 386.4h.6v0.8h-.6zM788.7 380.0h.6v2.6h-.6zM839.4 382.6h.6v1.2h-.6zM846.5 386.9h.6v1.2h-.6zM864.1 376.6h.6v2.6h-.6zM871.2 358.4h.6v1.2h-.6zM854.9 371.7h.6v2.6h-.6zM797.0 352.2h.6v2.6h-.6zM860.6 383.2h.6v1.2h-.6zM887.7 386.4h.6v2.6h-.6zM890.2 386.8h.6v0.8h-.6zM791.1 374.8h.6v2.6h-.6zM889.7 383.3h.6v1.2h-.6zM880.6 372.2h.6v1.8h-.6zM831.1 377.8h.6v2.6h-.6zM839.2 370.0h.6v1.2h-.6zM836.4 381.4h.6v1.8h-.6zM798.9 381.3h.6v2.6h-.6zM852.6 381.4h.6v2.6h-.6zM847.2 382.3h.6v2.6h-.6zM797.2 385.5h.6v1.2h-.6zM872.8 373.5h.6v2.6h-.6zM864.6 377.4h.6v1.2h-.6zM798.4 381.0h.6v1.8h-.6zM834.1 380.2h.6v2.6h-.6zM838.2 375.0h.6v0.8h-.6zM814.2 381.2h.6v2.6h-.6zM899.8 373.6h.6v2.6h-.6zM856.4 360.1h.6v1.2h-.6zM834.0 384.8h.6v1.8h-.6zM855.9 383.5h.6v1.8h-.6zM867.8 372.1h.6v2.6h-.6zM903.4 379.9h.6v1.2h-.6zM856.5 383.6h.6v0.8h-.6zM854.5 372.8h.6v2.6h-.6zM895.9 374.5h.6v2.6h-.6zM822.2 382.1h.6v2.6h-.6zM799.9 382.3h.6v0.8h-.6zM850.2 378.0h.6v2.6h-.6zM899.5 380.4h.6v1.8h-.6zM794.5 377.4h.6v0.8h-.6zM869.0 373.7h.6v1.8h-.6zM832.8 384.7h.6v1.8h-.6zM855.8 367.1h.6v0.8h-.6zM834.8 379.8h.6v2.6h-.6zM824.7 367.2h.6v1.2h-.6zM791.5 370.1h.6v0.8h-.6zM791.6 381.6h.6v1.2h-.6zM845.4 372.4h.6v0.8h-.6zM822.4 382.1h.6v1.8h-.6zM870.4 370.3h.6v1.8h-.6zM890.7 374.8h.6v1.2h-.6zM870.1 384.9h.6v0.8h-.6zM883.1 377.6h.6v1.8h-.6zM903.4 381.1h.6v1.2h-.6zM858.6 379.9h.6v1.8h-.6zM900.7 367.3h.6v1.8h-.6zM891.7 384.1h.6v1.2h-.6zM895.0 384.7h.6v1.2h-.6zM858.9 378.3h.6v1.8h-.6zM891.2 370.5h.6v1.2h-.6zM795.4 378.5h.6v2.6h-.6zM794.0 383.0h.6v0.8h-.6zM867.7 383.8h.6v0.8h-.6zM793.7 363.6h.6v1.8h-.6zM845.8 383.7h.6v2.6h-.6zM800.4 360.5h.6v0.8h-.6zM860.0 385.8h.6v1.8h-.6zM806.3 358.0h.6v1.8h-.6zM879.2 359.4h.6v1.2h-.6zM829.9 380.2h.6v1.8h-.6zM896.0 344.7h.6v1.8h-.6zM790.4 372.3h.6v1.8h-.6zM808.6 377.0h.6v1.2h-.6zM887.0 364.9h.6v2.6h-.6zM810.6 382.3h.6v2.6h-.6zM846.8 382.6h.6v2.6h-.6zM830.7 384.5h.6v1.8h-.6zM850.1 378.2h.6v1.2h-.6zM823.0 373.1h.6v2.6h-.6zM881.2 355.9h.6v2.6h-.6zM810.8 373.2h.6v2.6h-.6zM875.2 382.6h.6v2.6h-.6zM846.8 363.2h.6v1.2h-.6zM903.9 385.4h.6v1.2h-.6zM817.2 361.7h.6v1.8h-.6zM848.4 379.8h.6v1.8h-.6zM822.2 357.2h.6v1.8h-.6zM797.3 386.9h.6v0.8h-.6zM805.8 350.9h.6v2.6h-.6zM875.9 382.9h.6v2.6h-.6zM897.8 380.2h.6v2.6h-.6zM852.1 380.8h.6v0.8h-.6zM808.7 380.6h.6v2.6h-.6zM816.7 383.4h.6v2.6h-.6zM840.5 370.6h.6v1.8h-.6zM895.8 386.9h.6v0.8h-.6zM872.5 350.5h.6v1.2h-.6zM816.8 381.0h.6v1.8h-.6zM900.0 374.7h.6v0.8h-.6zM809.9 386.7h.6v1.2h-.6zM872.8 384.5h.6v1.2h-.6zM792.5 359.8h.6v1.2h-.6zM862.3 384.1h.6v1.2h-.6zM863.6 385.5h.6v1.8h-.6zM893.4 384.4h.6v1.2h-.6zM801.9 374.3h.6v0.8h-.6zM793.6 386.2h.6v1.8h-.6zM884.4 376.1h.6v1.8h-.6zM863.9 376.2h.6v2.6h-.6zM901.2 378.8h.6v1.2h-.6zM820.0 380.8h.6v1.2h-.6zM796.2 382.3h.6v1.2h-.6zM832.8 382.6h.6v0.8h-.6zM866.5 386.7h.6v2.6h-.6zM825.7 386.2h.6v0.8h-.6zM845.8 360.0h.6v2.6h-.6zM818.0 365.6h.6v0.8h-.6zM902.9 355.1h.6v1.8h-.6zM833.8 380.1h.6v1.2h-.6zM789.8 370.0h.6v1.2h-.6zM844.9 377.8h.6v0.8h-.6zM889.2 362.1h.6v0.8h-.6zM833.1 366.1h.6v1.2h-.6zM860.6 384.9h.6v1.2h-.6zM872.6 383.7h.6v0.8h-.6zM796.3 375.2h.6v1.8h-.6zM792.9 368.0h.6v0.8h-.6zM863.8 371.6h.6v1.2h-.6zM793.9 362.8h.6v1.8h-.6zM895.2 381.0h.6v0.8h-.6zM815.3 380.8h.6v1.2h-.6zM801.6 369.4h.6v1.2h-.6zM849.3 361.6h.6v0.8h-.6zM850.8 368.3h.6v2.6h-.6zM832.5 376.8h.6v0.8h-.6zM843.7 376.2h.6v0.8h-.6zM791.8 386.8h.6v1.8h-.6zM837.7 386.2h.6v2.6h-.6zM821.8 373.3h.6v1.2h-.6zM881.6 367.9h.6v1.8h-.6zM801.0 386.0h.6v0.8h-.6zM823.1 372.4h.6v1.2h-.6zM879.8 383.5h.6v1.2h-.6zM889.2 381.5h.6v1.8h-.6zM801.6 383.8h.6v0.8h-.6zM889.3 383.4h.6v1.8h-.6zM867.3 380.8h.6v1.8h-.6zM886.2 387.0h.6v1.8h-.6zM805.2 386.5h.6v2.6h-.6zM799.0 378.9h.6v0.8h-.6zM855.9 377.4h.6v1.2h-.6zM859.1 374.4h.6v1.2h-.6zM866.2 372.6h.6v0.8h-.6zM831.1 372.4h.6v1.2h-.6zM819.1 379.8h.6v2.6h-.6zM828.0 380.1h.6v0.8h-.6zM868.5 365.1h.6v1.8h-.6zM843.1 381.7h.6v0.8h-.6zM871.8 360.7h.6v1.2h-.6zM809.2 384.3h.6v2.6h-.6zM897.4 385.1h.6v2.6h-.6zM853.9 372.6h.6v1.2h-.6zM874.8 374.1h.6v2.6h-.6zM860.5 379.7h.6v1.2h-.6zM858.2 365.8h.6v0.8h-.6zM886.8 377.1h.6v1.2h-.6zM867.0 380.4h.6v0.8h-.6zM897.1 375.7h.6v1.2h-.6zM884.5 378.0h.6v1.8h-.6zM888.2 379.9h.6v1.8h-.6zM795.2 386.2h.6v0.8h-.6zM800.2 378.4h.6v1.2h-.6zM807.2 385.0h.6v1.8h-.6zM858.7 366.0h.6v1.8h-.6zM831.9 385.9h.6v1.8h-.6zM853.0 385.5h.6v1.2h-.6zM867.3 385.2h.6v1.8h-.6zM878.6 373.2h.6v2.6h-.6zM789.8 378.2h.6v2.6h-.6zM844.6 385.0h.6v1.2h-.6zM795.3 379.1h.6v1.2h-.6zM831.0 375.5h.6v0.8h-.6zM880.8 386.9h.6v1.8h-.6zM859.3 361.7h.6v2.6h-.6zM834.4 384.3h.6v2.6h-.6zM867.9 386.1h.6v1.8h-.6zM802.2 362.3h.6v2.6h-.6zM900.5 379.6h.6v1.2h-.6zM854.7 377.6h.6v0.8h-.6zM877.4 381.0h.6v2.6h-.6zM824.7 381.8h.6v2.6h-.6zM813.3 385.5h.6v0.8h-.6zM808.1 344.4h.6v1.2h-.6zM804.3 366.2h.6v0.8h-.6zM806.5 380.3h.6v1.8h-.6zM858.9 377.7h.6v0.8h-.6zM794.2 373.0h.6v1.2h-.6zM797.2 377.2h.6v0.8h-.6zM827.2 386.7h.6v2.6h-.6zM880.5 385.7h.6v1.2h-.6zM894.6 384.7h.6v1.2h-.6zM823.6 378.3h.6v2.6h-.6zM863.4 370.2h.6v0.8h-.6zM806.8 377.0h.6v2.6h-.6zM825.8 381.3h.6v2.6h-.6zM881.0 385.7h.6v0.8h-.6zM816.3 384.5h.6v1.8h-.6zM852.7 371.8h.6v1.8h-.6zM857.8 385.4h.6v1.8h-.6zM827.7 383.7h.6v2.6h-.6zM897.6 385.3h.6v1.2h-.6zM802.3 378.1h.6v0.8h-.6zM816.8 371.2h.6v2.6h-.6zM863.5 378.8h.6v1.8h-.6zM797.5 369.8h.6v1.2h-.6zM859.0 386.7h.6v1.2h-.6zM847.3 363.1h.6v2.6h-.6zM864.0 376.7h.6v1.8h-.6zM879.5 385.8h.6v0.8h-.6zM829.5 381.8h.6v1.8h-.6zM819.7 380.2h.6v1.2h-.6zM833.4 384.9h.6v0.8h-.6zM825.2 371.9h.6v0.8h-.6zM808.7 386.6h.6v1.8h-.6zM862.6 380.8h.6v1.2h-.6zM850.3 386.8h.6v0.8h-.6zM879.0 379.6h.6v2.6h-.6zM890.7 370.9h.6v1.8h-.6zM898.2 382.7h.6v1.8h-.6zM882.3 386.1h.6v1.8h-.6zM792.0 383.2h.6v1.8h-.6zM789.9 378.8h.6v2.6h-.6zM880.7 362.0h.6v0.8h-.6zM842.9 371.6h.6v2.6h-.6zM792.6 374.3h.6v2.6h-.6zM818.5 377.5h.6v1.2h-.6zM895.9 375.5h.6v0.8h-.6zM882.5 365.8h.6v0.8h-.6zM864.9 368.7h.6v0.8h-.6zM860.3 368.8h.6v1.8h-.6zM855.8 386.9h.6v1.8h-.6zM876.7 386.4h.6v0.8h-.6zM879.0 378.3h.6v0.8h-.6zM850.2 367.7h.6v2.6h-.6zM875.2 384.4h.6v2.6h-.6zM805.4 363.4h.6v0.8h-.6zM900.5 385.2h.6v1.8h-.6zM804.8 365.0h.6v1.2h-.6zM821.0 380.3h.6v1.8h-.6zM827.4 364.2h.6v2.6h-.6zM852.3 340.7h.6v0.8h-.6zM813.1 385.8h.6v1.8h-.6zM878.0 372.5h.6v1.2h-.6zM849.1 376.9h.6v1.2h-.6zM793.3 377.3h.6v0.8h-.6zM800.9 382.3h.6v1.2h-.6zM854.5 380.9h.6v2.6h-.6zM903.4 344.1h.6v2.6h-.6zM843.9 381.4h.6v2.6h-.6zM876.5 368.8h.6v2.6h-.6zM812.8 386.2h.6v0.8h-.6zM838.3 375.6h.6v0.8h-.6zM843.6 385.8h.6v1.2h-.6zM799.1 385.8h.6v1.8h-.6zM872.3 381.8h.6v1.8h-.6zM841.7 377.5h.6v2.6h-.6zM880.9 383.9h.6v1.8h-.6zM869.7 386.6h.6v1.2h-.6zM833.5 358.2h.6v1.8h-.6zM852.5 386.1h.6v2.6h-.6zM814.6 382.2h.6v1.8h-.6zM825.4 355.6h.6v1.8h-.6zM879.9 365.0h.6v0.8h-.6zM886.2 380.8h.6v2.6h-.6zM810.0 374.8h.6v1.8h-.6zM877.6 351.6h.6v1.2h-.6zM883.7 369.2h.6v0.8h-.6zM832.5 369.8h.6v2.6h-.6zM874.3 383.8h.6v1.8h-.6zM845.4 358.0h.6v0.8h-.6zM880.9 378.3h.6v1.8h-.6zM796.0 386.2h.6v1.8h-.6zM900.1 381.0h.6v0.8h-.6zM903.9 368.4h.6v1.2h-.6zM814.5 386.1h.6v2.6h-.6zM840.0 373.7h.6v1.8h-.6zM893.0 370.0h.6v0.8h-.6zM821.8 359.0h.6v1.8h-.6zM834.9 384.4h.6v0.8h-.6zM883.9 380.8h.6v0.8h-.6zM835.5 376.9h.6v1.8h-.6zM846.7 377.5h.6v0.8h-.6zM820.0 373.9h.6v1.8h-.6zM854.3 376.5h.6v1.8h-.6zM841.6 375.7h.6v0.8h-.6zM845.7 374.8h.6v2.6h-.6zM861.0 363.4h.6v0.8h-.6zM823.2 373.5h.6v0.8h-.6zM882.1 371.4h.6v0.8h-.6zM791.8 383.3h.6v0.8h-.6zM849.7 377.6h.6v0.8h-.6zM835.3 377.0h.6v2.6h-.6zM833.5 363.7h.6v1.8h-.6zM880.7 379.0h.6v1.2h-.6zM842.2 382.3h.6v0.8h-.6zM884.7 384.8h.6v0.8h-.6zM803.9 380.9h.6v0.8h-.6zM807.7 386.3h.6v1.8h-.6zM876.3 367.0h.6v2.6h-.6zM862.3 364.9h.6v2.6h-.6zM814.6 347.8h.6v2.6h-.6zM879.0 385.4h.6v1.8h-.6zM836.2 386.5h.6v2.6h-.6zM795.6 383.2h.6v0.8h-.6zM844.3 356.2h.6v1.8h-.6zM856.0 368.4h.6v2.6h-.6zM802.9 386.2h.6v2.6h-.6zM852.8 365.8h.6v0.8h-.6zM833.2 369.0h.6v2.6h-.6zM804.0 379.5h.6v1.8h-.6zM896.9 386.2h.6v1.2h-.6zM811.6 382.8h.6v2.6h-.6zM829.2 381.1h.6v1.8h-.6zM790.8 374.0h.6v0.8h-.6zM903.8 386.1h.6v0.8h-.6zM800.1 382.0h.6v0.8h-.6zM893.0 384.1h.6v1.8h-.6zM840.2 379.9h.6v1.8h-.6zM871.9 386.6h.6v2.6h-.6zM829.4 366.0h.6v1.8h-.6zM858.6 386.4h.6v1.8h-.6zM804.4 383.4h.6v1.8h-.6zM813.1 386.6h.6v1.2h-.6zM802.0 383.4h.6v0.8h-.6zM886.4 386.0h.6v1.8h-.6zM797.1 380.3h.6v0.8h-.6zM795.6 357.9h.6v2.6h-.6zM856.6 358.5h.6v2.6h-.6zM811.7 385.1h.6v1.8h-.6zM831.3 382.6h.6v0.8h-.6zM832.6 383.7h.6v2.6h-.6zM812.4 378.1h.6v2.6h-.6zM884.2 377.6h.6v0.8h-.6zM903.4 367.7h.6v1.2h-.6zM804.5 384.8h.6v2.6h-.6zM857.3 384.6h.6v1.2h-.6zM790.9 382.3h.6v1.2h-.6zM859.9 383.2h.6v1.8h-.6zM862.9 362.6h.6v1.8h-.6zM794.8 382.1h.6v0.8h-.6zM859.1 382.2h.6v0.8h-.6zM883.1 386.5h.6v2.6h-.6zM790.2 378.0h.6v1.2h-.6zM859.8 385.2h.6v1.8h-.6zM863.6 360.4h.6v1.8h-.6zM903.2 381.4h.6v1.2h-.6zM878.4 385.0h.6v1.2h-.6zM892.9 378.1h.6v2.6h-.6zM853.0 382.8h.6v1.8h-.6zM854.8 360.2h.6v1.8h-.6zM868.9 372.8h.6v0.8h-.6zM875.1 380.5h.6v0.8h-.6zM847.8 363.3h.6v1.8h-.6zM828.0 384.3h.6v1.2h-.6zM823.5 380.5h.6v1.8h-.6zM823.6 351.3h.6v1.8h-.6zM888.0 374.9h.6v1.8h-.6zM830.1 382.7h.6v2.6h-.6zM821.6 375.2h.6v1.2h-.6zM874.8 385.2h.6v0.8h-.6zM817.3 375.1h.6v0.8h-.6zM903.7 384.9h.6v1.2h-.6zM801.1 384.7h.6v2.6h-.6zM804.1 381.0h.6v1.8h-.6zM819.8 379.1h.6v2.6h-.6zM796.6 376.1h.6v0.8h-.6zM813.9 372.3h.6v1.8h-.6zM838.3 377.9h.6v1.2h-.6zM895.8 385.5h.6v1.8h-.6zM830.1 385.7h.6v0.8h-.6zM848.2 378.5h.6v1.2h-.6zM872.5 370.9h.6v0.8h-.6zM803.8 384.6h.6v2.6h-.6zM846.2 385.1h.6v2.6h-.6zM793.1 382.7h.6v0.8h-.6zM867.4 386.0h.6v0.8h-.6zM809.0 374.5h.6v2.6h-.6zM878.3 374.6h.6v1.2h-.6zM849.7 376.9h.6v1.8h-.6zM868.6 385.2h.6v1.8h-.6zM878.3 375.2h.6v1.8h-.6zM895.5 370.0h.6v0.8h-.6zM876.0 386.5h.6v2.6h-.6zM807.5 360.4h.6v0.8h-.6zM827.4 382.8h.6v2.6h-.6zM823.0 386.4h.6v1.2h-.6zM790.6 362.7h.6v0.8h-.6zM856.1 367.8h.6v2.6h-.6zM899.2 375.7h.6v1.8h-.6zM810.4 373.9h.6v2.6h-.6zM791.9 364.2h.6v0.8h-.6zM803.1 371.7h.6v1.8h-.6zM885.5 382.5h.6v1.2h-.6zM806.7 371.7h.6v2.6h-.6zM896.0 385.9h.6v2.6h-.6zM831.4 359.1h.6v1.2h-.6zM822.9 360.9h.6v0.8h-.6zM895.3 343.4h.6v0.8h-.6zM793.9 385.2h.6v2.6h-.6zM887.8 371.5h.6v1.2h-.6zM850.7 363.7h.6v0.8h-.6zM800.1 365.8h.6v1.8h-.6zM803.0 377.6h.6v2.6h-.6zM819.4 384.6h.6v2.6h-.6zM871.7 379.7h.6v1.2h-.6zM814.5 382.6h.6v1.2h-.6zM887.5 365.8h.6v1.2h-.6zM798.9 380.0h.6v1.8h-.6zM794.3 377.0h.6v0.8h-.6zM862.0 359.1h.6v2.6h-.6zM833.9 385.4h.6v1.2h-.6zM873.0 368.4h.6v1.2h-.6zM816.7 386.9h.6v2.6h-.6zM882.0 362.6h.6v2.6h-.6zM899.9 377.0h.6v0.8h-.6zM804.1 366.5h.6v1.8h-.6zM881.7 381.7h.6v1.2h-.6zM841.1 380.7h.6v2.6h-.6zM791.8 378.7h.6v1.2h-.6zM882.6 382.4h.6v2.6h-.6zM810.3 385.5h.6v2.6h-.6zM882.3 384.7h.6v1.2h-.6zM812.0 374.2h.6v2.6h-.6zM843.6 383.7h.6v1.2h-.6zM838.7 373.3h.6v1.8h-.6zM891.2 383.6h.6v1.8h-.6zM852.7 373.7h.6v1.2h-.6zM850.8 380.1h.6v1.8h-.6zM797.8 378.1h.6v2.6h-.6zM812.8 378.5h.6v0.8h-.6zM841.7 385.1h.6v2.6h-.6zM898.7 384.2h.6v0.8h-.6zM836.0 380.4h.6v1.2h-.6zM872.4 382.4h.6v1.2h-.6zM797.7 365.4h.6v2.6h-.6zM800.8 364.6h.6v0.8h-.6zM889.4 381.1h.6v1.2h-.6zM895.2 384.6h.6v0.8h-.6zM828.9 353.8h.6v0.8h-.6zM898.3 384.9h.6v0.8h-.6zM793.9 372.2h.6v1.8h-.6zM896.8 376.8h.6v1.2h-.6zM813.2 378.2h.6v2.6h-.6zM882.5 355.3h.6v2.6h-.6zM790.3 367.5h.6v1.8h-.6zM860.0 371.8h.6v1.8h-.6zM853.9 383.2h.6v1.8h-.6zM818.5 383.7h.6v1.2h-.6zM828.7 385.6h.6v0.8h-.6zM863.8 372.2h.6v1.8h-.6zM878.3 383.3h.6v1.2h-.6zM800.1 371.6h.6v1.2h-.6zM842.9 385.6h.6v1.2h-.6zM897.0 375.6h.6v1.2h-.6zM897.4 381.0h.6v1.2h-.6zM826.2 380.6h.6v2.6h-.6zM821.5 381.0h.6v2.6h-.6zM872.4 385.2h.6v1.2h-.6zM816.8 382.1h.6v0.8h-.6zM887.0 377.4h.6v1.8h-.6zM859.0 379.3h.6v0.8h-.6zM853.4 382.3h.6v1.2h-.6zM855.5 373.4h.6v1.8h-.6zM898.7 385.5h.6v1.8h-.6zM834.6 353.4h.6v2.6h-.6zM899.8 378.3h.6v0.8h-.6zM867.9 382.6h.6v1.2h-.6zM865.5 348.0h.6v1.2h-.6zM808.5 379.4h.6v2.6h-.6zM804.9 378.3h.6v2.6h-.6zM849.7 379.5h.6v1.8h-.6zM856.6 383.2h.6v1.8h-.6zM852.4 381.2h.6v1.2h-.6zM831.9 373.3h.6v2.6h-.6zM892.3 378.8h.6v1.2h-.6zM805.5 375.4h.6v2.6h-.6zM827.9 379.3h.6v1.2h-.6zM798.6 376.1h.6v0.8h-.6zM876.1 374.2h.6v1.2h-.6zM839.3 384.0h.6v2.6h-.6zM862.3 381.0h.6v1.8h-.6zM853.7 382.1h.6v0.8h-.6zM852.3 385.1h.6v0.8h-.6zM901.4 377.3h.6v2.6h-.6zM834.1 383.4h.6v1.8h-.6zM791.7 373.6h.6v1.2h-.6zM871.4 368.7h.6v1.2h-.6zM814.3 380.3h.6v1.8h-.6zM888.5 363.0h.6v0.8h-.6zM811.8 379.9h.6v2.6h-.6zM879.9 362.0h.6v1.2h-.6zM831.5 385.1h.6v1.8h-.6zM801.8 385.3h.6v2.6h-.6zM788.9 384.5h.6v2.6h-.6zM899.6 374.4h.6v1.8h-.6zM848.4 374.9h.6v0.8h-.6zM816.2 386.0h.6v1.8h-.6zM807.1 373.2h.6v1.2h-.6zM815.4 370.2h.6v1.8h-.6zM820.0 381.0h.6v2.6h-.6zM897.1 381.6h.6v1.2h-.6zM902.2 371.4h.6v1.8h-.6zM839.1 375.5h.6v2.6h-.6zM904.1 378.9h.6v1.8h-.6zM904.7 376.1h.6v2.6h-.6zM855.7 376.6h.6v2.6h-.6zM899.1 380.2h.6v1.2h-.6zM903.5 363.4h.6v0.8h-.6zM890.2 379.5h.6v1.8h-.6zM880.3 386.6h.6v2.6h-.6zM842.2 364.4h.6v1.2h-.6zM868.2 374.5h.6v2.6h-.6zM845.6 374.1h.6v1.2h-.6zM894.5 380.8h.6v1.2h-.6zM830.6 378.4h.6v0.8h-.6zM838.3 376.9h.6v1.2h-.6zM845.7 369.8h.6v2.6h-.6zM856.9 372.7h.6v0.8h-.6zM794.9 381.2h.6v1.8h-.6zM868.5 379.0h.6v1.2h-.6zM896.9 349.9h.6v1.8h-.6zM904.4 383.5h.6v1.8h-.6zM844.6 371.6h.6v1.2h-.6zM809.2 379.1h.6v0.8h-.6zM903.9 383.4h.6v0.8h-.6zM793.6 364.7h.6v0.8h-.6zM819.2 369.6h.6v2.6h-.6zM842.3 374.5h.6v1.2h-.6zM851.1 377.7h.6v2.6h-.6zM817.4 384.1h.6v0.8h-.6zM798.1 385.1h.6v1.2h-.6zM853.8 369.1h.6v1.8h-.6zM831.7 348.2h.6v2.6h-.6zM789.7 372.2h.6v2.6h-.6zM835.7 372.4h.6v1.8h-.6zM825.4 382.5h.6v1.8h-.6zM814.0 384.9h.6v1.8h-.6zM844.6 347.5h.6v1.2h-.6zM856.4 378.0h.6v2.6h-.6zM825.7 352.4h.6v2.6h-.6zM851.5 382.9h.6v1.8h-.6zM800.7 380.0h.6v2.6h-.6zM876.4 381.0h.6v2.6h-.6zM844.4 386.3h.6v1.8h-.6zM861.8 367.6h.6v0.8h-.6zM886.9 376.4h.6v0.8h-.6zM853.4 366.5h.6v1.8h-.6zM790.0 375.7h.6v2.6h-.6zM793.8 382.1h.6v2.6h-.6zM815.6 361.0h.6v1.2h-.6zM790.5 378.2h.6v1.2h-.6zM810.0 379.5h.6v0.8h-.6zM822.0 383.8h.6v2.6h-.6zM862.5 378.0h.6v2.6h-.6zM886.5 376.8h.6v1.8h-.6zM903.3 385.4h.6v1.2h-.6zM796.6 380.7h.6v1.8h-.6zM859.8 371.8h.6v2.6h-.6zM838.5 381.1h.6v1.2h-.6zM893.5 368.5h.6v0.8h-.6zM825.6 385.5h.6v1.8h-.6zM796.3 379.1h.6v0.8h-.6zM882.7 383.8h.6v2.6h-.6zM840.5 377.8h.6v1.8h-.6zM885.0 374.1h.6v2.6h-.6zM882.0 371.2h.6v2.6h-.6zM789.7 375.6h.6v1.8h-.6zM851.2 381.9h.6v1.2h-.6zM904.5 361.8h.6v0.8h-.6zM821.0 384.1h.6v0.8h-.6zM806.5 381.9h.6v1.8h-.6zM863.2 375.1h.6v1.2h-.6zM893.7 385.7h.6v2.6h-.6zM827.3 370.9h.6v1.8h-.6zM896.8 382.1h.6v2.6h-.6zM795.3 372.1h.6v2.6h-.6zM832.7 378.5h.6v0.8h-.6zM890.2 380.3h.6v1.2h-.6zM875.7 379.4h.6v0.8h-.6zM899.7 380.9h.6v2.6h-.6zM898.4 358.4h.6v2.6h-.6zM889.7 371.1h.6v1.2h-.6zM852.7 385.1h.6v1.8h-.6zM816.7 380.6h.6v0.8h-.6zM856.1 375.2h.6v1.2h-.6zM810.7 383.5h.6v2.6h-.6zM849.6 354.9h.6v2.6h-.6zM804.8 384.6h.6v1.8h-.6zM821.8 382.0h.6v1.8h-.6zM871.0 383.4h.6v1.2h-.6zM868.0 386.4h.6v1.2h-.6zM801.2 363.1h.6v1.8h-.6zM832.6 376.2h.6v1.8h-.6zM816.8 373.7h.6v1.2h-.6zM799.4 376.6h.6v1.8h-.6zM809.0 372.4h.6v1.2h-.6zM870.6 385.4h.6v1.8h-.6zM896.8 385.9h.6v2.6h-.6zM841.9 368.3h.6v0.8h-.6zM826.7 375.6h.6v1.8h-.6zM876.3 348.0h.6v0.8h-.6zM789.6 384.2h.6v0.8h-.6zM805.7 381.5h.6v1.8h-.6zM860.3 371.3h.6v2.6h-.6zM875.3 380.5h.6v1.2h-.6zM824.6 372.7h.6v1.8h-.6zM816.8 375.1h.6v0.8h-.6zM862.2 384.6h.6v2.6h-.6zM871.6 384.6h.6v0.8h-.6zM861.5 381.4h.6v2.6h-.6zM809.7 373.8h.6v1.8h-.6zM831.8 382.6h.6v1.2h-.6zM895.8 382.3h.6v2.6h-.6zM804.8 362.2h.6v2.6h-.6zM839.3 367.8h.6v1.8h-.6zM791.7 375.9h.6v0.8h-.6zM884.8 376.3h.6v0.8h-.6zM850.0 381.9h.6v1.2h-.6zM841.5 382.9h.6v1.8h-.6zM851.9 387.0h.6v1.8h-.6zM844.1 381.0h.6v1.2h-.6zM841.7 386.2h.6v0.8h-.6zM854.9 348.2h.6v2.6h-.6zM821.8 378.5h.6v1.8h-.6zM822.3 379.4h.6v2.6h-.6zM831.1 378.2h.6v0.8h-.6zM879.5 376.2h.6v1.8h-.6zM898.0 379.9h.6v0.8h-.6zM881.1 380.5h.6v2.6h-.6zM893.6 363.8h.6v2.6h-.6zM812.7 381.9h.6v2.6h-.6zM815.6 378.7h.6v0.8h-.6zM874.8 382.8h.6v1.2h-.6zM901.3 386.7h.6v1.8h-.6zM878.2 383.3h.6v2.6h-.6zM876.4 376.0h.6v2.6h-.6zM843.1 354.6h.6v1.8h-.6zM870.1 385.7h.6v1.2h-.6zM847.5 385.2h.6v2.6h-.6zM865.3 362.2h.6v2.6h-.6zM794.2 373.2h.6v1.2h-.6zM894.7 374.2h.6v2.6h-.6zM793.0 379.3h.6v2.6h-.6zM809.5 381.9h.6v0.8h-.6zM847.7 369.0h.6v2.6h-.6zM841.7 370.3h.6v2.6h-.6zM808.0 369.2h.6v0.8h-.6zM795.5 385.7h.6v1.2h-.6zM899.3 372.0h.6v2.6h-.6z" fill="#3d1488" opacity="0.62"/><path d="M805.1 393.8h.8v.9h-.8zM851.6 387.2h.8v.9h-.8zM869.8 394.1h.8v.9h-.8zM899.7 392.8h.8v.9h-.8zM798.5 388.5h.8v.9h-.8zM795.1 391.8h.8v.9h-.8zM823.0 387.7h.8v.9h-.8zM867.8 386.5h.8v.9h-.8zM875.9 387.7h.8v.9h-.8zM873.2 394.3h.8v.9h-.8zM861.6 390.8h.8v.9h-.8zM802.8 389.3h.8v.9h-.8zM869.8 391.8h.8v.9h-.8zM877.8 388.3h.8v.9h-.8zM833.2 393.3h.8v.9h-.8zM833.9 392.8h.8v.9h-.8zM885.3 390.1h.8v.9h-.8zM902.2 393.9h.8v.9h-.8zM874.4 393.1h.8v.9h-.8zM814.4 389.3h.8v.9h-.8zM807.0 389.8h.8v.9h-.8zM797.7 389.9h.8v.9h-.8zM803.0 388.3h.8v.9h-.8zM855.3 392.9h.8v.9h-.8zM854.2 392.3h.8v.9h-.8zM840.4 393.1h.8v.9h-.8zM789.2 390.0h.8v.9h-.8zM809.3 389.6h.8v.9h-.8zM827.4 394.2h.8v.9h-.8zM804.7 389.8h.8v.9h-.8zM846.1 389.8h.8v.9h-.8zM878.2 393.3h.8v.9h-.8zM842.3 388.6h.8v.9h-.8zM865.5 393.8h.8v.9h-.8zM849.6 393.9h.8v.9h-.8zM903.6 388.0h.8v.9h-.8zM899.7 392.0h.8v.9h-.8zM901.4 393.2h.8v.9h-.8zM822.1 393.7h.8v.9h-.8zM898.6 386.9h.8v.9h-.8zM866.1 393.8h.8v.9h-.8zM804.8 393.8h.8v.9h-.8zM863.8 393.1h.8v.9h-.8zM791.3 394.0h.8v.9h-.8zM888.5 390.1h.8v.9h-.8zM830.2 391.4h.8v.9h-.8zM813.4 389.8h.8v.9h-.8zM859.8 391.5h.8v.9h-.8zM903.5 390.6h.8v.9h-.8zM839.5 390.2h.8v.9h-.8zM803.4 386.9h.8v.9h-.8zM854.8 390.8h.8v.9h-.8zM844.2 388.4h.8v.9h-.8zM902.5 394.3h.8v.9h-.8zM839.0 387.8h.8v.9h-.8zM902.5 389.3h.8v.9h-.8zM847.3 393.9h.8v.9h-.8zM861.7 389.3h.8v.9h-.8zM877.3 391.2h.8v.9h-.8zM825.6 388.7h.8v.9h-.8zM829.4 386.2h.8v.9h-.8zM901.4 387.3h.8v.9h-.8zM866.7 393.7h.8v.9h-.8zM876.9 394.0h.8v.9h-.8zM886.9 390.6h.8v.9h-.8zM832.0 390.2h.8v.9h-.8zM816.6 394.3h.8v.9h-.8zM826.1 389.3h.8v.9h-.8zM838.6 390.9h.8v.9h-.8zM853.4 388.7h.8v.9h-.8zM887.0 387.9h.8v.9h-.8zM823.1 393.6h.8v.9h-.8zM821.6 386.7h.8v.9h-.8zM903.5 394.0h.8v.9h-.8zM860.3 387.0h.8v.9h-.8zM874.0 391.4h.8v.9h-.8zM808.2 390.0h.8v.9h-.8zM878.2 391.4h.8v.9h-.8zM822.4 389.1h.8v.9h-.8zM796.9 387.2h.8v.9h-.8zM843.9 388.0h.8v.9h-.8zM857.9 393.3h.8v.9h-.8zM834.1 391.0h.8v.9h-.8zM872.3 389.5h.8v.9h-.8zM835.0 391.2h.8v.9h-.8zM796.8 387.2h.8v.9h-.8zM837.4 390.1h.8v.9h-.8zM855.4 388.1h.8v.9h-.8zM805.7 388.0h.8v.9h-.8zM853.4 392.7h.8v.9h-.8zM789.9 393.9h.8v.9h-.8zM874.9 390.1h.8v.9h-.8zM861.3 386.9h.8v.9h-.8zM856.8 386.7h.8v.9h-.8zM833.4 389.8h.8v.9h-.8zM873.7 387.4h.8v.9h-.8zM825.2 389.1h.8v.9h-.8zM869.9 389.5h.8v.9h-.8zM845.9 391.0h.8v.9h-.8zM834.1 392.6h.8v.9h-.8zM844.4 393.7h.8v.9h-.8zM805.2 391.1h.8v.9h-.8zM900.2 389.5h.8v.9h-.8zM863.3 386.5h.8v.9h-.8zM869.4 389.7h.8v.9h-.8zM862.5 394.0h.8v.9h-.8zM859.5 387.7h.8v.9h-.8zM895.0 390.2h.8v.9h-.8zM861.7 388.3h.8v.9h-.8zM788.7 390.9h.8v.9h-.8zM858.0 387.8h.8v.9h-.8zM803.9 390.6h.8v.9h-.8zM870.0 388.7h.8v.9h-.8zM880.3 394.2h.8v.9h-.8zM853.7 391.8h.8v.9h-.8zM819.5 390.4h.8v.9h-.8zM835.0 393.9h.8v.9h-.8zM818.0 390.2h.8v.9h-.8zM842.8 388.5h.8v.9h-.8zM805.5 391.5h.8v.9h-.8zM841.0 388.5h.8v.9h-.8zM856.8 390.3h.8v.9h-.8zM838.1 389.7h.8v.9h-.8zM877.9 387.7h.8v.9h-.8zM844.3 393.1h.8v.9h-.8zM859.3 386.2h.8v.9h-.8zM873.7 388.8h.8v.9h-.8zM811.7 390.0h.8v.9h-.8zM841.3 394.4h.8v.9h-.8zM828.0 393.7h.8v.9h-.8zM804.9 387.1h.8v.9h-.8zM882.3 387.3h.8v.9h-.8zM838.2 392.9h.8v.9h-.8zM792.1 388.6h.8v.9h-.8zM881.1 390.1h.8v.9h-.8zM849.4 386.5h.8v.9h-.8zM831.7 387.2h.8v.9h-.8zM789.7 390.1h.8v.9h-.8zM888.4 390.1h.8v.9h-.8zM896.1 392.9h.8v.9h-.8zM831.1 389.9h.8v.9h-.8zM816.1 390.5h.8v.9h-.8zM855.6 386.7h.8v.9h-.8zM831.0 388.0h.8v.9h-.8zM825.6 390.3h.8v.9h-.8zM881.4 387.7h.8v.9h-.8zM872.3 390.3h.8v.9h-.8zM896.7 389.0h.8v.9h-.8zM826.7 389.4h.8v.9h-.8zM840.0 390.6h.8v.9h-.8zM807.3 393.0h.8v.9h-.8zM818.9 391.3h.8v.9h-.8zM896.0 391.9h.8v.9h-.8zM887.4 388.3h.8v.9h-.8zM898.5 390.1h.8v.9h-.8zM903.2 393.8h.8v.9h-.8zM832.3 386.5h.8v.9h-.8zM878.9 391.1h.8v.9h-.8zM892.9 391.1h.8v.9h-.8zM814.2 387.5h.8v.9h-.8zM864.8 393.4h.8v.9h-.8zM796.2 391.3h.8v.9h-.8zM803.6 386.7h.8v.9h-.8zM845.0 386.4h.8v.9h-.8zM824.0 390.3h.8v.9h-.8zM808.7 387.5h.8v.9h-.8zM886.4 390.5h.8v.9h-.8zM820.5 388.7h.8v.9h-.8zM877.2 390.4h.8v.9h-.8zM899.2 388.7h.8v.9h-.8zM867.5 388.5h.8v.9h-.8zM831.5 391.2h.8v.9h-.8zM833.4 386.7h.8v.9h-.8zM813.2 390.0h.8v.9h-.8zM792.4 393.3h.8v.9h-.8zM798.1 388.4h.8v.9h-.8zM798.7 391.6h.8v.9h-.8zM850.4 392.3h.8v.9h-.8zM890.5 391.1h.8v.9h-.8zM894.2 387.4h.8v.9h-.8zM847.5 390.4h.8v.9h-.8zM897.4 392.7h.8v.9h-.8zM851.8 393.2h.8v.9h-.8zM792.7 394.4h.8v.9h-.8zM822.8 388.2h.8v.9h-.8zM858.1 390.6h.8v.9h-.8zM825.8 386.9h.8v.9h-.8zM890.5 391.8h.8v.9h-.8zM809.7 386.7h.8v.9h-.8zM855.3 393.8h.8v.9h-.8zM789.5 391.0h.8v.9h-.8zM883.7 386.8h.8v.9h-.8zM904.3 391.2h.8v.9h-.8zM869.7 390.4h.8v.9h-.8zM875.9 387.7h.8v.9h-.8zM886.4 393.2h.8v.9h-.8zM867.3 387.5h.8v.9h-.8zM813.1 388.1h.8v.9h-.8zM899.9 394.3h.8v.9h-.8zM886.8 386.3h.8v.9h-.8zM837.2 391.5h.8v.9h-.8zM801.8 390.9h.8v.9h-.8zM843.5 388.1h.8v.9h-.8zM869.9 387.1h.8v.9h-.8zM904.0 394.3h.8v.9h-.8zM797.4 389.5h.8v.9h-.8zM795.0 390.5h.8v.9h-.8zM849.5 393.6h.8v.9h-.8zM887.5 389.9h.8v.9h-.8zM876.8 389.5h.8v.9h-.8zM816.4 390.3h.8v.9h-.8zM793.4 392.7h.8v.9h-.8zM829.1 386.4h.8v.9h-.8zM863.0 390.2h.8v.9h-.8zM814.2 391.3h.8v.9h-.8zM888.4 388.0h.8v.9h-.8zM840.4 393.0h.8v.9h-.8zM872.3 388.3h.8v.9h-.8zM801.1 387.9h.8v.9h-.8zM791.8 386.4h.8v.9h-.8zM833.0 389.0h.8v.9h-.8zM887.9 388.0h.8v.9h-.8zM876.7 391.8h.8v.9h-.8zM895.5 387.5h.8v.9h-.8zM792.6 386.3h.8v.9h-.8zM854.4 386.3h.8v.9h-.8zM809.2 389.3h.8v.9h-.8zM797.4 393.5h.8v.9h-.8zM897.2 386.7h.8v.9h-.8zM826.5 387.7h.8v.9h-.8zM859.6 388.8h.8v.9h-.8zM854.7 386.3h.8v.9h-.8zM795.4 389.6h.8v.9h-.8zM827.5 391.2h.8v.9h-.8zM825.2 388.7h.8v.9h-.8zM799.6 392.4h.8v.9h-.8zM825.4 387.2h.8v.9h-.8zM796.3 392.5h.8v.9h-.8zM856.0 394.1h.8v.9h-.8zM849.9 392.4h.8v.9h-.8zM801.3 389.5h.8v.9h-.8zM809.3 388.5h.8v.9h-.8zM849.4 391.4h.8v.9h-.8zM790.3 386.5h.8v.9h-.8zM892.1 386.9h.8v.9h-.8zM902.4 391.6h.8v.9h-.8zM823.3 391.8h.8v.9h-.8zM904.0 391.6h.8v.9h-.8zM825.1 391.8h.8v.9h-.8zM846.4 392.3h.8v.9h-.8zM894.1 386.9h.8v.9h-.8zM788.7 392.0h.8v.9h-.8zM817.3 391.2h.8v.9h-.8zM873.1 393.7h.8v.9h-.8zM879.9 392.2h.8v.9h-.8zM872.6 391.4h.8v.9h-.8zM881.4 389.7h.8v.9h-.8zM901.6 387.3h.8v.9h-.8zM889.4 392.5h.8v.9h-.8zM835.8 393.5h.8v.9h-.8zM860.8 394.1h.8v.9h-.8zM884.4 390.3h.8v.9h-.8zM881.4 389.0h.8v.9h-.8zM889.5 389.8h.8v.9h-.8zM850.2 391.9h.8v.9h-.8zM819.0 392.7h.8v.9h-.8zM829.8 394.4h.8v.9h-.8zM811.3 391.0h.8v.9h-.8zM866.2 390.2h.8v.9h-.8zM846.3 393.7h.8v.9h-.8zM897.1 389.9h.8v.9h-.8zM868.5 390.9h.8v.9h-.8zM831.1 389.2h.8v.9h-.8zM884.8 388.1h.8v.9h-.8zM804.4 394.3h.8v.9h-.8zM806.4 388.8h.8v.9h-.8zM823.1 386.9h.8v.9h-.8zM878.2 388.4h.8v.9h-.8zM899.6 390.9h.8v.9h-.8zM802.5 392.7h.8v.9h-.8zM832.7 389.8h.8v.9h-.8zM825.4 392.4h.8v.9h-.8zM846.3 387.0h.8v.9h-.8zM794.5 387.3h.8v.9h-.8zM869.7 391.5h.8v.9h-.8zM855.2 391.0h.8v.9h-.8zM900.6 387.9h.8v.9h-.8zM834.9 388.8h.8v.9h-.8zM872.6 394.1h.8v.9h-.8zM876.0 386.7h.8v.9h-.8zM805.1 393.7h.8v.9h-.8zM891.9 387.0h.8v.9h-.8zM812.4 386.6h.8v.9h-.8zM797.4 389.1h.8v.9h-.8zM894.7 387.2h.8v.9h-.8zM797.7 389.8h.8v.9h-.8zM881.5 389.0h.8v.9h-.8zM817.2 387.7h.8v.9h-.8zM856.1 388.4h.8v.9h-.8zM841.6 392.0h.8v.9h-.8zM882.5 392.7h.8v.9h-.8zM871.3 386.9h.8v.9h-.8zM889.6 390.3h.8v.9h-.8zM794.7 388.5h.8v.9h-.8zM867.0 393.7h.8v.9h-.8zM872.5 388.2h.8v.9h-.8zM815.3 390.5h.8v.9h-.8zM832.8 387.6h.8v.9h-.8zM863.7 392.3h.8v.9h-.8zM902.2 389.4h.8v.9h-.8zM884.9 393.6h.8v.9h-.8zM903.0 390.7h.8v.9h-.8zM800.2 394.3h.8v.9h-.8zM868.8 393.6h.8v.9h-.8zM822.6 390.0h.8v.9h-.8zM873.7 391.2h.8v.9h-.8zM860.1 391.9h.8v.9h-.8zM834.0 386.9h.8v.9h-.8zM828.9 391.1h.8v.9h-.8zM891.8 393.2h.8v.9h-.8zM795.8 394.1h.8v.9h-.8zM897.7 391.1h.8v.9h-.8zM818.5 389.2h.8v.9h-.8zM797.6 391.6h.8v.9h-.8zM807.7 390.5h.8v.9h-.8zM878.9 387.5h.8v.9h-.8zM867.9 391.5h.8v.9h-.8zM805.6 393.7h.8v.9h-.8zM816.1 393.4h.8v.9h-.8zM901.0 389.2h.8v.9h-.8zM869.9 386.4h.8v.9h-.8zM849.1 386.5h.8v.9h-.8zM853.3 394.0h.8v.9h-.8zM883.6 392.1h.8v.9h-.8zM850.9 387.2h.8v.9h-.8zM817.8 389.3h.8v.9h-.8zM895.0 393.1h.8v.9h-.8zM826.7 393.2h.8v.9h-.8zM891.6 390.2h.8v.9h-.8zM903.1 390.3h.8v.9h-.8zM811.3 391.1h.8v.9h-.8zM877.6 389.5h.8v.9h-.8zM881.2 386.5h.8v.9h-.8zM884.9 392.8h.8v.9h-.8zM793.5 389.9h.8v.9h-.8zM797.5 392.2h.8v.9h-.8zM792.1 390.6h.8v.9h-.8zM814.7 386.3h.8v.9h-.8zM876.7 391.5h.8v.9h-.8zM788.9 390.7h.8v.9h-.8zM874.9 388.2h.8v.9h-.8zM834.3 389.9h.8v.9h-.8zM848.9 392.6h.8v.9h-.8zM797.9 394.3h.8v.9h-.8zM826.9 390.8h.8v.9h-.8zM872.5 386.5h.8v.9h-.8zM864.3 391.1h.8v.9h-.8zM876.1 386.5h.8v.9h-.8zM839.7 394.3h.8v.9h-.8zM814.5 386.5h.8v.9h-.8zM874.0 391.5h.8v.9h-.8zM843.8 388.6h.8v.9h-.8zM891.5 389.6h.8v.9h-.8zM899.3 392.5h.8v.9h-.8zM839.8 393.5h.8v.9h-.8zM799.2 386.9h.8v.9h-.8zM801.5 387.0h.8v.9h-.8zM812.5 391.4h.8v.9h-.8zM803.1 391.4h.8v.9h-.8zM793.4 393.2h.8v.9h-.8zM881.0 391.9h.8v.9h-.8zM852.5 393.3h.8v.9h-.8zM837.3 392.3h.8v.9h-.8zM851.1 386.8h.8v.9h-.8zM881.5 390.1h.8v.9h-.8zM870.2 392.9h.8v.9h-.8zM900.5 386.8h.8v.9h-.8zM902.1 389.0h.8v.9h-.8zM875.3 393.9h.8v.9h-.8zM810.1 388.2h.8v.9h-.8zM829.4 392.9h.8v.9h-.8zM904.0 392.1h.8v.9h-.8zM899.5 389.3h.8v.9h-.8zM901.3 390.1h.8v.9h-.8zM863.5 390.3h.8v.9h-.8zM838.1 386.4h.8v.9h-.8zM838.3 390.6h.8v.9h-.8zM863.4 386.9h.8v.9h-.8zM896.0 392.8h.8v.9h-.8zM860.2 387.1h.8v.9h-.8zM884.9 391.2h.8v.9h-.8zM822.3 386.7h.8v.9h-.8zM795.7 391.8h.8v.9h-.8zM864.5 389.5h.8v.9h-.8zM853.2 393.6h.8v.9h-.8zM882.7 390.1h.8v.9h-.8zM842.2 389.0h.8v.9h-.8zM791.9 386.7h.8v.9h-.8zM828.6 387.5h.8v.9h-.8zM801.7 390.1h.8v.9h-.8zM802.2 391.3h.8v.9h-.8zM869.8 388.0h.8v.9h-.8zM835.9 390.9h.8v.9h-.8zM863.3 389.7h.8v.9h-.8zM861.1 387.0h.8v.9h-.8zM818.6 391.7h.8v.9h-.8zM825.3 390.0h.8v.9h-.8zM843.6 394.2h.8v.9h-.8zM833.7 386.7h.8v.9h-.8zM790.2 389.8h.8v.9h-.8zM889.4 387.8h.8v.9h-.8zM844.0 391.2h.8v.9h-.8zM892.8 389.9h.8v.9h-.8zM833.8 387.5h.8v.9h-.8zM853.9 392.3h.8v.9h-.8zM886.4 393.6h.8v.9h-.8zM886.1 393.2h.8v.9h-.8zM812.6 393.3h.8v.9h-.8zM856.3 390.6h.8v.9h-.8zM879.9 393.5h.8v.9h-.8zM853.9 386.4h.8v.9h-.8zM818.8 394.1h.8v.9h-.8zM891.8 388.6h.8v.9h-.8zM807.7 388.1h.8v.9h-.8zM841.4 388.6h.8v.9h-.8zM845.3 389.9h.8v.9h-.8zM878.1 386.4h.8v.9h-.8zM827.6 389.5h.8v.9h-.8zM827.8 386.9h.8v.9h-.8zM862.8 392.1h.8v.9h-.8zM885.5 393.5h.8v.9h-.8zM847.1 393.8h.8v.9h-.8zM788.5 388.3h.8v.9h-.8zM851.0 387.9h.8v.9h-.8zM803.2 393.1h.8v.9h-.8zM850.7 392.2h.8v.9h-.8zM865.2 391.5h.8v.9h-.8zM804.3 389.1h.8v.9h-.8zM841.6 391.1h.8v.9h-.8zM836.5 392.0h.8v.9h-.8zM788.5 386.2h.8v.9h-.8zM847.3 390.6h.8v.9h-.8zM821.3 390.9h.8v.9h-.8zM852.3 390.2h.8v.9h-.8zM895.5 387.3h.8v.9h-.8zM876.5 390.0h.8v.9h-.8zM852.5 386.4h.8v.9h-.8zM862.9 391.4h.8v.9h-.8zM903.1 391.6h.8v.9h-.8zM837.5 389.0h.8v.9h-.8zM791.5 392.0h.8v.9h-.8zM834.3 391.2h.8v.9h-.8zM866.9 393.9h.8v.9h-.8zM797.3 393.7h.8v.9h-.8zM824.9 388.9h.8v.9h-.8zM903.0 387.8h.8v.9h-.8zM825.0 393.8h.8v.9h-.8zM828.7 390.9h.8v.9h-.8zM875.9 392.5h.8v.9h-.8zM888.8 392.5h.8v.9h-.8zM853.2 390.3h.8v.9h-.8zM836.5 388.3h.8v.9h-.8zM850.6 394.2h.8v.9h-.8zM823.9 389.5h.8v.9h-.8zM840.0 388.3h.8v.9h-.8zM878.5 386.8h.8v.9h-.8zM850.3 387.0h.8v.9h-.8zM837.0 392.2h.8v.9h-.8zM852.6 387.0h.8v.9h-.8zM805.6 392.7h.8v.9h-.8zM877.1 389.9h.8v.9h-.8zM793.0 389.3h.8v.9h-.8zM808.7 390.6h.8v.9h-.8zM879.5 389.5h.8v.9h-.8zM789.5 386.9h.8v.9h-.8zM793.5 391.3h.8v.9h-.8zM863.7 392.3h.8v.9h-.8zM869.7 390.5h.8v.9h-.8zM839.5 391.7h.8v.9h-.8zM797.8 388.6h.8v.9h-.8zM819.4 392.7h.8v.9h-.8zM809.2 394.0h.8v.9h-.8zM897.6 390.1h.8v.9h-.8zM855.3 389.3h.8v.9h-.8zM823.6 390.3h.8v.9h-.8zM845.1 388.4h.8v.9h-.8zM794.5 386.8h.8v.9h-.8zM882.6 386.9h.8v.9h-.8zM852.2 391.3h.8v.9h-.8zM846.9 394.2h.8v.9h-.8zM829.3 387.9h.8v.9h-.8zM852.7 392.8h.8v.9h-.8zM843.0 387.5h.8v.9h-.8zM866.8 392.9h.8v.9h-.8zM793.8 388.4h.8v.9h-.8zM823.5 391.6h.8v.9h-.8zM854.9 392.0h.8v.9h-.8zM817.1 386.7h.8v.9h-.8zM885.3 388.1h.8v.9h-.8zM877.1 391.4h.8v.9h-.8zM845.2 393.1h.8v.9h-.8zM814.0 389.4h.8v.9h-.8zM809.4 389.1h.8v.9h-.8zM886.5 392.2h.8v.9h-.8zM790.0 387.9h.8v.9h-.8zM794.3 393.4h.8v.9h-.8zM802.3 389.1h.8v.9h-.8zM805.2 393.8h.8v.9h-.8zM800.8 387.2h.8v.9h-.8zM897.9 391.5h.8v.9h-.8zM884.7 389.3h.8v.9h-.8zM808.7 393.7h.8v.9h-.8zM856.5 391.6h.8v.9h-.8zM795.4 394.2h.8v.9h-.8zM796.4 394.4h.8v.9h-.8zM901.0 387.9h.8v.9h-.8zM844.7 391.1h.8v.9h-.8zM885.0 393.8h.8v.9h-.8zM791.9 393.9h.8v.9h-.8zM856.6 388.4h.8v.9h-.8zM823.4 389.9h.8v.9h-.8zM848.4 389.3h.8v.9h-.8zM811.7 393.3h.8v.9h-.8zM877.3 386.5h.8v.9h-.8zM806.1 388.5h.8v.9h-.8zM869.1 387.2h.8v.9h-.8zM830.4 392.1h.8v.9h-.8zM790.0 389.9h.8v.9h-.8zM816.5 393.6h.8v.9h-.8zM819.8 390.6h.8v.9h-.8zM898.5 393.9h.8v.9h-.8zM837.8 393.7h.8v.9h-.8zM875.3 387.0h.8v.9h-.8zM874.5 387.9h.8v.9h-.8zM842.3 388.9h.8v.9h-.8zM893.7 392.1h.8v.9h-.8zM802.2 388.4h.8v.9h-.8zM875.2 390.6h.8v.9h-.8zM833.8 388.9h.8v.9h-.8zM896.2 392.4h.8v.9h-.8zM843.7 390.8h.8v.9h-.8zM803.9 389.9h.8v.9h-.8zM804.7 390.0h.8v.9h-.8zM858.9 389.1h.8v.9h-.8zM831.5 386.7h.8v.9h-.8zM796.5 394.0h.8v.9h-.8zM829.1 391.2h.8v.9h-.8zM888.6 386.9h.8v.9h-.8zM823.1 392.2h.8v.9h-.8zM853.0 391.6h.8v.9h-.8zM845.6 391.6h.8v.9h-.8zM867.4 392.2h.8v.9h-.8zM821.0 390.1h.8v.9h-.8zM862.5 393.2h.8v.9h-.8zM876.0 388.5h.8v.9h-.8zM866.0 394.4h.8v.9h-.8zM858.7 387.7h.8v.9h-.8zM884.8 386.3h.8v.9h-.8zM873.7 387.3h.8v.9h-.8zM813.7 393.7h.8v.9h-.8zM872.6 388.5h.8v.9h-.8zM877.6 388.3h.8v.9h-.8zM872.8 390.2h.8v.9h-.8zM886.8 392.3h.8v.9h-.8zM891.4 389.0h.8v.9h-.8zM800.1 390.4h.8v.9h-.8zM864.3 392.6h.8v.9h-.8zM806.7 391.7h.8v.9h-.8zM789.0 394.1h.8v.9h-.8zM802.5 389.8h.8v.9h-.8zM887.5 389.0h.8v.9h-.8zM838.7 388.0h.8v.9h-.8zM889.5 393.4h.8v.9h-.8zM853.1 389.0h.8v.9h-.8zM868.6 386.6h.8v.9h-.8zM845.1 392.7h.8v.9h-.8zM890.4 386.3h.8v.9h-.8zM877.0 393.5h.8v.9h-.8zM867.0 388.4h.8v.9h-.8zM833.2 392.7h.8v.9h-.8zM823.1 391.1h.8v.9h-.8zM863.3 393.2h.8v.9h-.8zM822.0 392.5h.8v.9h-.8zM844.4 386.5h.8v.9h-.8zM815.6 390.6h.8v.9h-.8zM809.9 392.9h.8v.9h-.8zM879.5 388.1h.8v.9h-.8zM848.1 392.6h.8v.9h-.8zM849.6 387.2h.8v.9h-.8zM813.9 388.9h.8v.9h-.8zM852.4 386.8h.8v.9h-.8zM814.8 386.9h.8v.9h-.8zM859.0 386.8h.8v.9h-.8zM849.7 393.8h.8v.9h-.8zM864.0 387.0h.8v.9h-.8zM881.8 390.6h.8v.9h-.8zM881.2 391.2h.8v.9h-.8zM877.5 389.7h.8v.9h-.8zM790.9 386.8h.8v.9h-.8zM904.7 392.2h.8v.9h-.8zM897.8 387.7h.8v.9h-.8zM878.3 391.6h.8v.9h-.8zM876.6 392.1h.8v.9h-.8zM882.7 387.4h.8v.9h-.8zM897.6 389.5h.8v.9h-.8zM854.0 394.0h.8v.9h-.8zM875.7 392.1h.8v.9h-.8zM891.6 389.7h.8v.9h-.8zM882.1 388.0h.8v.9h-.8zM845.0 388.9h.8v.9h-.8zM903.2 394.0h.8v.9h-.8zM854.7 392.3h.8v.9h-.8zM799.7 386.7h.8v.9h-.8zM850.8 391.2h.8v.9h-.8zM802.1 387.8h.8v.9h-.8zM898.6 387.3h.8v.9h-.8zM867.9 392.1h.8v.9h-.8zM881.2 392.9h.8v.9h-.8zM827.6 393.2h.8v.9h-.8zM856.7 393.5h.8v.9h-.8zM847.2 391.3h.8v.9h-.8zM825.3 387.8h.8v.9h-.8zM844.2 394.2h.8v.9h-.8zM793.0 389.9h.8v.9h-.8zM807.8 391.3h.8v.9h-.8zM853.2 387.1h.8v.9h-.8zM817.8 391.1h.8v.9h-.8zM880.2 387.3h.8v.9h-.8zM824.9 392.6h.8v.9h-.8zM847.4 387.6h.8v.9h-.8zM812.0 390.0h.8v.9h-.8zM891.4 387.3h.8v.9h-.8zM855.6 389.3h.8v.9h-.8zM852.8 392.4h.8v.9h-.8zM881.2 392.4h.8v.9h-.8zM890.0 390.4h.8v.9h-.8zM837.7 392.9h.8v.9h-.8zM891.1 388.4h.8v.9h-.8zM836.3 391.1h.8v.9h-.8zM902.9 392.9h.8v.9h-.8zM863.1 386.7h.8v.9h-.8zM841.1 392.8h.8v.9h-.8zM795.2 391.8h.8v.9h-.8zM806.3 389.0h.8v.9h-.8zM875.5 389.2h.8v.9h-.8zM889.4 391.7h.8v.9h-.8zM866.6 390.4h.8v.9h-.8zM841.7 387.0h.8v.9h-.8zM884.2 389.3h.8v.9h-.8zM901.3 392.6h.8v.9h-.8zM888.0 392.2h.8v.9h-.8zM819.1 387.9h.8v.9h-.8zM821.3 392.2h.8v.9h-.8zM846.9 393.6h.8v.9h-.8zM814.6 389.6h.8v.9h-.8zM807.8 392.8h.8v.9h-.8zM899.9 390.3h.8v.9h-.8zM903.5 391.2h.8v.9h-.8zM835.9 388.7h.8v.9h-.8zM879.5 393.5h.8v.9h-.8zM838.4 387.3h.8v.9h-.8zM847.4 391.9h.8v.9h-.8zM792.2 387.9h.8v.9h-.8zM826.5 388.8h.8v.9h-.8zM836.1 386.3h.8v.9h-.8zM894.2 391.0h.8v.9h-.8zM874.1 387.0h.8v.9h-.8zM855.9 388.9h.8v.9h-.8zM855.3 393.0h.8v.9h-.8zM864.9 391.0h.8v.9h-.8zM892.5 392.0h.8v.9h-.8zM901.2 392.6h.8v.9h-.8zM895.6 386.4h.8v.9h-.8zM806.1 387.1h.8v.9h-.8zM809.1 389.8h.8v.9h-.8zM898.8 387.5h.8v.9h-.8zM896.6 392.8h.8v.9h-.8zM862.6 393.7h.8v.9h-.8zM846.8 394.2h.8v.9h-.8zM863.1 387.2h.8v.9h-.8zM817.0 391.9h.8v.9h-.8zM791.2 388.4h.8v.9h-.8zM886.5 389.9h.8v.9h-.8zM793.8 389.3h.8v.9h-.8zM832.7 389.2h.8v.9h-.8zM880.8 388.1h.8v.9h-.8zM790.6 393.1h.8v.9h-.8zM890.9 392.6h.8v.9h-.8zM872.9 393.1h.8v.9h-.8zM884.1 388.1h.8v.9h-.8zM889.7 389.4h.8v.9h-.8zM860.7 392.4h.8v.9h-.8zM864.0 392.8h.8v.9h-.8zM818.8 387.2h.8v.9h-.8zM875.9 390.3h.8v.9h-.8zM893.2 386.6h.8v.9h-.8zM791.0 392.2h.8v.9h-.8zM820.5 392.9h.8v.9h-.8zM816.6 386.7h.8v.9h-.8zM860.6 394.2h.8v.9h-.8zM890.9 392.3h.8v.9h-.8zM813.3 390.5h.8v.9h-.8zM888.7 391.0h.8v.9h-.8zM879.1 391.9h.8v.9h-.8zM866.5 387.2h.8v.9h-.8zM858.2 387.5h.8v.9h-.8zM830.7 393.3h.8v.9h-.8zM863.0 387.5h.8v.9h-.8zM847.6 388.5h.8v.9h-.8zM901.8 391.9h.8v.9h-.8zM865.6 390.5h.8v.9h-.8zM882.2 392.4h.8v.9h-.8zM802.1 391.9h.8v.9h-.8zM833.7 390.8h.8v.9h-.8zM857.8 393.1h.8v.9h-.8zM901.2 392.8h.8v.9h-.8zM829.7 390.4h.8v.9h-.8zM893.2 393.3h.8v.9h-.8zM810.6 392.4h.8v.9h-.8zM891.7 390.6h.8v.9h-.8zM877.9 393.3h.8v.9h-.8zM903.0 392.9h.8v.9h-.8zM827.1 386.9h.8v.9h-.8zM834.4 388.6h.8v.9h-.8zM819.6 386.5h.8v.9h-.8zM827.4 391.1h.8v.9h-.8zM793.3 387.4h.8v.9h-.8zM831.9 391.8h.8v.9h-.8zM861.9 389.8h.8v.9h-.8zM794.6 389.0h.8v.9h-.8zM814.8 392.8h.8v.9h-.8zM852.4 388.2h.8v.9h-.8zM807.7 392.4h.8v.9h-.8zM886.9 386.6h.8v.9h-.8zM853.7 386.2h.8v.9h-.8zM894.6 392.7h.8v.9h-.8zM807.5 386.4h.8v.9h-.8zM869.6 387.4h.8v.9h-.8zM833.1 389.7h.8v.9h-.8zM803.6 389.3h.8v.9h-.8zM831.3 394.4h.8v.9h-.8zM818.2 388.0h.8v.9h-.8zM901.6 388.0h.8v.9h-.8zM805.1 386.8h.8v.9h-.8zM823.8 387.1h.8v.9h-.8zM810.3 392.0h.8v.9h-.8zM818.2 390.0h.8v.9h-.8zM806.5 386.8h.8v.9h-.8zM857.0 391.3h.8v.9h-.8zM890.4 392.2h.8v.9h-.8zM833.2 393.2h.8v.9h-.8zM818.3 390.4h.8v.9h-.8zM889.8 392.4h.8v.9h-.8zM860.6 387.8h.8v.9h-.8zM862.3 389.5h.8v.9h-.8zM852.3 391.5h.8v.9h-.8zM811.6 394.0h.8v.9h-.8zM828.8 387.6h.8v.9h-.8zM851.3 386.9h.8v.9h-.8zM824.7 393.4h.8v.9h-.8zM861.9 388.0h.8v.9h-.8zM797.1 391.4h.8v.9h-.8zM855.1 392.8h.8v.9h-.8zM827.9 388.9h.8v.9h-.8zM844.4 389.1h.8v.9h-.8zM812.1 390.5h.8v.9h-.8zM805.9 389.2h.8v.9h-.8zM843.7 391.9h.8v.9h-.8zM897.2 391.9h.8v.9h-.8zM880.8 389.4h.8v.9h-.8zM811.6 393.8h.8v.9h-.8zM844.8 391.6h.8v.9h-.8zM858.9 391.2h.8v.9h-.8zM842.7 389.7h.8v.9h-.8zM791.4 392.1h.8v.9h-.8zM823.1 386.5h.8v.9h-.8zM879.8 393.5h.8v.9h-.8zM892.2 391.1h.8v.9h-.8zM858.8 389.4h.8v.9h-.8zM892.9 394.2h.8v.9h-.8zM834.9 392.3h.8v.9h-.8zM897.0 388.3h.8v.9h-.8zM831.6 393.2h.8v.9h-.8zM836.0 389.5h.8v.9h-.8zM828.8 387.8h.8v.9h-.8zM901.7 387.1h.8v.9h-.8zM809.2 386.5h.8v.9h-.8zM880.2 393.3h.8v.9h-.8zM854.0 386.5h.8v.9h-.8zM892.1 394.4h.8v.9h-.8zM796.7 387.1h.8v.9h-.8zM896.6 393.4h.8v.9h-.8zM879.0 389.8h.8v.9h-.8zM833.2 386.7h.8v.9h-.8zM817.7 390.5h.8v.9h-.8zM872.9 391.8h.8v.9h-.8zM798.3 387.8h.8v.9h-.8zM859.7 393.8h.8v.9h-.8zM895.5 388.6h.8v.9h-.8zM811.2 392.9h.8v.9h-.8zM793.8 389.5h.8v.9h-.8zM848.2 388.8h.8v.9h-.8zM799.8 392.2h.8v.9h-.8zM896.1 387.0h.8v.9h-.8zM870.5 386.9h.8v.9h-.8zM830.9 391.7h.8v.9h-.8zM875.6 394.3h.8v.9h-.8zM859.4 387.3h.8v.9h-.8zM902.1 391.3h.8v.9h-.8zM882.7 393.6h.8v.9h-.8zM842.9 392.5h.8v.9h-.8zM789.4 390.6h.8v.9h-.8zM888.2 393.9h.8v.9h-.8zM895.4 390.3h.8v.9h-.8zM865.9 392.4h.8v.9h-.8zM834.9 386.5h.8v.9h-.8zM824.2 387.3h.8v.9h-.8zM788.8 393.1h.8v.9h-.8zM894.0 391.5h.8v.9h-.8zM829.8 393.0h.8v.9h-.8zM903.3 389.3h.8v.9h-.8zM839.0 391.8h.8v.9h-.8zM839.1 387.3h.8v.9h-.8zM813.1 386.5h.8v.9h-.8zM797.4 393.3h.8v.9h-.8zM790.4 390.5h.8v.9h-.8zM886.8 391.9h.8v.9h-.8zM878.5 393.1h.8v.9h-.8zM888.6 394.3h.8v.9h-.8zM900.7 393.1h.8v.9h-.8zM809.1 387.9h.8v.9h-.8zM795.2 392.0h.8v.9h-.8zM868.5 394.1h.8v.9h-.8zM819.8 394.1h.8v.9h-.8zM794.6 388.3h.8v.9h-.8zM832.1 387.3h.8v.9h-.8zM857.4 389.7h.8v.9h-.8zM812.2 393.8h.8v.9h-.8zM799.2 388.4h.8v.9h-.8zM852.4 393.9h.8v.9h-.8zM817.5 394.3h.8v.9h-.8zM847.3 393.7h.8v.9h-.8zM838.3 393.8h.8v.9h-.8zM873.6 388.1h.8v.9h-.8zM900.9 387.0h.8v.9h-.8zM805.1 388.3h.8v.9h-.8zM839.5 389.6h.8v.9h-.8zM843.6 389.8h.8v.9h-.8zM878.0 389.7h.8v.9h-.8zM850.4 388.1h.8v.9h-.8zM819.5 390.5h.8v.9h-.8zM874.8 386.8h.8v.9h-.8zM863.5 388.2h.8v.9h-.8zM789.1 390.9h.8v.9h-.8zM849.6 387.7h.8v.9h-.8zM900.2 388.9h.8v.9h-.8zM859.5 388.1h.8v.9h-.8zM833.9 391.7h.8v.9h-.8zM840.8 388.4h.8v.9h-.8zM822.5 392.0h.8v.9h-.8zM863.3 389.8h.8v.9h-.8zM893.8 386.3h.8v.9h-.8zM864.8 392.9h.8v.9h-.8zM882.1 388.6h.8v.9h-.8zM859.1 391.5h.8v.9h-.8zM866.1 390.7h.8v.9h-.8zM863.9 391.8h.8v.9h-.8zM870.4 394.3h.8v.9h-.8zM904.1 388.8h.8v.9h-.8zM803.5 389.9h.8v.9h-.8zM789.6 392.1h.8v.9h-.8zM876.3 387.6h.8v.9h-.8zM842.6 392.0h.8v.9h-.8zM873.0 387.1h.8v.9h-.8zM827.0 393.3h.8v.9h-.8zM816.2 387.9h.8v.9h-.8zM903.1 394.3h.8v.9h-.8zM818.3 386.7h.8v.9h-.8zM883.3 386.8h.8v.9h-.8zM902.6 394.3h.8v.9h-.8zM874.1 393.8h.8v.9h-.8zM801.4 387.4h.8v.9h-.8zM798.6 386.4h.8v.9h-.8zM825.8 386.6h.8v.9h-.8zM867.9 390.0h.8v.9h-.8zM841.5 393.3h.8v.9h-.8zM790.6 393.5h.8v.9h-.8zM878.6 390.4h.8v.9h-.8zM806.0 389.1h.8v.9h-.8zM833.7 389.0h.8v.9h-.8zM842.1 390.3h.8v.9h-.8zM892.7 393.4h.8v.9h-.8zM812.1 389.0h.8v.9h-.8zM837.7 390.2h.8v.9h-.8zM873.8 393.6h.8v.9h-.8zM809.6 393.1h.8v.9h-.8zM885.3 389.7h.8v.9h-.8zM860.3 391.8h.8v.9h-.8zM886.7 388.1h.8v.9h-.8zM819.6 390.1h.8v.9h-.8z" fill="#2c2c30" opacity="0.5"/><path d="M849.1 418.4h.7v1h-.7zM874.1 419.6h.7v1h-.7zM815.7 425.9h.7v1h-.7zM793.2 420.1h.7v1h-.7zM825.9 412.3h.7v1h-.7zM904.6 422.9h.7v1h-.7zM881.3 412.7h.7v1h-.7zM789.3 414.7h.7v1h-.7zM822.0 413.1h.7v1h-.7zM887.1 417.0h.7v1h-.7zM863.3 419.0h.7v1h-.7zM809.5 409.5h.7v1h-.7zM815.6 417.3h.7v1h-.7zM883.3 408.4h.7v1h-.7zM885.8 415.3h.7v1h-.7zM836.5 423.9h.7v1h-.7zM890.8 411.6h.7v1h-.7zM789.5 415.8h.7v1h-.7zM887.8 417.9h.7v1h-.7zM858.2 426.5h.7v1h-.7zM898.7 417.8h.7v1h-.7zM806.9 425.3h.7v1h-.7zM803.9 413.2h.7v1h-.7zM893.5 424.2h.7v1h-.7zM852.7 422.6h.7v1h-.7zM793.4 417.6h.7v1h-.7zM886.7 422.5h.7v1h-.7zM807.2 418.5h.7v1h-.7zM798.7 422.8h.7v1h-.7zM801.8 410.8h.7v1h-.7zM870.6 416.7h.7v1h-.7zM824.4 415.8h.7v1h-.7zM835.0 413.6h.7v1h-.7zM802.3 414.8h.7v1h-.7zM823.4 418.8h.7v1h-.7zM903.9 425.5h.7v1h-.7zM882.5 411.5h.7v1h-.7zM892.7 412.0h.7v1h-.7zM891.1 417.9h.7v1h-.7zM863.1 418.8h.7v1h-.7zM870.2 416.6h.7v1h-.7zM873.4 415.1h.7v1h-.7zM822.1 417.9h.7v1h-.7zM838.3 417.8h.7v1h-.7zM840.8 424.0h.7v1h-.7zM867.0 421.1h.7v1h-.7zM804.7 419.3h.7v1h-.7zM816.9 409.4h.7v1h-.7zM789.7 410.6h.7v1h-.7zM849.8 425.9h.7v1h-.7zM875.7 425.3h.7v1h-.7zM801.3 409.4h.7v1h-.7zM801.5 415.4h.7v1h-.7zM895.6 420.1h.7v1h-.7zM823.4 424.2h.7v1h-.7zM847.8 424.3h.7v1h-.7zM810.1 410.6h.7v1h-.7zM891.0 424.1h.7v1h-.7zM799.0 410.1h.7v1h-.7zM808.7 414.9h.7v1h-.7zM798.3 422.9h.7v1h-.7zM897.9 410.1h.7v1h-.7zM877.4 410.5h.7v1h-.7zM807.0 420.0h.7v1h-.7zM808.5 425.0h.7v1h-.7zM867.6 421.9h.7v1h-.7zM843.4 409.6h.7v1h-.7zM801.8 412.8h.7v1h-.7zM864.1 423.9h.7v1h-.7zM893.8 417.5h.7v1h-.7zM878.5 415.4h.7v1h-.7zM828.3 415.7h.7v1h-.7zM847.3 424.0h.7v1h-.7zM846.8 425.7h.7v1h-.7zM900.3 409.1h.7v1h-.7zM825.1 412.8h.7v1h-.7zM820.1 414.4h.7v1h-.7zM824.0 426.1h.7v1h-.7zM853.9 414.2h.7v1h-.7zM823.1 415.5h.7v1h-.7zM876.6 422.1h.7v1h-.7zM837.3 413.8h.7v1h-.7zM891.7 419.0h.7v1h-.7zM892.4 425.6h.7v1h-.7zM795.9 409.1h.7v1h-.7zM862.2 418.0h.7v1h-.7zM797.4 409.6h.7v1h-.7zM796.7 425.6h.7v1h-.7zM825.1 416.2h.7v1h-.7zM803.2 420.0h.7v1h-.7zM848.9 417.0h.7v1h-.7zM831.0 415.0h.7v1h-.7zM856.2 420.1h.7v1h-.7zM864.4 416.2h.7v1h-.7zM823.0 410.7h.7v1h-.7zM825.6 419.1h.7v1h-.7zM885.3 412.0h.7v1h-.7zM803.8 426.1h.7v1h-.7zM788.8 408.9h.7v1h-.7zM813.4 418.5h.7v1h-.7zM803.4 408.7h.7v1h-.7zM879.3 423.9h.7v1h-.7zM870.2 413.6h.7v1h-.7zM893.7 411.3h.7v1h-.7zM878.9 421.8h.7v1h-.7zM826.5 419.1h.7v1h-.7zM829.7 408.0h.7v1h-.7zM797.3 414.6h.7v1h-.7zM837.5 411.4h.7v1h-.7zM851.5 410.0h.7v1h-.7zM826.5 424.8h.7v1h-.7zM836.0 415.0h.7v1h-.7zM820.9 422.1h.7v1h-.7zM889.9 422.3h.7v1h-.7zM831.5 416.8h.7v1h-.7zM844.3 423.3h.7v1h-.7zM882.4 419.7h.7v1h-.7zM809.1 421.4h.7v1h-.7zM824.0 420.8h.7v1h-.7zM844.0 408.5h.7v1h-.7zM829.3 411.8h.7v1h-.7zM833.5 410.7h.7v1h-.7zM795.8 415.8h.7v1h-.7zM900.2 414.3h.7v1h-.7zM813.7 427.8h.7v1h-.7zM830.3 415.7h.7v1h-.7zM824.1 428.0h.7v1h-.7zM835.9 427.7h.7v1h-.7zM844.7 409.8h.7v1h-.7zM853.4 427.0h.7v1h-.7zM898.6 408.8h.7v1h-.7zM904.5 416.6h.7v1h-.7zM790.6 425.3h.7v1h-.7zM857.6 417.0h.7v1h-.7zM882.1 422.9h.7v1h-.7zM885.9 426.9h.7v1h-.7zM812.1 413.4h.7v1h-.7zM836.7 421.4h.7v1h-.7zM888.1 414.7h.7v1h-.7zM889.5 416.1h.7v1h-.7zM884.3 412.9h.7v1h-.7zM792.6 426.9h.7v1h-.7zM819.0 421.7h.7v1h-.7zM851.3 417.0h.7v1h-.7zM888.6 422.7h.7v1h-.7zM891.0 424.1h.7v1h-.7zM839.2 422.4h.7v1h-.7zM827.5 427.2h.7v1h-.7zM805.9 422.5h.7v1h-.7zM810.8 408.4h.7v1h-.7zM811.6 417.2h.7v1h-.7zM828.4 414.2h.7v1h-.7zM790.3 421.3h.7v1h-.7zM864.0 418.3h.7v1h-.7zM794.0 422.0h.7v1h-.7zM808.3 425.1h.7v1h-.7zM893.9 413.3h.7v1h-.7zM816.1 416.5h.7v1h-.7zM833.9 410.5h.7v1h-.7zM845.4 424.1h.7v1h-.7zM849.7 416.4h.7v1h-.7zM896.6 422.2h.7v1h-.7zM899.5 414.0h.7v1h-.7zM823.4 410.3h.7v1h-.7zM845.0 413.0h.7v1h-.7zM890.3 425.1h.7v1h-.7zM834.9 408.3h.7v1h-.7zM872.3 415.2h.7v1h-.7zM904.1 411.4h.7v1h-.7zM886.1 409.9h.7v1h-.7zM795.6 416.1h.7v1h-.7zM865.4 415.6h.7v1h-.7zM828.8 425.3h.7v1h-.7zM863.3 416.0h.7v1h-.7zM801.2 417.6h.7v1h-.7zM864.0 421.3h.7v1h-.7zM794.8 420.7h.7v1h-.7zM806.6 418.3h.7v1h-.7zM816.1 419.2h.7v1h-.7zM866.3 419.4h.7v1h-.7zM878.6 412.2h.7v1h-.7zM794.5 414.6h.7v1h-.7zM888.8 418.4h.7v1h-.7zM818.3 416.1h.7v1h-.7zM845.4 418.2h.7v1h-.7zM818.6 412.9h.7v1h-.7zM890.0 418.4h.7v1h-.7zM828.2 410.5h.7v1h-.7zM793.1 426.1h.7v1h-.7zM861.6 420.7h.7v1h-.7zM882.2 426.6h.7v1h-.7zM820.1 419.0h.7v1h-.7zM813.9 413.4h.7v1h-.7zM790.1 424.1h.7v1h-.7zM901.5 418.7h.7v1h-.7zM841.2 413.1h.7v1h-.7zM813.8 412.9h.7v1h-.7zM796.2 421.8h.7v1h-.7zM796.8 413.4h.7v1h-.7zM863.0 413.7h.7v1h-.7zM814.2 411.0h.7v1h-.7zM893.5 411.5h.7v1h-.7zM855.8 409.9h.7v1h-.7zM866.4 421.3h.7v1h-.7zM852.1 419.2h.7v1h-.7zM820.0 422.7h.7v1h-.7zM889.0 422.6h.7v1h-.7zM811.4 412.1h.7v1h-.7zM852.9 427.3h.7v1h-.7zM881.9 423.8h.7v1h-.7zM793.0 409.1h.7v1h-.7zM843.2 418.1h.7v1h-.7zM857.8 420.5h.7v1h-.7zM886.3 424.3h.7v1h-.7zM901.3 423.5h.7v1h-.7zM890.0 410.7h.7v1h-.7zM815.8 427.8h.7v1h-.7zM880.8 408.7h.7v1h-.7zM834.8 410.4h.7v1h-.7zM790.9 416.9h.7v1h-.7zM869.0 421.6h.7v1h-.7zM820.1 424.8h.7v1h-.7zM831.0 421.2h.7v1h-.7zM900.6 413.6h.7v1h-.7zM866.9 418.7h.7v1h-.7zM862.7 424.9h.7v1h-.7zM823.2 419.1h.7v1h-.7zM829.2 419.7h.7v1h-.7zM884.2 422.0h.7v1h-.7zM829.6 419.2h.7v1h-.7zM796.4 422.6h.7v1h-.7zM791.7 413.4h.7v1h-.7zM882.5 409.0h.7v1h-.7zM897.9 411.2h.7v1h-.7zM896.9 409.3h.7v1h-.7zM884.6 427.4h.7v1h-.7zM872.9 424.3h.7v1h-.7zM796.4 417.6h.7v1h-.7zM831.2 427.9h.7v1h-.7zM883.6 423.6h.7v1h-.7zM796.7 425.7h.7v1h-.7zM838.0 416.2h.7v1h-.7zM803.6 412.8h.7v1h-.7zM853.9 427.0h.7v1h-.7zM904.1 427.0h.7v1h-.7zM824.0 426.8h.7v1h-.7zM859.5 416.3h.7v1h-.7zM843.5 426.8h.7v1h-.7zM899.8 425.5h.7v1h-.7zM820.1 418.7h.7v1h-.7zM860.4 420.4h.7v1h-.7zM862.9 419.2h.7v1h-.7zM855.6 409.5h.7v1h-.7zM856.3 418.1h.7v1h-.7zM879.6 426.2h.7v1h-.7zM817.8 413.6h.7v1h-.7zM903.3 421.5h.7v1h-.7zM861.1 419.3h.7v1h-.7zM881.6 415.8h.7v1h-.7zM842.8 414.0h.7v1h-.7zM810.2 426.6h.7v1h-.7zM808.2 417.5h.7v1h-.7zM873.9 410.7h.7v1h-.7zM868.7 427.0h.7v1h-.7zM837.9 425.0h.7v1h-.7zM795.6 427.0h.7v1h-.7zM839.5 412.5h.7v1h-.7zM869.3 426.8h.7v1h-.7zM875.8 425.2h.7v1h-.7zM860.8 418.0h.7v1h-.7zM882.0 426.2h.7v1h-.7zM902.5 422.0h.7v1h-.7zM794.0 410.2h.7v1h-.7zM802.6 412.0h.7v1h-.7zM891.4 427.4h.7v1h-.7zM879.2 422.7h.7v1h-.7zM804.8 423.1h.7v1h-.7zM895.0 417.7h.7v1h-.7zM842.7 411.7h.7v1h-.7zM820.8 424.1h.7v1h-.7zM875.1 411.5h.7v1h-.7zM878.3 414.8h.7v1h-.7zM861.8 418.3h.7v1h-.7zM854.3 421.8h.7v1h-.7zM845.2 416.5h.7v1h-.7zM829.2 410.2h.7v1h-.7zM896.7 423.0h.7v1h-.7zM883.5 415.7h.7v1h-.7zM832.8 413.4h.7v1h-.7zM886.2 421.4h.7v1h-.7zM842.8 411.5h.7v1h-.7zM897.1 415.7h.7v1h-.7zM896.1 420.0h.7v1h-.7zM901.3 417.4h.7v1h-.7zM865.8 420.7h.7v1h-.7zM853.3 418.8h.7v1h-.7zM816.3 425.0h.7v1h-.7zM874.9 421.3h.7v1h-.7zM866.8 420.4h.7v1h-.7zM847.8 417.7h.7v1h-.7zM821.7 425.1h.7v1h-.7zM795.6 427.8h.7v1h-.7zM844.1 417.2h.7v1h-.7zM898.6 418.0h.7v1h-.7zM854.4 416.5h.7v1h-.7zM888.5 411.8h.7v1h-.7zM793.3 418.8h.7v1h-.7zM852.4 419.3h.7v1h-.7zM904.5 417.3h.7v1h-.7zM902.4 414.2h.7v1h-.7zM805.1 415.6h.7v1h-.7zM888.3 414.9h.7v1h-.7zM817.3 411.0h.7v1h-.7zM893.8 416.7h.7v1h-.7zM841.3 423.9h.7v1h-.7zM897.6 413.4h.7v1h-.7zM884.3 413.3h.7v1h-.7zM810.4 412.9h.7v1h-.7zM835.3 422.5h.7v1h-.7zM802.3 423.5h.7v1h-.7zM900.3 424.6h.7v1h-.7zM802.4 414.2h.7v1h-.7zM835.5 423.4h.7v1h-.7zM832.5 424.4h.7v1h-.7zM851.5 409.8h.7v1h-.7zM875.8 409.4h.7v1h-.7zM885.1 424.3h.7v1h-.7zM804.0 425.2h.7v1h-.7zM844.1 420.7h.7v1h-.7zM797.6 412.5h.7v1h-.7zM800.1 416.4h.7v1h-.7zM878.0 412.4h.7v1h-.7zM814.5 417.8h.7v1h-.7zM859.7 414.6h.7v1h-.7zM794.4 413.4h.7v1h-.7zM896.7 427.5h.7v1h-.7zM810.6 414.5h.7v1h-.7zM851.9 409.1h.7v1h-.7zM903.9 422.6h.7v1h-.7zM822.5 424.8h.7v1h-.7zM854.2 420.2h.7v1h-.7zM808.8 423.2h.7v1h-.7zM883.2 416.5h.7v1h-.7zM795.5 411.9h.7v1h-.7zM843.5 427.0h.7v1h-.7zM890.9 414.2h.7v1h-.7zM854.7 427.1h.7v1h-.7zM859.8 418.7h.7v1h-.7zM892.7 409.1h.7v1h-.7zM812.0 422.1h.7v1h-.7zM815.0 423.1h.7v1h-.7zM857.4 409.1h.7v1h-.7zM855.8 411.4h.7v1h-.7zM901.6 421.0h.7v1h-.7zM822.2 421.7h.7v1h-.7zM819.0 411.9h.7v1h-.7zM897.3 425.5h.7v1h-.7zM889.1 426.9h.7v1h-.7zM816.0 424.6h.7v1h-.7zM870.5 425.5h.7v1h-.7zM868.2 416.6h.7v1h-.7zM857.6 414.8h.7v1h-.7zM813.1 412.6h.7v1h-.7zM893.0 413.7h.7v1h-.7zM871.6 413.3h.7v1h-.7zM873.5 420.4h.7v1h-.7zM854.3 408.3h.7v1h-.7zM886.0 428.0h.7v1h-.7zM855.2 408.5h.7v1h-.7zM877.5 417.9h.7v1h-.7zM874.7 422.1h.7v1h-.7zM888.1 425.4h.7v1h-.7zM858.9 426.8h.7v1h-.7zM891.8 426.1h.7v1h-.7zM832.4 412.5h.7v1h-.7zM872.1 408.5h.7v1h-.7zM897.4 416.4h.7v1h-.7zM851.9 418.8h.7v1h-.7zM848.5 421.7h.7v1h-.7zM870.6 414.8h.7v1h-.7zM862.9 427.8h.7v1h-.7zM862.1 420.7h.7v1h-.7zM804.7 409.2h.7v1h-.7zM865.4 417.4h.7v1h-.7zM851.2 425.1h.7v1h-.7zM855.4 413.6h.7v1h-.7zM799.1 411.0h.7v1h-.7zM842.3 424.3h.7v1h-.7zM834.4 418.3h.7v1h-.7zM875.6 426.8h.7v1h-.7zM904.1 415.8h.7v1h-.7zM879.5 425.9h.7v1h-.7zM842.4 420.0h.7v1h-.7zM843.5 408.8h.7v1h-.7zM883.6 409.5h.7v1h-.7zM827.2 423.6h.7v1h-.7zM887.6 413.2h.7v1h-.7zM874.1 422.7h.7v1h-.7zM851.2 409.9h.7v1h-.7zM825.0 423.3h.7v1h-.7zM902.4 417.3h.7v1h-.7zM836.2 424.9h.7v1h-.7zM862.0 422.9h.7v1h-.7zM893.4 414.8h.7v1h-.7zM829.4 417.4h.7v1h-.7zM888.0 411.8h.7v1h-.7zM895.3 410.9h.7v1h-.7zM806.4 410.3h.7v1h-.7zM836.2 412.8h.7v1h-.7zM868.5 413.7h.7v1h-.7zM807.6 418.0h.7v1h-.7zM844.5 412.7h.7v1h-.7zM845.3 411.0h.7v1h-.7zM790.0 421.3h.7v1h-.7zM885.1 410.3h.7v1h-.7zM878.1 423.2h.7v1h-.7zM827.4 413.5h.7v1h-.7zM880.4 424.1h.7v1h-.7zM802.5 421.4h.7v1h-.7zM902.6 422.7h.7v1h-.7zM807.3 410.7h.7v1h-.7zM850.7 408.6h.7v1h-.7zM834.9 413.4h.7v1h-.7zM790.7 408.0h.7v1h-.7zM850.0 418.8h.7v1h-.7zM813.8 413.0h.7v1h-.7zM868.6 423.7h.7v1h-.7zM850.9 418.8h.7v1h-.7zM872.4 413.8h.7v1h-.7zM829.9 413.4h.7v1h-.7zM860.8 419.8h.7v1h-.7zM876.0 415.5h.7v1h-.7zM861.3 424.7h.7v1h-.7zM878.1 414.1h.7v1h-.7zM804.3 415.9h.7v1h-.7zM823.7 408.2h.7v1h-.7zM870.6 408.5h.7v1h-.7zM849.7 420.4h.7v1h-.7zM865.4 426.3h.7v1h-.7zM809.4 416.6h.7v1h-.7zM857.1 408.8h.7v1h-.7zM903.7 425.9h.7v1h-.7zM812.1 426.9h.7v1h-.7zM797.5 409.9h.7v1h-.7zM852.8 415.6h.7v1h-.7zM807.0 418.7h.7v1h-.7zM883.7 413.5h.7v1h-.7zM884.9 410.6h.7v1h-.7zM806.6 415.4h.7v1h-.7zM887.3 426.4h.7v1h-.7zM893.9 426.0h.7v1h-.7zM844.0 413.4h.7v1h-.7zM874.7 414.6h.7v1h-.7zM822.4 416.3h.7v1h-.7zM880.0 408.7h.7v1h-.7zM846.9 408.1h.7v1h-.7zM881.0 415.2h.7v1h-.7zM888.4 415.2h.7v1h-.7zM791.0 425.9h.7v1h-.7zM851.5 425.2h.7v1h-.7zM811.7 416.1h.7v1h-.7zM789.7 413.1h.7v1h-.7zM894.0 410.4h.7v1h-.7zM891.9 412.8h.7v1h-.7zM850.2 418.7h.7v1h-.7zM865.1 410.7h.7v1h-.7zM828.0 419.0h.7v1h-.7zM789.5 417.7h.7v1h-.7zM893.3 420.6h.7v1h-.7zM803.0 411.2h.7v1h-.7zM864.0 415.7h.7v1h-.7zM896.2 422.7h.7v1h-.7zM874.1 412.8h.7v1h-.7zM824.3 411.4h.7v1h-.7zM853.2 418.5h.7v1h-.7zM832.5 417.0h.7v1h-.7zM818.3 412.7h.7v1h-.7zM803.3 414.4h.7v1h-.7zM797.7 415.7h.7v1h-.7zM863.5 420.6h.7v1h-.7zM874.2 416.9h.7v1h-.7zM878.5 424.9h.7v1h-.7zM830.9 423.9h.7v1h-.7zM898.3 412.3h.7v1h-.7zM877.0 423.0h.7v1h-.7zM822.1 420.8h.7v1h-.7zM893.3 408.7h.7v1h-.7zM903.9 413.3h.7v1h-.7zM838.7 417.0h.7v1h-.7zM806.8 409.4h.7v1h-.7zM896.5 422.8h.7v1h-.7zM827.5 420.7h.7v1h-.7zM831.1 414.1h.7v1h-.7zM886.2 423.5h.7v1h-.7zM846.7 410.6h.7v1h-.7zM816.7 423.4h.7v1h-.7zM788.8 419.5h.7v1h-.7zM892.9 409.2h.7v1h-.7zM790.4 424.5h.7v1h-.7zM902.6 416.4h.7v1h-.7z" fill="#5a34a8" opacity="0.35"/><path d="M911.47 323.35A3.5 3.5 0 0 1 914.53 323.35" stroke="#25c24c" stroke-width="2.5" fill="none"/><path d="M914.14 323.19A3.5 3.5 0 0 1 916.31 325.36" stroke="#16c3ae" stroke-width="2.5" fill="none"/><path d="M916.15 324.97A3.5 3.5 0 0 1 916.15 328.03" stroke="#2ca8ef" stroke-width="2.5" fill="none"/><path d="M916.31 327.64A3.5 3.5 0 0 1 914.14 329.81" stroke="#9a3ab2" stroke-width="2.5" fill="none"/><path d="M914.53 329.65A3.5 3.5 0 0 1 911.47 329.65" stroke="#f0147c" stroke-width="2.5" fill="none"/><path d="M911.86 329.81A3.5 3.5 0 0 1 909.69 327.64" stroke="#f0522a" stroke-width="2.5" fill="none"/><path d="M909.85 328.03A3.5 3.5 0 0 1 909.85 324.97" stroke="#f0941e" stroke-width="2.5" fill="none"/><path d="M909.69 325.36A3.5 3.5 0 0 1 911.86 323.19" stroke="#b4da12" stroke-width="2.5" fill="none"/><circle cx="913.00" cy="322.50" r="1.3" fill="#25c24c"/><circle cx="915.83" cy="323.67" r="1.3" fill="#16c3ae"/><circle cx="917.00" cy="326.50" r="1.3" fill="#2ca8ef"/><circle cx="915.83" cy="329.33" r="1.3" fill="#9a3ab2"/><circle cx="913.00" cy="330.50" r="1.3" fill="#f0147c"/><circle cx="910.17" cy="329.33" r="1.3" fill="#f0522a"/><circle cx="909.00" cy="326.50" r="1.3" fill="#f0941e"/><circle cx="910.17" cy="323.67" r="1.3" fill="#b4da12"/><path d="M905.9 334V348.8M905.9 378.5V392.7" stroke="#2aa3dc" stroke-width="1.3"/><path d="M909.6 341.4H916.4M913 338.0V344.79999999999995" stroke="#c6c6c6" stroke-width="1" fill="none"/><path d="M908.6 341.4l2.2 -1.6v3.2zM917.4 341.4l-2.2 -1.6v3.2zM913 337.0l-1.6 2.2h3.2zM913 345.79999999999995l-1.6 -2.2h3.2z" fill="#c6c6c6"/><g stroke="#c6c6c6" stroke-width="1" fill="none" stroke-linecap="round"><ellipse cx="913.5" cy="354.9" rx="4.1" ry="2.6" transform="rotate(-20 913 355.7)"/><path d="M910.6 356.9q-0.6 1.8 1.6 2.6q1 0.3 1.4 -0.4"/></g><g stroke="#c6c6c6" stroke-width="0.9" fill="none"><path d="M908.8 374.6V367.0H916.4V370.8" stroke-dasharray="1.6 0.8"/><path d="M908.8 374.6H913.4" stroke-dasharray="1.6 0.8"/><path d="M915.8 371.5v3.8M913.9 373.40000000000003h3.8" stroke-width="1.3"/></g><path d="M910.6 377.9h4.8" stroke="#b4b4b4" stroke-width="1.1"/><g stroke="#c6c6c6" stroke-width="0.95" fill="none" stroke-linecap="round"><rect x="908.8" y="381.90000000000003" width="3.1" height="6.8" rx="1" stroke-dasharray="2.2 0.7"/><circle cx="915.1" cy="384.0" r="2.3"/><path d="M913.4 385.7V388.7" stroke-width="1.1"/></g><path d="M910.6 393h4.8" stroke="#b4b4b4" stroke-width="1.1"/><g stroke="#c6c6c6" stroke-width="1.0" fill="none"><path d="M909.62 398.87A3.6 3.6 0 0 1 916.26 398.58"/><path d="M916.38 401.33A3.6 3.6 0 0 1 909.74 401.62"/></g><path d="M917.36 396.98l0.3 2.7l-2.6 -0.3z" fill="#c6c6c6"/><path d="M908.64 403.22l-0.3 -2.7l2.6 0.3z" fill="#c6c6c6"/></svg>
<div class="card" style="left:154px;top:47px;width:382px;height:226.5px"><div class="hd" style="height:20px;line-height:20px">zip</div></div>
<svg class="abs" style="left:0;top:0" width="936" height="526" viewBox="0 0 936 526"><defs><clipPath id="usc"><path d="M188.8 96.7L189.3 101.9L189.0 115.0L186.5 128.4L188.2 135.5L187.4 146.2L190.4 154.5L194.8 163.7L197.6 165.5L198.2 169.3L200.9 173.5L204.3 179.6L207.9 187.4L215.9 190.4L219.8 191.1L220.3 192.8L224.8 195.1L227.4 200.8L240.7 199.6L240.2 201.0L260.9 208.7L276.8 208.7L276.8 205.8L286.1 205.8L294.6 213.1L297.3 219.5L304.8 223.8L307.6 218.8L314.5 218.7L318.7 223.0L320.6 228.0L325.0 233.0L327.3 239.9L336.7 243.3L338.1 242.7L336.7 234.3L338.9 229.9L342.8 226.1L349.4 223.0L351.6 221.1L356.3 219.2L363.3 220.1L370.5 221.7L376.0 223.0L381.0 223.6L379.9 216.3L383.8 214.7L388.7 215.6L393.2 215.0L398.7 214.7L403.1 219.2L409.2 216.9L414.2 220.4L417.6 224.2L417.6 231.2L420.3 236.8L423.1 241.7L427.5 249.1L432.0 248.8L433.6 243.6L433.9 237.4L431.1 228.0L426.1 218.5L425.0 212.8L427.5 205.0L433.3 199.7L438.1 195.8L441.1 192.1L444.4 192.1L448.0 187.4L452.2 186.7L457.7 182.7L456.6 176.2L455.5 171.4L454.1 170.3L454.4 167.2L455.8 169.3L459.1 163.7L460.5 160.5L460.2 158.1L458.0 153.8L461.3 157.0L465.8 151.3L466.3 146.2L466.9 145.1L477.9 141.8L474.1 142.2L468.5 142.9L471.8 140.7L477.9 140.0L480.7 138.8L482.4 138.5L484.9 138.5L488.5 137.4L488.7 135.5L487.9 134.4L485.7 136.3L484.6 133.3L482.9 132.1L485.1 129.9L484.0 128.0L485.1 126.5L487.4 122.7L491.2 120.8L494.6 118.8L498.4 117.3L502.9 115.0L505.4 113.4L504.5 110.7L502.6 109.5L500.7 106.3L500.7 95.3L497.9 93.0L493.7 93.4L492.8 92.1L488.5 98.3L486.8 104.7L483.8 109.9L480.2 111.8L462.4 111.8L460.0 111.5L456.4 116.0L451.3 119.5L438.3 124.5L435.7 124.8L430.6 128.3L422.8 131.6L416.3 133.5L418.9 130.9L422.1 123.2L421.5 112.8L418.9 107.6L412.4 101.8L404.7 96.0L393.0 88.2L385.3 84.3L382.7 85.0L371.0 86.3L359.4 81.8L352.9 79.8L350.3 77.2L350.2 77.0L349.3 77.0L349.1 79.3L193.2 79.3L194.8 81.0L198.2 85.2L197.6 91.8L195.4 93.4L196.5 86.9L194.3 86.0L185.3 84.5Z"/></clipPath><clipPath id="mapclip"><rect x="164" y="77" width="363.29999999999995" height="188"/></clipPath></defs><rect x="164" y="77" width="363.29999999999995" height="188" fill="#191a1a"/><path d="M186.0 83.1L192.1 84.4L186.0 77.0L177.4 77.0L178.2 77.6ZM350.3 78.2L352.9 80.8L359.4 82.8L371.0 87.3L382.7 86.0L393.0 89.2L404.7 97.0L412.4 103.0L418.9 108.6L421.5 113.5L422.1 123.2L418.5 132.0L416.3 134.5L423.0 132.6L431.0 129.3L436.0 125.8L438.3 125.5L451.3 120.5L456.4 117.0L460.0 112.5L470.6 112.6L483.2 108.8L486.9 98.7L493.2 91.2L500.7 94.2L505.8 106.0L505.4 113.4L510.6 109.9L517.3 107.1L519.5 102.3L516.7 95.9L514.5 89.3L509.0 87.7L516.2 86.9L520.0 82.7L513.4 77.6L505.1 80.2L496.8 84.4L489.6 91.0L486.1 93.8L490.7 87.7L497.3 79.3L499.6 77.0L349.8 77.0ZM194.8 78.5L193.7 79.3L349.1 79.3L349.1 77.0L192.3 77.0ZM525.6 99.9L519.5 98.7L521.2 100.7L524.5 102.7L527.3 103.4L527.3 100.0ZM527.3 114.2L527.3 105.7L522.8 104.7L519.5 105.5L516.7 108.7L521.7 110.3L512.8 115.0L510.1 121.5L513.9 123.4L520.0 116.5L527.2 114.2ZM239.7 221.7L244.7 226.8L241.4 232.4L248.0 237.4L254.7 241.1L255.2 246.7L258.0 251.5L265.2 257.6L267.1 261.2L269.6 258.2L265.2 253.4L262.4 247.3L258.6 239.9L254.1 233.7L251.4 227.4L246.9 219.8L240.8 212.1L240.3 205.6L244.7 207.6L249.7 209.5L251.4 216.0L254.7 223.6L261.3 229.9L264.1 233.7L270.2 238.0L270.2 244.2L277.9 247.9L285.1 256.4L290.7 263.0L291.4 265.0L334.6 265.0L334.5 263.0L335.6 251.5L338.1 242.7L336.7 243.3L327.3 239.9L325.0 233.0L320.6 228.0L318.7 223.0L314.5 218.7L307.6 218.8L304.8 223.8L297.3 219.5L294.6 213.1L286.1 205.8L276.8 205.8L276.8 208.7L260.9 208.7L240.2 201.0L240.7 199.6L227.4 200.8L229.7 205.0L232.0 209.5L235.3 216.0Z" fill="#343433"/><path d="M393.0 88.7L404.7 96.5L408.6 96.6L406.0 88.2L396.9 81.8L387.9 79.2L381.4 84.5L385.3 84.8ZM418.4 107.6L421.0 112.8L421.6 123.2L418.4 131.4L419.2 131.4L422.8 125.7L426.0 116.7L425.4 108.9L430.6 114.1L434.4 112.8L429.3 103.1L420.2 99.9L411.2 100.5L412.0 102.3ZM451.3 120.0L456.4 116.5L460.0 111.5L456.4 114.1L451.3 117.3L443.5 119.3L436.4 121.9L438.3 125.0ZM430.6 128.8L435.7 125.3L435.7 123.2L430.6 125.7L424.1 129.0L417.6 132.2L415.8 134.0L422.8 132.1Z" fill="#1b1c1c"/><g clip-path="url(#usc)"><rect x="164" y="77" width="363.29999999999995" height="188" fill="#3b1a6e"/><path d="M187.4 91.4L216.5 91.4L213.1 98.3L209.7 105.1L199.4 107.7L190.8 103.4L187.4 96.5Z" fill="#4a377c"/><path d="M222.5 79.4L232.8 79.4L233.7 91.4L238.8 95.7L228.5 100.0L226.0 93.1L221.7 93.1Z" fill="#4a367b"/><path d="M218.2 120.5L226.8 114.5L228.9 132.5L220.8 134.6Z" fill="#5a4e8c"/><path d="M199.4 127.4L206.3 123.9L212.3 125.7L214.8 134.2L199.4 135.1Z" fill="#5d548f"/><path d="M228.5 110.2L240.5 108.5L243.1 115.4L252.5 117.1L259.3 123.9L269.6 125.7L273.0 134.2L261.1 135.1L261.1 141.1L245.6 141.1L243.9 135.1L228.5 135.1L227.7 125.7L231.9 122.2Z" fill="#453177"/><path d="M227.7 135.1L244.8 135.1L244.8 147.9L233.7 145.3L227.7 147.1Z" fill="#5a518b"/><path d="M225.1 154.8L233.7 146.2L244.8 149.6L244.8 157.3L224.2 155.6Z" fill="#6f6a9f"/><path d="M273.0 135.1L279.9 130.8L290.2 132.5L286.7 141.9L276.5 141.9Z" fill="#5a518b"/><path d="M288.5 112.8L299.6 112.0L299.6 135.9L290.2 136.8L285.0 127.4L277.3 125.7Z" fill="#493579"/><path d="M310.7 90.6L319.3 89.7L321.0 103.4L317.6 105.1L311.6 101.7Z" fill="#2a0a5e"/><path d="M333.0 93.1L339.8 92.3L340.7 104.3L334.7 105.1Z" fill="#2a0a5e"/><path d="M311.6 115.4L326.1 113.7L327.0 125.7L312.4 125.7Z" fill="#2c0d62"/><path d="M321.0 104.3L344.1 103.4L344.1 127.4L334.7 129.1L326.1 112.8Z" fill="#2f1166"/><path d="M283.3 142.8L295.3 141.9L300.4 151.3L293.6 156.5L285.0 151.3Z" fill="#2a0a5e"/><path d="M187.4 135.9L209.7 135.1L211.4 147.9L204.5 156.5L194.3 151.3L189.1 147.9Z" fill="#453177"/><path d="M211.4 135.1L227.7 135.1L227.7 147.1L224.2 154.8L216.5 161.6L211.4 149.6Z" fill="#4a377c"/><path d="M244.8 149.6L286.7 151.3L286.7 166.1L244.8 166.1Z" fill="#49367b"/><path d="M300.4 142.8L344.1 141.1L344.1 166.1L300.4 166.1Z" fill="#3e2570"/><path d="M327.8 148.8L344.1 148.8L344.1 152.2L327.8 152.2Z" fill="#6a64a0"/><path d="M300.4 78.6L306.4 78.6L306.4 89.7L300.4 88.8Z" fill="#4a377c"/><path d="M194.3 150.0L344.1 150.0L344.1 240.1L194.3 240.1Z" fill="#4a377a"/><path d="M223.4 150.0L244.8 150.0L244.8 157.7L225.1 156.0Z" fill="#6f6a9f"/><path d="M273.0 150.0L303.9 150.0L303.9 156.8L293.6 163.7L279.9 168.8L273.0 165.4Z" fill="#3a1a6a"/><path d="M285.0 150.0L302.2 150.0L302.2 158.6L290.2 160.3Z" fill="#2a0a5e"/><path d="M303.9 150.0L344.1 150.0L344.1 165.4L326.1 168.8L307.3 163.7Z" fill="#3e2570"/><path d="M209.7 168.8L226.8 170.5L243.1 186.8L240.5 190.2L226.8 191.1L213.1 186.0L208.0 177.4Z" fill="#6a649f"/><path d="M201.1 160.3L218.2 162.0L225.1 170.5L209.7 168.8L204.5 167.1Z" fill="#554688"/><path d="M249.1 170.5L267.9 170.5L267.9 186.0L259.3 190.2L249.1 184.2Z" fill="#391a6c"/><path d="M267.9 170.5L288.5 171.4L293.6 180.8L286.7 192.8L273.0 192.8L273.0 184.2L267.9 184.2Z" fill="#5a518b"/><path d="M242.2 189.4L257.6 189.4L255.9 201.4L242.2 199.7Z" fill="#6660a0"/><path d="M226.8 186.8L242.2 188.5L242.2 198.8L228.5 196.2Z" fill="#554688"/><path d="M295.3 191.1L314.1 192.8L315.8 206.5L321.0 216.8L309.9 218.5L305.6 223.6L295.3 209.9L286.7 204.8Z" fill="#625b9b"/><path d="M314.1 184.2L326.1 182.5L327.8 192.8L317.6 194.5Z" fill="#7a75a8"/><path d="M305.6 168.8L326.1 168.0L327.0 172.3L306.4 173.1Z" fill="#6a64a0"/><path d="M326.1 211.6L338.1 209.9L339.8 218.5L329.5 220.2Z" fill="#3a1a6c"/><path d="M321.0 201.4L333.0 199.7L334.7 209.9L324.4 211.6Z" fill="#625b9b"/><path d="M327.8 225.3L344.1 225.3L344.1 240.1L329.5 240.1Z" fill="#625b9b"/><path d="M189.1 150.0L196.0 150.0L202.8 165.4L209.7 179.1L211.4 186.8L226.8 190.2L235.4 196.2L233.7 200.5L223.4 196.2L209.7 189.4L204.5 179.1L197.7 168.8Z" fill="#31107a"/><path d="M392.2 104.1L390.5 98.5L387.6 98.4L387.3 103.1L391.8 104.4ZM457.1 121.8L457.0 123.1L459.2 122.6L459.0 120.4ZM388.4 138.1L385.9 141.2L386.6 143.4L393.1 141.9L393.3 141.5L391.2 138.5L390.6 138.0ZM395.1 116.9L395.7 118.1L401.6 113.8L399.7 112.7ZM377.4 85.6L375.2 85.8L374.3 88.9L378.0 93.5L378.8 93.7L379.4 93.0ZM426.0 132.3L424.4 131.5L422.3 135.0L422.5 135.3L423.0 135.7ZM373.4 145.6L376.4 150.7L376.8 150.4L377.3 144.4ZM428.7 228.7L425.6 234.4L427.5 240.2L429.0 240.2L433.8 238.6L433.9 237.4L431.1 228.0L431.0 227.8ZM414.3 191.8L421.0 187.2L416.5 183.3L414.4 186.3L413.7 190.9L413.7 191.4ZM425.8 170.9L421.5 170.7L421.5 170.8L421.4 175.0L428.0 176.2ZM394.2 172.0L391.5 173.8L398.2 179.9L401.7 176.8L400.5 174.7ZM476.1 122.9L472.7 120.0L471.2 124.6L471.3 125.3L471.5 125.3ZM401.9 186.4L400.2 185.9L393.7 190.7L403.2 193.5L403.3 193.3L403.0 190.8ZM360.1 165.9L362.0 168.0L364.1 167.2L366.6 164.3L360.4 165.1ZM436.0 128.7L436.9 128.4L439.0 126.5L438.6 124.4L438.3 124.5L435.7 124.8L433.9 126.1ZM360.7 149.7L360.5 150.7L365.4 153.0L369.1 151.1L368.9 150.2L361.8 146.2ZM384.9 183.6L387.9 186.3L389.1 177.3L385.4 179.3L384.5 180.4ZM433.2 173.3L433.4 173.5L438.2 176.4L439.3 176.3L439.7 175.4L439.6 170.5L437.5 170.1L433.2 171.7Z" fill="#3a3a3a"/><path d="M378.3 114.9L376.7 120.7L379.8 121.0L381.6 119.3L381.5 117.4L379.6 115.1ZM369.7 101.4L368.3 101.9L366.5 105.3L369.9 108.7L370.8 108.8ZM386.7 91.7L387.1 94.4L390.8 96.8L391.5 96.5L394.6 89.3L393.0 88.2L391.9 87.6ZM362.1 108.2L361.7 111.0L364.1 114.0L369.9 108.7L366.5 105.3ZM387.3 103.1L381.8 103.1L381.8 103.2L385.6 108.1L391.4 105.8L391.8 104.4ZM392.0 113.5L395.1 116.9L399.7 112.7L398.1 110.6L392.0 113.5ZM357.5 111.6L352.2 107.2L349.0 110.2L353.4 116.3L353.5 116.3ZM353.4 123.8L355.0 122.4L354.3 117.4L353.5 116.3L353.4 116.3L345.9 119.4L346.2 121.5L351.1 123.8ZM346.8 102.4L339.3 111.7L339.7 111.9L349.0 110.2L352.2 107.2L352.6 103.6L352.4 103.1L350.6 102.0ZM386.4 96.5L380.7 100.7L381.8 103.1L387.3 103.1L387.6 98.4ZM394.3 130.4L399.9 129.2L400.5 128.3L399.7 126.4L393.9 124.0L391.5 128.5ZM373.0 120.8L376.7 120.7L378.3 114.9L377.4 114.4L371.3 116.9L370.0 118.6L371.0 119.5ZM414.3 128.6L419.2 128.7L419.9 127.6L419.1 126.7L414.2 125.8ZM370.9 100.4L375.5 93.9L368.4 91.7L368.2 91.7ZM381.4 92.1L386.5 91.7L382.3 85.0L382.0 85.1ZM376.4 138.8L378.4 133.5L378.2 132.9L377.1 131.9L368.0 133.7L368.0 133.7L373.5 139.2L374.5 139.5L376.2 139.0ZM395.8 120.4L394.6 122.2L393.9 123.5L393.9 124.0L399.7 126.4L401.3 123.2ZM388.5 128.0L391.4 128.5L391.5 128.5L393.9 124.0L393.9 123.5L388.5 120.9ZM380.8 124.2L381.3 125.0L383.5 128.0L386.3 128.1L386.8 127.9L385.8 123.0ZM367.1 118.4L370.0 118.6L371.3 116.9L373.5 109.4L370.8 108.8L369.9 108.7L364.1 114.0L365.1 116.6L365.8 117.2ZM389.1 117.3L394.6 122.2L395.8 120.4L396.1 119.3L395.7 118.1L395.1 116.9L392.0 113.5ZM354.3 117.4L355.0 122.4L356.8 122.7L360.4 118.0ZM352.6 103.6L352.2 107.2L357.5 111.6L361.7 111.0L362.1 108.2L359.7 104.1ZM373.5 109.4L371.3 116.9L377.4 114.4L377.2 108.5L374.9 108.5ZM371.8 101.3L370.9 100.9L369.7 101.4L370.8 108.8L373.5 109.4L374.9 108.5ZM396.6 91.0L398.2 99.7L402.6 96.7L403.3 95.9L403.5 95.2L396.6 90.6ZM357.8 123.3L358.2 123.8L363.2 125.4L364.3 124.7L367.1 118.4L365.8 117.2ZM373.5 139.2L365.8 141.7L370.2 145.4L372.6 144.8L374.5 139.5ZM384.1 114.1L384.1 114.5L385.9 116.1L388.7 111.7L388.2 111.7Z" fill="#2a0a5e"/><path d="M391.2 163.5L395.3 166.1L396.0 162.8L393.4 159.5ZM351.7 88.2L357.9 92.4L361.8 90.7L357.6 81.2L357.6 81.2ZM406.2 104.7L407.2 104.3L407.8 102.1L407.5 100.6L405.6 99.8L402.6 101.8L402.0 102.5ZM406.7 111.7L409.1 105.8L407.2 104.3L406.2 104.7L405.2 106.2L405.5 111.6ZM368.9 150.2L369.1 148.1L362.0 144.5L361.8 146.2ZM374.6 127.5L375.3 128.1L380.7 124.1L379.8 121.0L376.7 120.7L373.0 120.8ZM410.1 139.0L411.2 142.0L412.7 142.2L413.7 134.8L408.8 135.2ZM386.3 120.0L385.8 123.0L386.8 127.9L388.5 128.0L388.5 120.9L386.9 119.7ZM390.7 111.7L388.7 111.7L385.9 116.1L387.5 118.6L389.1 117.3L392.0 113.5L392.0 113.5ZM388.5 160.9L389.8 163.4L391.2 163.5L393.4 159.5L393.3 157.8L390.7 156.5ZM354.5 127.9L353.4 123.8L351.1 123.8L349.8 128.6ZM383.2 140.3L385.9 141.2L388.4 138.1L384.5 136.9ZM369.9 155.7L368.0 157.5L368.5 162.0L372.6 160.5L373.8 159.0ZM353.1 94.6L348.3 91.2L348.3 91.3L350.6 102.0L352.4 103.1L355.7 98.0ZM381.6 110.5L381.7 111.2L384.1 114.1L388.2 111.7L385.8 110.1ZM396.0 162.8L397.4 161.3L398.4 157.3L397.1 156.8L393.3 157.8L393.4 159.5ZM412.5 106.5L416.1 110.9L421.1 111.9L418.9 107.6L414.4 103.6ZM370.0 118.6L367.1 118.4L364.3 124.7L368.9 129.2L369.1 129.1L371.0 119.5ZM379.9 100.0L378.8 93.7L378.0 93.5L375.5 93.9L370.9 100.4L370.9 100.9L371.8 101.3ZM364.1 114.0L361.7 111.0L357.5 111.6L353.5 116.3L354.3 117.4L360.4 118.0L365.1 116.6ZM385.6 108.1L385.8 110.1L388.2 111.7L388.7 111.7L390.7 111.7L391.4 105.8ZM404.8 111.2L400.6 108.6L398.4 108.8L398.1 110.6L399.7 112.7L401.6 113.8L402.7 114.1L405.3 111.7ZM409.4 112.8L410.1 113.6L416.1 110.9L412.5 106.5L412.0 106.6ZM396.1 119.3L395.8 120.4L401.3 123.2L404.2 121.7L404.9 120.4L403.0 118.1ZM344.4 141.8L346.4 140.8L349.8 135.0L349.3 133.5L349.1 133.3L347.7 133.4L344.3 134.4L343.8 134.7L342.0 140.8ZM386.7 91.7L386.5 91.7L381.4 92.1L379.4 93.0L378.8 93.7L379.9 100.0L380.7 100.7L386.4 96.5L387.1 94.4ZM405.1 156.8L404.9 156.5L398.4 157.3L397.4 161.3L402.2 163.8L404.4 161.8ZM355.0 122.4L353.4 123.8L354.5 127.9L354.5 127.9L357.2 128.7L358.2 123.8L357.8 123.3L356.8 122.7ZM401.3 123.2L399.7 126.4L400.5 128.3L402.4 128.2L405.1 127.0L404.2 121.7ZM361.4 159.9L361.3 159.8L358.4 158.2L354.3 166.7L360.1 165.9L360.4 165.1ZM365.1 116.6L360.4 118.0L356.8 122.7L357.8 123.3L365.8 117.2ZM385.6 108.1L381.8 103.2L379.3 107.8L381.6 110.5L385.8 110.1ZM345.4 82.9L334.8 80.7L333.5 84.8L333.5 84.8L347.6 89.8ZM381.7 111.2L381.6 110.5L379.3 107.8L377.2 108.5L377.4 114.4L378.3 114.9L379.6 115.1ZM403.3 95.9L405.6 99.8L407.5 100.6L408.7 99.0L404.7 96.0L403.5 95.2ZM411.4 119.6L412.4 119.5L415.5 118.4L421.6 114.3L421.5 112.8L421.1 111.9L416.1 110.9L410.1 113.6ZM348.4 90.3L351.7 88.2L357.6 81.2L352.9 79.8L350.3 77.2L350.2 77.0L349.3 77.0L349.1 79.3L347.7 79.3L348.4 90.3ZM402.4 128.2L400.5 128.3L399.9 129.2L400.5 133.2L401.1 134.0L405.1 133.4ZM379.4 93.0L381.4 92.1L382.0 85.1L377.4 85.6Z" fill="#311166"/><path d="M357.6 93.7L357.9 92.4L351.7 88.2L348.4 90.3L348.3 91.2L353.1 94.6ZM382.7 146.0L381.7 141.5L376.4 138.8L376.2 139.0L377.5 144.0ZM358.4 158.2L357.7 157.2L351.2 160.8L354.0 166.9L354.3 166.7ZM348.6 129.9L349.8 128.6L351.1 123.8L346.2 121.5L344.2 125.0L344.5 126.0ZM368.0 133.7L368.2 132.2L362.4 127.3L360.6 130.3L362.8 132.9L366.7 134.4L368.0 133.7ZM443.7 152.3L444.4 154.6L449.4 151.9L450.1 148.8L448.7 147.6L444.0 149.9ZM337.2 137.2L341.6 140.9L342.0 140.8L343.8 134.7L342.6 133.9L337.7 134.1ZM381.7 111.2L379.6 115.1L381.5 117.4L384.1 114.5L384.1 114.1ZM346.4 140.8L354.0 142.4L353.7 139.2L353.4 138.3L349.8 135.0ZM396.1 152.9L401.1 149.2L395.4 148.1L393.6 151.5ZM394.0 97.5L395.6 101.2L398.1 99.9L398.2 99.7L396.6 91.0ZM379.9 100.0L371.8 101.3L374.9 108.5L377.2 108.5L379.3 107.8L381.8 103.2L381.8 103.1L380.7 100.7ZM368.0 133.7L366.7 134.4L364.9 140.0L364.6 141.3L365.8 141.7L373.5 139.2ZM376.6 130.8L381.3 125.0L380.8 124.2L380.7 124.1L375.3 128.1ZM405.6 99.8L403.3 95.9L402.6 96.7L402.6 101.8ZM426.5 143.5L428.6 142.7L429.0 138.3L427.7 135.9L424.1 136.5L423.4 140.2L424.4 142.0ZM372.6 160.5L368.5 162.0L368.0 162.5L368.0 163.1L368.4 163.8L376.3 165.3L376.1 165.1ZM362.1 98.4L364.6 92.6L361.8 90.7L357.9 92.4L357.6 93.7L358.4 97.4L361.9 98.5ZM395.4 148.1L392.9 143.7L390.4 146.9L390.4 149.2L390.7 152.3L393.6 151.5ZM373.8 159.0L372.6 160.5L376.1 165.1L377.6 156.0ZM414.2 125.8L419.1 126.7L419.0 126.2L412.4 119.5L411.4 119.6L411.1 119.9L411.2 122.9L412.6 125.0ZM405.2 106.2L402.6 106.5L402.4 107.1L404.8 111.2L405.3 111.7L405.5 111.6ZM333.5 84.8L333.4 87.0L336.6 98.6L341.9 97.4L348.3 91.3L348.3 91.2L348.4 90.3L348.4 90.3L347.6 89.8ZM390.5 98.5L392.2 104.1L393.6 103.8L395.6 101.2L394.0 97.5L391.5 96.5L390.8 96.8ZM372.6 144.8L370.2 145.4L369.1 148.1L368.9 150.2L369.1 151.1L371.1 152.0L376.0 152.1L376.4 150.7L373.4 145.6ZM390.4 146.9L383.8 146.8L384.4 148.6L390.4 149.2ZM374.3 88.9L368.4 91.7L375.5 93.9L378.0 93.5ZM402.6 101.8L402.6 96.7L398.2 99.7L398.1 99.9L401.9 102.5L402.0 102.5ZM345.9 119.4L353.4 116.3L349.0 110.2L339.7 111.9ZM356.7 153.3L357.7 157.2L358.4 158.2L361.3 159.8L365.5 154.9L365.4 153.0L360.5 150.7ZM403.9 140.2L400.7 141.5L401.9 145.2L408.8 144.5L409.5 142.9L405.4 140.9ZM358.4 97.4L355.7 98.0L352.4 103.1L352.6 103.6L359.7 104.1L361.9 98.5ZM384.5 162.0L384.7 160.5L381.7 156.7L379.9 156.8L379.5 164.0ZM381.6 119.3L379.8 121.0L380.7 124.1L380.8 124.2L385.8 123.0L386.3 120.0ZM393.6 103.8L392.2 104.1L391.8 104.4L391.4 105.8L390.7 111.7L392.0 113.5L398.1 110.6L398.4 108.8L397.5 106.7ZM344.3 134.4L347.7 133.4L343.4 129.6ZM358.2 123.8L357.2 128.7L359.1 130.4L360.6 130.3L362.4 127.3L363.2 125.4ZM407.5 100.6L407.8 102.1L412.7 102.1L412.4 101.8L408.7 99.0ZM368.4 163.8L370.4 168.3L376.8 166.0L376.3 165.3ZM389.3 154.0L386.0 153.7L381.7 156.7L384.7 160.5L388.5 160.9L390.7 156.5ZM387.5 118.6L386.9 119.7L388.5 120.9L393.9 123.5L394.6 122.2L389.1 117.3ZM401.1 104.7L397.5 106.7L398.4 108.8L400.6 108.6L402.4 107.1L402.6 106.5ZM389.9 133.9L390.6 138.0L391.2 138.5L395.4 132.8L394.3 130.4L391.5 128.5L391.4 128.5ZM345.4 82.9L347.6 89.8L348.4 90.3L347.7 79.3L346.6 79.3ZM377.1 131.9L376.6 130.8L375.3 128.1L374.6 127.5L369.1 129.1L368.9 129.2L368.2 132.2L368.0 133.7ZM395.5 132.9L396.2 134.5L400.0 136.8L401.1 134.0L400.5 133.2ZM358.8 136.2L357.9 134.3L356.0 135.9L355.4 136.8ZM334.8 80.7L345.4 82.9L346.6 79.3L335.1 79.3ZM418.5 131.1L415.1 133.0L414.1 134.7L417.0 138.1L420.3 133.7L419.5 132.6L416.3 133.5L418.5 131.3ZM379.9 156.8L377.8 155.9L377.6 156.0L376.1 165.1L376.3 165.3L376.8 166.0L378.9 166.7L379.5 164.0ZM359.7 104.1L362.1 108.2L366.5 105.3L368.3 101.9L362.1 98.4L361.9 98.5ZM369.1 148.1L370.2 145.4L365.8 141.7L364.6 141.3L362.0 143.0L362.0 144.5ZM393.3 157.8L397.1 156.8L396.1 152.9L393.6 151.5L390.7 152.3L389.3 154.0L390.7 156.5ZM415.5 118.4L419.1 122.9L421.9 120.0L421.6 114.3ZM377.5 144.0L376.2 139.0L374.5 139.5L372.6 144.8L373.4 145.6L377.3 144.4ZM378.4 133.5L383.6 135.4L385.4 133.5L386.3 128.1L383.5 128.0L378.2 132.9ZM402.4 107.1L400.6 108.6L404.8 111.2ZM368.1 91.6L368.2 91.7L368.4 91.7L374.3 88.9L375.2 85.8L371.0 86.3L368.6 85.4ZM398.1 99.9L395.6 101.2L393.6 103.8L397.5 106.7L401.1 104.7L401.9 102.5ZM376.4 138.8L381.7 141.5L383.2 140.3L384.5 136.9L383.6 135.4L378.4 133.5Z" fill="#3a1a6a"/><path d="M405.3 111.7L402.7 114.1L403.0 118.1L404.9 120.4L411.1 119.9L411.4 119.6L410.1 113.6L409.4 112.8L406.7 111.7L405.5 111.6ZM338.4 175.3L340.4 183.7L341.7 183.7L349.0 179.0L344.9 170.5ZM386.5 91.7L386.7 91.7L391.9 87.6L385.3 84.3L382.7 85.0L382.3 85.0ZM348.1 192.6L348.2 189.6L347.0 188.9L340.2 193.1L344.6 194.9ZM342.4 130.2L343.4 129.5L344.5 126.0L344.2 125.0L334.4 126.2L333.9 126.8L335.1 128.3ZM429.0 138.3L428.6 142.7L433.6 144.6L433.4 137.5ZM364.9 140.0L360.9 135.4L359.2 136.6L359.3 137.3L361.7 142.9L362.0 143.0L364.6 141.3ZM438.5 139.1L436.7 143.6L442.2 141.8L441.9 138.6ZM412.6 129.5L415.1 133.0L418.5 131.1L419.2 128.7L414.3 128.6ZM353.7 139.2L359.3 137.3L359.2 136.6L358.8 136.2L355.4 136.8L354.2 137.5L353.4 138.3ZM401.6 113.8L395.7 118.1L396.1 119.3L403.0 118.1L402.7 114.1ZM358.4 97.4L357.6 93.7L353.1 94.6L355.7 98.0ZM387.5 118.6L385.9 116.1L384.1 114.5L381.5 117.4L381.6 119.3L386.3 120.0L386.9 119.7ZM344.9 197.5L348.2 198.9L350.6 195.1L348.1 192.6L344.6 194.9ZM455.2 182.1L454.0 183.6L453.9 184.4L454.6 185.0L456.9 183.3ZM388.4 165.1L389.8 163.4L388.5 160.9L384.7 160.5L384.5 162.0L384.8 164.9ZM406.7 111.7L409.4 112.8L412.0 106.6L409.1 105.8ZM343.8 134.7L344.3 134.4L343.4 129.6L343.4 129.5L342.4 130.2L341.9 132.0L342.6 133.9ZM414.5 150.8L411.3 151.2L411.6 155.7L414.5 154.8ZM383.7 190.7L388.2 188.8L388.3 187.9L388.2 187.0L387.9 186.3L384.9 183.6L378.4 183.0L377.3 183.7L383.3 190.7ZM386.8 127.9L386.3 128.1L385.4 133.5L389.9 133.9L391.4 128.5L388.5 128.0ZM422.5 135.3L422.3 135.0L420.3 133.7L417.0 138.1L417.6 139.6L417.9 139.8L418.4 139.6ZM409.0 148.2L407.6 150.0L411.3 151.2L414.5 150.8L415.5 148.2L414.8 147.7ZM455.4 132.9L454.0 135.1L457.7 136.5L461.0 132.3ZM383.1 171.9L389.8 173.1L388.4 165.1L384.8 164.9L381.0 168.9ZM355.5 132.8L356.2 132.7L357.5 132.4L359.1 130.4L357.2 128.7L354.5 127.9L352.7 132.2ZM412.1 129.3L412.6 129.5L414.3 128.6L414.2 125.8L412.6 125.0ZM370.9 100.9L370.9 100.4L368.2 91.7L368.1 91.6L364.6 92.6L362.1 98.4L368.3 101.9L369.7 101.4ZM369.1 129.1L374.6 127.5L373.0 120.8L371.0 119.5ZM412.8 142.4L412.8 142.2L412.7 142.2L411.2 142.0L409.5 142.9L408.8 144.5L409.0 148.2L414.8 147.7ZM441.6 133.5L446.6 134.3L446.6 133.9L445.1 130.9L441.2 133.0ZM472.1 130.9L467.2 128.6L466.9 128.7L467.4 131.5L469.7 133.8L471.4 134.2ZM360.7 149.7L353.3 144.2L351.2 149.0L354.0 152.2L356.7 153.3L360.5 150.7ZM366.6 164.3L368.0 163.1L368.0 162.5L361.4 159.9L360.4 165.1ZM405.4 140.9L409.5 142.9L411.2 142.0L410.1 139.0ZM341.9 97.4L346.8 102.4L350.6 102.0L348.3 91.3ZM336.6 98.6L332.7 106.0L333.0 108.3L337.3 111.5L339.3 111.7L346.8 102.4L341.9 97.4ZM404.2 121.7L405.1 127.0L406.0 127.4L408.3 127.0L411.2 122.9L411.1 119.9L404.9 120.4ZM365.5 154.9L368.0 157.5L369.9 155.7L371.1 152.0L369.1 151.1L365.4 153.0ZM362.8 132.9L360.9 135.4L364.9 140.0L366.7 134.4ZM355.3 185.5L348.2 189.6L348.1 192.6L350.6 195.1L351.0 195.1L357.1 188.3ZM417.6 139.6L417.0 138.1L414.1 134.7L413.7 134.8L412.7 142.2L412.8 142.2ZM424.4 131.5L426.0 132.3L428.7 133.4L430.5 131.7L429.3 128.9L424.2 131.0ZM419.1 122.9L415.5 118.4L412.4 119.5L419.0 126.2ZM362.8 132.9L360.6 130.3L359.1 130.4L357.5 132.4L357.9 134.3L358.8 136.2L359.2 136.6L360.9 135.4ZM442.2 141.8L443.2 144.3L446.1 142.9L445.9 142.2L442.1 138.5L441.9 138.6ZM442.1 138.5L442.2 138.3L441.6 133.5L441.2 133.0L440.8 132.8L435.6 135.1L435.6 135.2L438.5 139.1L441.9 138.6ZM398.4 157.3L404.9 156.5L404.6 152.2L401.8 149.1L401.1 149.2L396.1 152.9L397.1 156.8ZM406.0 127.4L406.7 133.8L408.0 134.6L410.4 129.7L408.3 127.0ZM354.0 152.2L350.9 155.5L349.4 157.3L350.0 160.2L351.2 160.8L357.7 157.2L356.7 153.3ZM382.9 146.4L383.5 146.6L386.6 143.4L385.9 141.2L383.2 140.3L381.7 141.5L382.7 146.0ZM394.0 97.5L396.6 91.0L396.6 90.6L394.6 89.3L391.5 96.5ZM391.2 138.5L393.3 141.5L394.8 141.1L396.2 134.5L395.5 132.9L395.4 132.8ZM412.9 215.4L412.6 214.6L411.4 213.4L409.4 213.2L406.4 218.0L409.2 216.9L412.5 219.2ZM349.1 133.3L349.3 133.5L352.7 132.2L354.5 127.9L354.5 127.9L349.8 128.6L348.6 129.9ZM344.2 125.0L346.2 121.5L345.9 119.4L339.7 111.9L339.3 111.7L337.3 111.5L334.4 126.2ZM441.3 161.4L441.2 166.0L443.4 167.9L446.4 165.6L442.3 160.5ZM356.2 132.7L356.0 135.9L357.9 134.3L357.5 132.4ZM432.3 152.5L431.8 152.6L426.0 157.1L425.8 157.8L425.7 161.0L427.2 162.3L434.2 160.5L434.7 160.2L435.2 156.7ZM411.2 122.9L408.3 127.0L410.4 129.7L412.1 129.3L412.6 125.0ZM367.4 182.2L370.3 186.8L374.7 186.7L377.2 183.7L372.9 178.8L371.9 178.8L367.5 181.1L367.3 181.8ZM354.2 137.5L355.4 136.8L356.0 135.9L356.2 132.7L355.5 132.8ZM364.3 124.7L363.2 125.4L362.4 127.3L368.2 132.2L368.9 129.2ZM406.0 127.4L405.1 127.0L402.4 128.2L405.1 133.4L406.7 133.8ZM384.8 164.9L384.5 162.0L379.5 164.0L378.9 166.7L380.2 168.5L381.0 168.9ZM362.1 174.3L362.1 177.3L365.8 179.2L366.6 175.9L366.4 173.7L363.0 173.9ZM376.8 150.4L382.9 146.4L382.7 146.0L377.5 144.0L377.3 144.4ZM406.2 104.7L402.0 102.5L401.9 102.5L401.1 104.7L402.6 106.5L405.2 106.2ZM457.0 123.9L457.0 123.2L454.1 122.1L452.3 125.0L453.6 125.6Z" fill="#412572"/><path d="M435.6 135.1L433.6 132.3L430.5 131.7L428.7 133.4L427.7 135.9L429.0 138.3L433.4 137.5L435.6 135.2ZM390.7 152.3L390.4 149.2L384.4 148.6L386.0 153.7L389.3 154.0ZM353.9 203.9L345.5 209.2L348.7 211.3L352.9 209.0ZM336.0 129.9L341.9 132.0L342.4 130.2L335.1 128.3ZM414.5 150.8L414.5 154.8L416.9 156.1L421.5 152.1L421.5 149.3L419.1 147.9L415.5 148.2ZM433.6 144.6L428.6 142.7L426.5 143.5L424.7 147.7L431.8 152.6L432.3 152.5L433.9 150.0L435.1 145.8ZM376.4 150.7L376.0 152.1L377.8 155.9L379.9 156.8L381.7 156.7L386.0 153.7L384.4 148.6L383.8 146.8L383.5 146.6L382.9 146.4L376.8 150.4ZM419.1 122.9L419.0 126.2L419.1 126.7L419.9 127.6L420.3 127.5L422.1 123.2L421.9 120.0ZM415.5 148.2L419.1 147.9L419.2 144.6L412.8 142.4L414.8 147.7ZM432.3 152.5L435.2 156.7L437.5 156.5L439.5 152.1L433.9 150.0ZM452.8 154.5L449.4 151.9L444.4 154.6L444.5 155.2L451.5 156.1ZM442.7 126.0L447.3 121.0L442.3 123.0ZM343.4 129.6L347.7 133.4L349.1 133.3L348.6 129.9L344.5 126.0L343.4 129.5ZM449.2 185.3L448.1 181.3L444.9 180.9L444.0 180.9L442.0 186.6L440.6 192.7L441.1 192.1L444.4 192.1L448.0 187.4L449.4 187.2ZM381.2 201.3L385.3 197.4L383.7 190.7L383.3 190.7L382.4 191.3L380.0 201.4ZM424.2 131.0L422.8 131.6L419.5 132.6L420.3 133.7L422.3 135.0L424.4 131.5ZM419.9 127.6L419.2 128.7L418.5 131.1L418.5 131.3L418.9 130.9L420.3 127.5ZM356.7 175.8L353.6 175.0L349.3 179.1L355.1 184.3L358.7 179.3ZM479.4 120.4L479.2 116.6L478.0 116.3L475.8 116.7L478.3 120.5ZM421.4 187.4L421.0 187.2L414.3 191.8L416.0 193.5L416.9 192.8ZM416.9 194.8L416.0 193.5L414.3 191.8L413.7 191.4L410.6 193.0L410.5 195.9L412.0 202.5L412.7 202.5L416.6 200.9L417.7 198.1ZM400.6 199.6L400.9 195.5L394.5 196.6L395.6 204.7L397.2 204.4ZM471.2 138.3L471.8 138.8L474.4 138.1L477.1 135.9L477.0 135.8L474.3 134.8L471.3 138.0ZM437.5 156.5L443.6 157.0L443.6 156.9L444.5 155.2L444.4 154.6L443.7 152.3L439.5 152.1ZM435.2 156.7L434.7 160.2L436.6 162.1L441.3 161.4L442.3 160.5L443.6 157.0L437.5 156.5ZM408.8 212.2L409.4 213.2L411.4 213.4L414.0 211.1L413.1 206.3ZM475.8 116.7L474.5 116.8L474.2 117.2L476.9 121.2L478.3 120.5ZM404.9 203.2L400.6 199.6L397.2 204.4L398.8 204.9ZM339.4 206.2L338.6 205.9L334.9 205.7L335.0 213.0L337.6 220.0L345.4 224.1L343.0 208.8ZM349.8 135.0L353.4 138.3L354.2 137.5L355.5 132.8L352.7 132.2L349.3 133.5ZM472.6 118.4L467.9 120.1L471.2 124.6L472.7 120.0ZM396.2 134.5L394.8 141.1L399.8 140.9L400.0 136.8ZM350.0 160.2L342.4 164.7L345.2 169.3L353.5 167.7L354.0 166.9L351.2 160.8ZM362.2 191.7L362.1 191.9L366.6 193.0L370.3 186.8L367.4 182.2ZM465.2 140.7L467.5 138.4L466.2 137.1L463.1 137.0L461.8 138.4L461.4 140.7ZM453.6 153.9L453.5 149.7L450.1 148.8L449.4 151.9L452.8 154.5ZM407.8 102.1L407.2 104.3L409.1 105.8L412.0 106.6L412.5 106.5L414.4 103.6L412.7 102.1ZM354.0 142.4L354.0 142.5L361.7 142.9L359.3 137.3L353.7 139.2ZM360.1 211.8L358.0 204.7L354.2 203.4L354.2 203.4L353.9 203.9L352.9 209.0L354.9 212.2ZM444.0 149.9L448.7 147.6L449.2 143.9L446.1 142.9L443.2 144.3L441.6 146.7ZM366.4 173.7L366.6 175.9L369.9 175.3L368.7 172.0ZM341.6 140.9L334.6 148.4L339.9 154.2L340.4 154.1L343.3 151.8L347.0 148.8L344.4 141.8L342.0 140.8ZM433.2 180.2L430.2 180.2L430.3 182.6L435.2 184.1L435.6 182.8ZM410.4 129.7L408.0 134.6L408.1 134.8L408.8 135.2L413.7 134.8L414.1 134.7L415.1 133.0L412.6 129.5L412.1 129.3ZM334.9 205.7L338.6 205.9L344.9 197.5L344.6 194.9L340.2 193.1L340.0 193.1L334.5 204.4L334.7 205.6ZM471.4 134.2L469.7 133.8L470.1 138.2L471.2 138.3L471.3 138.0L471.5 134.3ZM393.1 141.9L386.6 143.4L383.5 146.6L383.8 146.8L390.4 146.9L392.9 143.7ZM410.5 195.9L406.5 198.9L408.3 203.0L412.0 202.5ZM406.4 180.6L405.8 182.6L407.9 184.2L414.4 186.3L416.5 183.3L416.8 180.0L411.0 178.6ZM418.5 210.4L418.4 210.4L414.0 211.1L411.4 213.4L412.6 214.6L418.5 214.8L419.7 213.6L418.9 210.8ZM409.0 148.2L408.8 144.5L401.9 145.2L401.8 149.1L404.6 152.2L407.6 150.0ZM465.6 144.9L459.9 142.6L459.9 142.6L459.6 143.4L466.1 147.9L466.2 147.0ZM446.8 137.0L447.8 136.3L446.6 134.3L441.6 133.5L442.2 138.3ZM376.0 212.3L373.3 211.3L368.5 214.4L380.2 218.6L379.9 216.3L380.3 216.1ZM401.1 149.2L401.8 149.1L401.9 145.2L400.7 141.5L399.8 140.9L394.8 141.1L393.3 141.5L393.1 141.9L392.9 143.7L395.4 148.1ZM499.8 113.0L499.1 116.9L502.9 115.0L505.4 113.4L505.2 112.8ZM433.9 126.1L430.6 128.3L429.3 128.9L430.5 131.7L433.6 132.3L436.0 128.7ZM389.9 133.9L385.4 133.5L383.6 135.4L384.5 136.9L388.4 138.1L390.6 138.0ZM346.4 140.8L344.4 141.8L347.0 148.8L351.2 149.0L353.3 144.2L354.0 142.5L354.0 142.4ZM431.6 169.0L431.9 168.6L434.2 160.5L427.2 162.3L427.7 164.0L430.7 168.5ZM378.9 166.7L376.8 166.0L370.4 168.3L370.2 169.7L374.4 172.5L380.2 168.5ZM383.5 128.0L381.3 125.0L376.6 130.8L377.1 131.9L378.2 132.9ZM425.0 209.2L426.0 209.8L427.5 205.0L429.5 203.2L427.7 201.6L422.9 204.3ZM421.4 175.0L418.9 179.0L425.1 182.0L427.9 179.0L428.1 176.3L428.0 176.2ZM459.9 142.6L457.9 141.0L453.6 142.1L452.7 142.5L452.5 142.9L455.7 146.1L459.0 144.4L459.6 143.4ZM377.8 155.9L376.0 152.1L371.1 152.0L369.9 155.7L373.8 159.0L377.6 156.0ZM387.1 94.4L386.4 96.5L387.6 98.4L390.5 98.5L390.8 96.8ZM361.8 90.7L364.6 92.6L368.1 91.6L368.6 85.4L359.4 81.8L357.6 81.2ZM411.3 151.2L407.6 150.0L404.6 152.2L404.9 156.5L405.1 156.8L408.3 157.2L411.6 155.7ZM482.1 126.8L479.7 126.9L479.1 127.6L481.6 130.0L484.4 130.6L485.1 129.9L484.2 128.3ZM361.4 159.9L368.0 162.5L368.5 162.0L368.0 157.5L365.5 154.9L361.3 159.8ZM366.7 170.2L369.1 170.7L370.2 169.7L370.4 168.3L368.4 163.8L368.0 163.1L366.6 164.3L364.1 167.2ZM360.2 172.2L359.1 172.1L356.7 175.8L358.7 179.3L359.7 178.8L362.1 177.3L362.1 174.3ZM338.3 161.6L342.4 164.7L350.0 160.2L349.4 157.3L340.4 154.1L339.9 154.2Z" fill="#49347b"/><path d="M408.1 134.8L403.9 140.2L405.4 140.9L410.1 139.0L408.8 135.2ZM423.4 140.2L418.4 139.6L417.9 139.8L419.3 143.7L424.4 142.0ZM383.6 214.7L383.8 214.7L383.9 214.7L389.4 209.9L391.8 206.9L391.0 206.3L388.4 205.6L381.9 209.3ZM459.2 120.0L458.1 117.7L456.0 116.3L454.7 117.2L457.1 121.8L459.0 120.4ZM471.3 138.0L474.3 134.8L473.9 134.1L471.5 134.3ZM423.8 197.4L423.3 194.1L420.3 193.1L416.9 194.8L417.7 198.1ZM465.1 142.6L465.2 140.7L461.4 140.7L461.3 140.9ZM450.7 130.0L454.9 129.3L455.2 127.9L453.6 125.6L452.3 125.0L449.2 125.2L448.5 127.1L449.5 128.9ZM377.9 192.3L375.4 191.5L372.1 194.0L377.7 197.7ZM450.0 143.2L448.5 136.4L447.8 136.3L446.8 137.0L445.9 142.2L446.1 142.9L449.2 143.9ZM473.9 134.1L473.7 131.3L472.1 130.9L471.4 134.2L471.5 134.3ZM377.3 183.7L377.2 183.7L374.7 186.7L375.4 191.5L377.9 192.3L382.4 191.3L383.3 190.7ZM457.8 162.6L456.2 158.9L451.8 157.9L451.3 160.6ZM441.2 133.0L445.1 130.9L445.4 128.2L442.4 127.6L440.8 132.7L440.8 132.8ZM476.7 123.3L476.2 122.9L476.1 122.9L471.5 125.3L476.2 128.1ZM458.1 117.7L459.2 120.0L460.8 120.6L462.9 119.3L463.1 117.6ZM467.8 120.1L467.9 120.1L472.6 118.4L472.7 118.4L469.8 116.4L469.5 116.4L466.7 117.7ZM380.3 207.2L373.5 210.7L373.3 211.3L376.0 212.3L380.8 208.2ZM394.4 196.6L394.5 196.6L400.9 195.5L403.2 193.5L403.2 193.5L393.7 190.7L391.5 191.5ZM468.1 139.6L467.1 142.7L470.4 143.5L469.9 142.7L468.5 142.9L469.6 142.2ZM405.1 133.4L401.1 134.0L400.0 136.8L399.8 140.9L400.7 141.5L403.9 140.2L408.1 134.8L408.0 134.6L406.7 133.8ZM349.2 201.7L339.4 206.2L343.0 208.8L345.5 209.2L353.9 203.9L354.2 203.4ZM443.4 180.6L444.0 180.9L444.9 180.9L446.3 172.9L445.6 172.7L442.1 178.1ZM445.1 130.9L446.6 133.9L449.5 128.9L448.5 127.1L445.4 128.2ZM421.5 152.1L426.0 157.1L431.8 152.6L424.7 147.7L421.5 149.3ZM338.3 189.7L340.0 193.1L340.2 193.1L347.0 188.9L341.7 183.7L340.4 183.7L339.4 184.5ZM369.2 195.0L368.8 194.9L364.8 201.7L371.0 201.8L371.7 199.9ZM366.4 173.7L368.7 172.0L369.1 170.7L366.7 170.2L365.4 170.5L364.4 171.5L363.0 173.9ZM413.7 190.9L410.1 188.6L406.6 189.4L403.0 190.8L403.3 193.3L410.6 193.0L413.7 191.4ZM474.3 130.9L476.3 128.1L476.2 128.1L471.5 125.3L471.3 125.3L467.2 128.6L472.1 130.9L473.7 131.3ZM451.8 157.9L456.2 158.9L456.8 156.1L456.3 154.6L453.6 153.9L452.8 154.5L451.5 156.1ZM439.3 176.3L442.1 178.1L445.6 172.7L444.0 171.4L439.7 175.4ZM466.1 111.8L462.4 111.8L460.0 111.5L460.0 111.5L464.4 115.8L464.4 115.8L465.5 114.8ZM389.4 209.9L383.9 214.7L388.7 215.6L390.5 215.4ZM349.1 218.7L345.7 224.4L345.8 224.7L349.4 223.0L351.6 221.1L356.3 219.2L357.7 219.4L357.4 217.8L354.9 216.7ZM380.9 175.6L380.7 179.3L384.5 180.4L385.4 179.3L381.2 175.3ZM364.4 171.5L361.9 168.8L360.2 172.2L362.1 174.3L363.0 173.9ZM433.2 171.7L437.5 170.1L438.4 166.0L436.8 164.6L431.9 168.6L431.6 169.0ZM440.8 132.7L436.9 128.4L436.0 128.7L433.6 132.3L435.6 135.1L440.8 132.8ZM390.4 191.0L388.2 188.8L383.7 190.7L385.3 197.4L387.7 197.5ZM349.4 157.3L350.9 155.5L343.3 151.8L340.4 154.1ZM489.1 118.7L491.5 116.1L492.2 112.0L486.8 113.7L487.2 115.6ZM449.2 125.2L452.3 125.0L454.1 122.1L453.5 118.0L451.3 119.5L447.5 121.0ZM419.7 213.6L418.5 214.8L418.2 216.0L419.8 218.6L421.6 219.5L422.9 219.0L422.0 214.6ZM474.2 117.2L472.7 118.4L472.6 118.4L472.7 120.0L476.1 122.9L476.2 122.9L476.9 121.2ZM349.3 179.1L349.0 179.0L341.7 183.7L347.0 188.9L348.2 189.6L355.3 185.5L355.3 185.1L355.1 184.3ZM419.3 143.7L419.2 144.6L419.1 147.9L421.5 149.3L424.7 147.7L426.5 143.5L424.4 142.0ZM366.1 213.2L366.6 206.5L363.4 202.9L362.0 202.7L358.0 204.7L360.1 211.8L360.4 212.1ZM396.2 168.0L394.2 172.0L400.5 174.7L404.3 170.4L400.2 166.9ZM458.3 153.4L456.3 154.6L456.8 156.1L460.1 157.8L458.0 153.8L461.3 157.0L461.9 156.2ZM427.8 185.2L430.3 182.6L430.2 180.2L427.9 179.0L425.1 182.0L425.8 184.9ZM434.2 160.5L431.9 168.6L436.8 164.6L436.6 162.1L434.7 160.2ZM362.1 177.3L359.7 178.8L363.5 183.0L367.3 181.8L367.5 181.1L365.8 179.2ZM401.7 176.8L398.2 179.9L398.0 184.0L398.1 184.1L400.2 185.9L401.9 186.4L405.8 182.6L406.4 180.6L404.8 178.5ZM397.4 161.3L396.0 162.8L395.3 166.1L396.2 168.0L400.2 166.9L402.2 163.8ZM403.4 209.7L406.2 209.0L407.7 203.6L404.9 203.2L398.8 204.9ZM477.7 111.8L474.0 111.8L474.0 115.2L474.1 115.2ZM419.6 205.3L423.4 209.4L425.0 209.2L422.9 204.3L419.7 204.1ZM417.3 179.6L418.9 179.0L421.4 175.0L421.5 170.8L421.3 170.6L420.1 170.2L415.0 170.8L415.8 174.9ZM417.6 139.6L412.8 142.2L412.8 142.4L419.2 144.6L419.3 143.7L417.9 139.8ZM455.2 182.1L453.4 179.0L451.1 178.3L448.1 181.3L449.2 185.3L454.0 183.6ZM342.6 133.9L341.9 132.0L336.0 129.9L337.7 134.1ZM393.4 181.4L388.2 187.0L388.3 187.9L398.1 184.1L398.0 184.0ZM471.2 124.6L467.9 120.1L467.8 120.1L465.0 122.7L464.8 123.8L466.6 128.6L466.9 128.7L467.2 128.6L471.3 125.3ZM416.9 192.8L416.0 193.5L416.9 194.8L420.3 193.1L424.1 189.8L424.2 189.6L423.8 188.4ZM402.3 211.2L398.8 214.7L403.1 219.2L404.2 218.8ZM474.0 111.8L469.9 111.8L469.8 113.0L469.9 113.1L474.0 115.2ZM452.5 142.9L452.7 142.5L453.2 137.3L452.8 135.5L451.9 135.3L448.5 136.4L450.0 143.2ZM365.4 170.5L361.9 168.7L361.9 168.8L364.4 171.5ZM468.1 138.6L470.1 138.2L469.7 133.8L467.4 131.5L466.2 137.1L467.5 138.4ZM428.3 192.4L424.2 197.5L427.6 201.2L430.4 197.0L432.2 192.6ZM439.0 126.5L442.4 127.5L442.7 126.0L442.3 123.0L438.6 124.4ZM380.2 168.5L374.4 172.5L374.7 176.2L380.9 175.6L381.2 175.3L383.1 171.9L381.0 168.9ZM465.5 114.8L464.4 115.8L466.7 117.7L469.5 116.4L467.1 114.3ZM408.5 170.0L406.9 170.6L404.8 178.5L406.4 180.6L411.0 178.6L410.8 175.3L410.1 170.5ZM456.8 156.1L456.2 158.9L457.8 162.6L458.0 162.8L459.4 163.0L460.5 160.5L460.2 158.1L460.1 157.8ZM459.9 142.6L465.6 144.9L465.8 144.2L465.1 142.6L461.3 140.9ZM454.7 117.2L453.5 118.0L454.1 122.1L457.0 123.2L457.0 123.1L457.1 121.8ZM424.1 189.8L420.3 193.1L423.3 194.1ZM414.4 186.3L407.9 184.2L409.2 187.3L410.1 188.6L413.7 190.9ZM435.6 190.9L434.9 189.1L427.8 185.2L425.8 184.9L423.7 188.1L423.8 188.4L424.2 189.6L428.3 192.4L432.2 192.6ZM392.8 197.5L394.4 196.6L391.5 191.5L390.4 191.0L387.7 197.5L388.7 198.7ZM382.4 191.3L377.9 192.3L377.7 197.7L378.9 200.9L379.7 201.5L380.0 201.4ZM449.5 162.2L449.1 165.1L451.1 167.2L455.8 164.6L458.0 162.8L457.8 162.6L451.3 160.6ZM393.3 206.8L395.6 204.7L394.5 196.6L394.4 196.6L392.8 197.5L390.3 202.2L391.0 206.3L391.8 206.9L392.8 207.0ZM357.4 217.8L360.4 212.1L360.1 211.8L354.9 212.2L354.0 213.2L354.9 216.7ZM477.1 135.9L474.4 138.1L476.1 140.2L477.9 140.0L479.3 139.4ZM477.5 141.9L477.9 141.8L477.4 141.8ZM363.5 183.0L363.5 183.1L362.2 191.7L367.4 182.2L367.3 181.8ZM357.1 188.3L351.0 195.1L354.8 198.0L360.6 193.2L361.1 192.0ZM407.7 203.6L408.3 203.0L406.5 198.9L403.2 193.5L400.9 195.5L400.6 199.6L404.9 203.2ZM458.0 162.8L455.8 164.6L456.3 168.4L459.1 163.7L459.4 163.0ZM358.0 204.7L362.0 202.7L360.6 193.2L354.8 198.0L354.2 203.4ZM380.7 179.3L378.4 183.0L384.9 183.6L384.5 180.4ZM412.6 214.6L412.9 215.4L416.3 218.4L418.2 216.0L418.5 214.8ZM476.3 128.1L477.7 128.4L479.1 127.6L479.7 126.9L479.3 123.9L476.7 123.3L476.2 128.1ZM469.8 113.0L469.9 111.8L466.1 111.8L465.5 114.8L467.1 114.3ZM466.2 137.1L467.4 131.5L466.9 128.7L466.6 128.6L466.4 128.6L461.6 131.0L461.1 132.3L463.1 137.0ZM474.3 134.8L477.0 135.8L478.2 133.7L474.3 130.9L473.7 131.3L473.9 134.1ZM462.6 149.8L462.4 149.9L458.3 153.3L458.3 153.4L461.9 156.2L465.8 151.3L465.8 150.4ZM456.9 183.3L457.7 182.7L456.9 177.7L453.4 179.0L455.2 182.1ZM417.2 157.0L416.9 156.1L414.5 154.8L411.6 155.7L408.3 157.2L411.5 160.5L417.3 161.1ZM448.5 127.1L449.2 125.2L447.5 121.0L447.3 121.0L442.7 126.0L442.4 127.5L442.4 127.6L445.4 128.2ZM451.0 177.4L446.8 173.0L446.3 172.9L444.9 180.9L448.1 181.3L451.1 178.3ZM350.9 155.5L354.0 152.2L351.2 149.0L347.0 148.8L343.3 151.8ZM454.2 171.2L451.0 177.4L451.1 178.3L453.4 179.0L456.9 177.7L456.6 176.2L455.5 171.4L455.4 171.3ZM435.6 190.9L432.2 192.6L430.4 197.0L433.5 199.6L438.1 195.8L440.2 193.2ZM424.1 136.5L427.7 135.9L428.7 133.4L426.0 132.3L423.0 135.7ZM410.8 175.3L411.0 178.6L416.8 180.0L417.3 179.6L415.8 174.9L413.8 174.3ZM397.2 204.4L395.6 204.7L393.3 206.8L398.8 210.2L402.5 210.7L403.4 209.7L398.8 204.9ZM362.0 144.5L362.0 143.0L361.7 142.9L354.0 142.5L353.3 144.2L360.7 149.7L361.8 146.2ZM440.2 193.2L440.6 192.7L442.0 186.6L438.6 182.2L435.9 182.6L435.6 182.8L435.2 184.1L434.9 189.1L435.6 190.9ZM355.1 184.3L355.3 185.1L363.5 183.1L363.5 183.0L359.7 178.8L358.7 179.3ZM416.9 156.1L417.2 157.0L425.8 157.8L426.0 157.1L421.5 152.1ZM422.0 214.6L422.9 219.0L424.8 220.0L426.9 220.0L426.1 218.5L425.1 213.3ZM360.6 193.2L362.0 202.7L363.4 202.9L364.8 201.7L368.8 194.9L366.6 193.0L362.1 191.9L361.1 192.0ZM461.6 131.0L460.5 130.2L455.4 130.1L455.4 132.9L461.0 132.3L461.1 132.3ZM458.1 117.7L463.1 117.6L464.4 115.8L460.0 111.5L456.4 116.0L456.0 116.3ZM442.4 127.6L442.4 127.5L439.0 126.5L436.9 128.4L440.8 132.7ZM453.2 137.3L452.7 142.5L453.6 142.1L455.8 139.5ZM412.7 202.5L412.0 202.5L408.3 203.0L407.7 203.6L406.2 209.0L408.8 212.2L413.1 206.3L413.2 204.9ZM383.1 171.9L381.2 175.3L385.4 179.3L389.1 177.3L391.2 174.1L391.3 173.9L389.8 173.1ZM471.8 138.8L471.2 138.3L470.1 138.2L468.1 138.6L468.1 139.6L469.6 142.2L471.8 140.7L472.7 140.6ZM473.4 142.2L469.9 142.7L470.4 143.5L470.8 143.9L473.8 143.0ZM388.4 205.6L391.0 206.3L390.3 202.2L388.7 198.7L385.1 202.8ZM441.2 166.0L438.4 166.0L437.5 170.1L439.6 170.5L443.1 169.7L443.4 167.9Z" fill="#524184"/><path d="M376.0 212.3L380.3 216.1L383.6 214.7L381.9 209.3L380.8 208.2ZM439.6 170.5L439.7 175.4L444.0 171.4L443.1 169.7ZM435.1 145.8L433.9 150.0L439.5 152.1L443.7 152.3L444.0 149.9L441.6 146.7L435.8 145.5ZM455.8 164.6L451.1 167.2L451.3 168.2L454.2 171.2L455.4 171.3L454.1 170.3L454.4 167.2L455.8 169.3L456.3 168.4ZM438.6 182.2L442.0 186.6L444.0 180.9L443.4 180.6ZM474.1 115.2L474.5 116.8L475.8 116.7L478.0 116.3L478.0 111.8L477.7 111.8ZM473.8 143.0L477.5 141.9L477.4 141.8L474.1 142.2L473.4 142.2ZM474.4 138.1L471.8 138.8L472.7 140.6L476.1 140.2ZM368.3 214.5L366.4 213.5L361.6 219.9L363.3 220.1L369.7 221.5ZM494.7 107.9L494.5 107.5L489.7 103.7L485.6 107.4L492.9 109.2ZM436.7 143.6L438.5 139.1L435.6 135.2L433.4 137.5L433.6 144.6L435.1 145.8L435.8 145.5ZM354.3 166.7L354.0 166.9L353.5 167.7L354.5 169.5L359.1 172.1L360.2 172.2L361.9 168.8L361.9 168.7L362.0 168.0L360.1 165.9ZM444.5 155.2L443.6 156.9L449.5 162.2L451.3 160.6L451.8 157.9L451.5 156.1ZM454.9 129.3L450.7 130.0L451.9 135.3L452.8 135.5L454.0 135.1L455.4 132.9L455.4 130.1ZM379.7 201.5L379.2 203.3L380.3 207.2L380.8 208.2L381.9 209.3L388.4 205.6L385.1 202.8L381.2 201.3L380.0 201.4ZM482.6 117.5L481.1 116.0L479.2 116.6L479.4 120.4L481.2 121.8L481.5 121.8L482.9 118.4ZM479.0 133.0L481.5 133.5L483.3 132.4L482.9 132.1L484.4 130.6L481.6 130.0L478.9 131.7ZM368.5 214.4L368.3 214.5L369.7 221.5L370.5 221.7L376.0 223.0L381.0 223.6L380.2 218.6ZM477.1 135.9L479.3 139.4L480.7 138.8L482.4 138.5L482.5 138.5L481.5 133.5L479.0 133.0L478.2 133.7L477.0 135.8ZM413.8 174.3L415.8 174.9L415.0 170.8L413.4 170.1L411.0 170.2ZM457.8 136.7L457.7 136.5L454.0 135.1L452.8 135.5L453.2 137.3L455.8 139.5L457.3 139.7ZM402.5 210.7L402.3 211.2L404.2 218.8L406.4 218.0L409.4 213.2L408.8 212.2L406.2 209.0L403.4 209.7ZM391.5 173.8L391.3 173.9L391.2 174.1L393.4 181.4L398.0 184.0L398.2 179.9ZM443.1 169.7L444.0 171.4L445.6 172.7L446.3 172.9L446.8 173.0L451.3 168.2L451.1 167.2L449.1 165.1L446.4 165.6L443.4 167.9ZM400.5 174.7L401.7 176.8L404.8 178.5L406.9 170.6L404.3 170.4ZM410.1 188.6L409.2 187.3L406.6 189.4ZM412.7 202.5L413.2 204.9L418.4 210.4L418.5 210.4L419.6 205.3L419.7 204.1L416.6 200.9ZM356.7 175.8L359.1 172.1L354.5 169.5L353.6 175.0ZM494.5 107.5L494.7 107.9L499.3 107.5L500.7 106.2L500.7 103.8L494.3 102.3L493.6 103.9L493.7 104.5ZM423.7 188.1L421.4 187.4L416.9 192.8L423.8 188.4ZM425.8 184.9L425.1 182.0L418.9 179.0L417.3 179.6L416.8 180.0L416.5 183.3L421.0 187.2L421.4 187.4L423.7 188.1ZM348.7 211.3L345.5 209.2L343.0 208.8L345.4 224.1L345.7 224.4L349.1 218.7L350.2 214.2ZM430.4 197.0L427.6 201.2L427.7 201.6L429.5 203.2L433.3 199.7L433.5 199.6ZM378.9 200.9L371.7 199.9L371.0 201.8L370.6 204.5L373.6 206.7L379.2 203.3L379.7 201.5ZM466.2 147.0L466.3 146.2L466.9 145.1L470.8 143.9L470.4 143.5L467.1 142.7L465.8 144.2L465.6 144.9ZM441.6 146.7L443.2 144.3L442.2 141.8L436.7 143.6L435.8 145.5ZM374.7 176.2L372.9 178.8L377.2 183.7L377.3 183.7L378.4 183.0L380.7 179.3L380.9 175.6ZM451.3 168.2L446.8 173.0L451.0 177.4L454.2 171.2ZM478.2 133.7L479.0 133.0L478.9 131.7L477.7 128.4L476.3 128.1L474.3 130.9ZM497.3 116.5L491.5 116.1L489.1 118.7L489.2 120.3L489.9 121.4L491.2 120.8L494.6 118.8L498.4 117.3L498.6 117.2ZM424.2 197.5L423.8 197.4L417.7 198.1L416.6 200.9L419.7 204.1L422.9 204.3L427.7 201.6L427.6 201.2ZM484.3 124.2L484.3 127.6L485.1 126.5L486.3 124.4ZM455.2 127.9L458.3 126.5L458.4 126.1L457.0 123.9L453.6 125.6ZM393.7 190.7L400.2 185.9L398.1 184.1L388.3 187.9L388.2 188.8L390.4 191.0L391.5 191.5ZM474.1 115.2L474.0 115.2L469.9 113.1L469.8 116.4L472.7 118.4L474.2 117.2L474.5 116.8ZM463.1 137.0L461.1 132.3L461.0 132.3L457.7 136.5L457.8 136.7L461.8 138.4ZM458.3 126.5L455.2 127.9L454.9 129.3L455.4 130.1L460.5 130.2ZM402.3 211.2L402.5 210.7L398.8 210.2L397.8 214.7L398.7 214.7L398.8 214.7ZM419.6 205.3L418.5 210.4L418.9 210.8L423.4 209.4ZM497.3 116.5L498.6 117.2L499.1 116.9L499.8 113.0L499.3 107.5L494.7 107.9L492.9 109.2L492.4 111.8ZM373.6 206.7L373.5 210.7L380.3 207.2L379.2 203.3ZM476.9 121.2L476.2 122.9L476.7 123.3L479.3 123.9L481.2 121.8L479.4 120.4L478.3 120.5ZM465.8 144.2L467.1 142.7L468.1 139.6L468.1 138.6L467.5 138.4L465.2 140.7L465.1 142.6ZM392.8 197.5L388.7 198.7L388.7 198.7L390.3 202.2ZM355.3 185.5L357.1 188.3L361.1 192.0L362.1 191.9L362.2 191.7L363.5 183.1L355.3 185.1ZM366.6 175.9L365.8 179.2L367.5 181.1L371.9 178.8L369.9 175.3ZM392.8 207.0L391.8 206.9L389.4 209.9L390.5 215.4L393.2 215.0L394.8 214.9ZM422.1 162.3L425.7 161.0L425.8 157.8L417.2 157.0L417.3 161.1L417.8 161.9ZM478.0 116.3L479.2 116.6L481.1 116.0L483.4 110.1L480.2 111.8L478.0 111.8ZM457.2 150.6L458.3 153.3L462.4 149.9L459.4 149.4ZM453.5 149.7L453.6 153.9L456.3 154.6L458.3 153.4L458.3 153.3L457.2 150.6L454.6 148.7ZM366.6 193.0L368.8 194.9L369.2 195.0L372.1 194.0L375.4 191.5L374.7 186.7L370.3 186.8ZM493.6 103.9L494.3 102.3L493.4 97.6L490.2 95.9L489.9 96.3L490.3 100.6ZM489.9 102.9L493.7 104.5L493.6 103.9L490.3 100.6ZM443.6 156.9L443.6 157.0L442.3 160.5L446.4 165.6L449.1 165.1L449.5 162.2ZM447.8 136.3L448.5 136.4L451.9 135.3L450.7 130.0L449.5 128.9L446.6 133.9L446.6 134.3ZM361.9 168.7L365.4 170.5L366.7 170.2L364.1 167.2L362.0 168.0ZM489.2 120.3L489.1 118.7L487.2 115.6L482.6 117.5L482.9 118.4L487.9 120.4ZM373.5 210.7L373.6 206.7L370.6 204.5L366.6 206.5L366.1 213.2L366.4 213.5L368.3 214.5L368.5 214.4L373.3 211.3ZM385.1 202.8L388.7 198.7L388.7 198.7L387.7 197.5L385.3 197.4L381.2 201.3ZM436.8 164.6L438.4 166.0L441.2 166.0L441.3 161.4L436.6 162.1ZM411.0 170.2L410.1 170.5L410.8 175.3L413.8 174.3L411.0 170.2ZM425.0 209.2L423.4 209.4L418.9 210.8L419.7 213.6L422.0 214.6L425.1 213.3L425.0 212.8L426.0 209.8ZM389.8 173.1L391.3 173.9L391.5 173.8L394.2 172.0L396.2 168.0L395.3 166.1L391.2 163.5L389.8 163.4L388.4 165.1ZM459.2 122.6L461.0 123.2L460.8 120.6L459.2 120.0L459.0 120.4ZM464.8 123.8L461.1 123.2L459.7 125.4L466.4 128.6L466.6 128.6ZM459.6 143.4L459.0 144.4L462.6 149.8L465.8 150.4L466.1 147.9ZM395.4 132.8L395.5 132.9L400.5 133.2L399.9 129.2L394.3 130.4ZM461.4 140.7L461.8 138.4L457.8 136.7L457.3 139.7L457.9 141.0L459.9 142.6L459.9 142.6L461.3 140.9ZM469.5 116.4L469.8 116.4L469.9 113.1L469.8 113.0L467.1 114.3ZM403.3 193.3L403.2 193.5L403.2 193.5L406.5 198.9L410.5 195.9L410.6 193.0ZM370.2 169.7L369.1 170.7L368.7 172.0L369.9 175.3L371.9 178.8L372.9 178.8L374.7 176.2L374.4 172.5Z" fill="#5c4e8d"/><path d="M478.9 131.7L481.6 130.0L479.1 127.6L477.7 128.4ZM424.2 189.6L424.1 189.8L423.3 194.1L423.8 197.4L424.2 197.5L428.3 192.4ZM442.1 138.5L445.9 142.2L446.8 137.0L442.2 138.3ZM481.5 133.5L482.5 138.5L484.9 138.5L488.5 137.4L488.7 135.5L487.9 134.4L485.7 136.3L484.6 133.3L483.3 132.4ZM413.1 206.3L414.0 211.1L418.4 210.4L413.2 204.9ZM409.2 187.3L407.9 184.2L405.8 182.6L401.9 186.4L403.0 190.8L406.6 189.4ZM371.0 201.8L364.8 201.7L363.4 202.9L366.6 206.5L370.6 204.5ZM428.1 176.3L427.9 179.0L430.2 180.2L433.2 180.2L433.4 173.5L433.2 173.3ZM486.3 124.4L487.4 122.7L489.9 121.4L489.2 120.3L487.9 120.4L482.4 122.3L483.1 123.7L484.3 124.2ZM429.0 240.2L427.5 240.2L423.9 243.1L427.5 249.1L432.0 248.8L432.3 247.7ZM489.7 103.7L494.5 107.5L493.7 104.5L489.9 102.9ZM454.6 148.7L457.2 150.6L459.4 149.4L455.6 146.7ZM424.8 220.0L422.5 224.9L422.8 226.3L424.6 227.6L428.7 228.7L431.0 227.8L426.9 220.0ZM354.2 203.4L354.8 198.0L351.0 195.1L350.6 195.1L348.2 198.9L349.2 201.7L354.2 203.4ZM354.0 213.2L350.2 214.2L349.1 218.7L354.9 216.7ZM427.5 240.2L425.6 234.4L421.5 234.1L419.7 235.6L420.3 236.8L423.1 241.7L423.9 243.1ZM398.8 210.2L393.3 206.8L392.8 207.0L394.8 214.9L397.8 214.7ZM483.1 123.7L482.4 122.3L481.5 121.8L481.2 121.8L479.3 123.9L479.7 126.9L482.1 126.8ZM435.9 182.6L438.2 176.4L433.4 173.5L433.2 180.2L435.6 182.8ZM420.9 231.7L421.5 234.1L425.6 234.4L428.7 228.7L424.6 227.6ZM407.6 165.4L404.4 161.8L402.2 163.8L400.2 166.9L404.3 170.4L406.9 170.6L408.5 170.0ZM466.4 128.6L459.7 125.4L458.4 126.1L458.3 126.5L460.5 130.2L461.6 131.0ZM464.4 115.8L463.1 117.6L462.9 119.3L465.0 122.7L467.8 120.1L466.7 117.7L464.4 115.8ZM424.1 136.5L423.0 135.7L422.5 135.3L418.4 139.6L423.4 140.2ZM425.8 170.9L430.7 168.5L427.7 164.0L421.5 170.7ZM491.5 116.1L497.3 116.5L492.4 111.8L492.2 112.0ZM344.9 170.5L349.0 179.0L349.3 179.1L353.6 175.0L354.5 169.5L353.5 167.7L345.2 169.3ZM482.9 118.4L481.5 121.8L482.4 122.3L487.9 120.4ZM460.8 120.6L461.0 123.2L461.1 123.2L464.8 123.8L465.0 122.7L462.9 119.3ZM377.7 197.7L372.1 194.0L369.2 195.0L371.7 199.9L378.9 200.9ZM457.0 123.1L457.0 123.2L457.0 123.9L458.4 126.1L459.7 125.4L461.1 123.2L461.0 123.2L459.2 122.6ZM391.2 174.1L389.1 177.3L387.9 186.3L388.2 187.0L393.4 181.4ZM459.0 144.4L455.7 146.1L455.6 146.7L459.4 149.4L462.4 149.9L462.6 149.8ZM428.1 176.3L433.2 173.3L433.2 171.7L431.6 169.0L430.7 168.5L425.8 170.9L428.0 176.2ZM354.9 212.2L352.9 209.0L348.7 211.3L350.2 214.2L354.0 213.2ZM449.2 185.3L449.4 187.2L452.2 186.7L453.1 186.1L453.9 184.4L454.0 183.6ZM434.9 189.1L435.2 184.1L430.3 182.6L427.8 185.2ZM493.4 97.6L494.3 102.3L500.7 103.8L500.7 99.5ZM429.0 240.2L432.3 247.7L433.6 243.6L433.8 238.6ZM450.1 148.8L453.5 149.7L454.6 148.7L455.6 146.7L455.7 146.1L452.5 142.9L450.0 143.2L449.2 143.9L448.7 147.6ZM357.7 219.4L361.6 219.9L366.4 213.5L366.1 213.2L360.4 212.1L357.4 217.8Z" fill="#665a96"/><path d="M453.9 184.4L453.1 186.1L454.6 185.0ZM419.2 222.3L416.1 222.6L417.6 224.2L417.6 228.0L422.8 226.3L422.5 224.9ZM438.2 176.4L435.9 182.6L438.6 182.2L443.4 180.6L442.1 178.1L439.3 176.3ZM486.8 113.7L492.2 112.0L492.4 111.8L492.9 109.2L485.6 107.4L485.2 107.4L483.8 109.9L483.5 110.0ZM412.8 164.4L417.8 161.9L417.8 161.9L417.3 161.1L411.5 160.5L411.4 161.8ZM417.6 228.0L417.6 229.3L420.9 231.7L424.6 227.6L422.8 226.3ZM455.8 139.5L453.6 142.1L457.9 141.0L457.3 139.7ZM484.3 124.2L483.1 123.7L482.1 126.8L484.2 128.3L484.0 128.0L484.3 127.6ZM493.4 97.6L500.7 99.5L500.7 95.3L497.9 93.0L493.7 93.4L492.8 92.1L490.2 95.9ZM349.2 201.7L348.2 198.9L344.9 197.5L338.6 205.9L339.4 206.2ZM421.5 234.1L420.9 231.7L417.6 229.3L417.6 231.2L419.7 235.6ZM487.2 115.6L486.8 113.7L483.5 110.0L483.4 110.1L481.1 116.0L482.6 117.5ZM485.6 107.4L489.7 103.7L489.9 102.9L490.3 100.6L489.9 96.3L488.5 98.3L486.8 104.7L485.2 107.4Z" fill="#7369a1"/><path d="M413.4 170.1L415.1 166.6L412.8 164.6L412.2 165.1L411.0 170.2L411.0 170.2ZM505.2 112.8L504.5 110.7L502.6 109.5L500.7 106.3L500.7 106.2L499.3 107.5L499.8 113.0ZM412.8 164.6L412.8 164.4L411.4 161.8L409.7 164.3L412.2 165.1ZM421.5 170.7L427.7 164.0L427.2 162.3L425.7 161.0L422.1 162.3L421.3 170.6L421.5 170.8ZM417.2 164.9L417.8 161.9L412.8 164.4L412.8 164.6L415.1 166.6ZM412.2 165.1L409.7 164.3L407.6 165.4L408.5 170.0L410.1 170.5L411.0 170.2ZM424.8 220.0L422.9 219.0L421.6 219.5L419.2 222.3L422.5 224.9ZM416.3 219.9L416.3 218.4L412.9 215.4L412.5 219.2L414.2 220.4L415.6 222.0Z" fill="#8581af"/><path d="M416.3 218.4L416.3 219.9L419.8 218.6L418.2 216.0ZM419.2 222.3L421.6 219.5L419.8 218.6L416.3 219.9L415.6 222.0L416.1 222.6ZM415.0 170.8L420.1 170.2L417.2 164.9L415.1 166.6L413.4 170.1Z" fill="#a09dc4"/><path d="M411.4 161.8L411.5 160.5L408.3 157.2L405.1 156.8L404.4 161.8L407.6 165.4L409.7 164.3ZM417.2 164.9L420.1 170.2L421.3 170.6L422.1 162.3L417.8 161.9L417.8 161.9Z" fill="#c9c8de"/><path d="M402.5 210.3h1.0v1.3h-1.0zM404.5 209.2h0.6v1.2h-0.6zM404.5 211.1h1.3v1.4h-1.3zM456.6 128.5h1.2v1.0h-1.2zM456.7 129.8h0.8v1.2h-0.8zM403.6 120.3h1.6v0.9h-1.6zM348.8 219.2h1.3v1.4h-1.3zM404.8 125.6h1.4v0.8h-1.4zM404.4 125.4h1.5v0.9h-1.5zM477.8 126.5h1.4v1.3h-1.4zM419.2 153.9h1.1v1.5h-1.1zM420.8 153.8h1.3v1.0h-1.3zM419.6 153.1h1.7v1.4h-1.7zM415.1 195.2h1.0v1.1h-1.0zM413.6 195.2h1.4v1.5h-1.4zM348.5 148.3h1.3v1.4h-1.3zM374.6 159.6h0.7v1.1h-0.7zM374.3 160.8h1.4v1.1h-1.4zM453.2 136.3h1.6v0.9h-1.6zM401.4 106.8h1.0v1.2h-1.0zM401.6 106.2h1.6v1.2h-1.6zM401.5 107.7h0.8v1.6h-0.8zM383.9 193.4h1.5v0.9h-1.5zM384.5 192.6h0.9v1.5h-0.9zM457.0 159.3h1.4v0.7h-1.4zM455.4 161.1h1.7v1.5h-1.7zM388.9 172.3h0.8v1.3h-0.8zM390.8 171.5h0.7v0.7h-0.7zM391.0 172.8h1.5v1.2h-1.5zM415.4 157.8h0.7v0.8h-0.7zM413.6 155.8h1.6v0.9h-1.6zM416.0 158.1h1.8v1.0h-1.8zM432.6 191.0h1.3v0.8h-1.3zM434.0 190.2h1.4v0.7h-1.4zM435.2 190.3h1.4v1.0h-1.4zM391.0 212.7h1.4v0.6h-1.4zM390.7 212.2h0.8v1.0h-0.8zM390.8 213.6h1.3v1.1h-1.3zM479.2 138.2h0.7v0.9h-0.7zM478.1 138.8h1.3v1.6h-1.3zM478.6 137.5h1.8v0.9h-1.8zM392.9 136.2h1.2v0.8h-1.2zM393.1 136.5h1.3v1.2h-1.3zM476.4 113.4h0.7v1.5h-0.7zM478.6 113.4h1.1v0.9h-1.1zM478.4 112.9h1.5v1.2h-1.5zM484.8 116.8h0.8v0.7h-0.8zM484.2 117.0h1.4v0.8h-1.4zM445.8 164.5h1.4v1.4h-1.4zM444.8 166.7h1.1v1.3h-1.1zM445.5 164.8h1.8v0.9h-1.8zM437.8 132.4h0.6v1.5h-0.6zM437.5 131.9h1.3v0.9h-1.3zM437.2 133.6h1.2v0.7h-1.2zM407.2 167.7h1.6v0.6h-1.6zM407.9 166.2h1.3v1.1h-1.3zM406.5 166.2h0.8v1.3h-0.8zM412.2 194.1h1.2v1.6h-1.2zM361.0 160.5h1.7v1.4h-1.7zM361.6 160.2h0.8v1.0h-0.8zM406.0 138.8h1.2v1.0h-1.2zM406.8 137.3h1.8v1.5h-1.8zM404.6 138.2h1.1v0.9h-1.1zM382.3 175.0h1.3v1.3h-1.3zM382.4 176.3h1.1v1.2h-1.1zM483.9 138.8h1.5v0.9h-1.5zM483.0 137.9h0.8v1.2h-0.8zM429.2 175.8h1.3v1.5h-1.3zM362.4 164.9h1.8v1.5h-1.8zM424.7 142.7h0.9v1.3h-0.9zM424.9 144.4h1.6v1.4h-1.6zM349.0 198.2h1.5v1.2h-1.5zM350.9 197.7h1.5v1.5h-1.5zM350.6 197.1h1.3v1.0h-1.3zM407.7 180.5h0.8v0.6h-0.8zM377.0 131.1h1.5v1.1h-1.5zM375.8 130.5h1.0v1.5h-1.0zM375.8 132.6h1.1v1.5h-1.1zM434.1 186.2h1.4v1.2h-1.4zM432.4 186.4h1.3v0.6h-1.3zM433.3 184.6h0.9v0.9h-0.9zM351.6 186.7h1.4v0.6h-1.4zM352.7 185.5h1.5v1.3h-1.5zM351.1 187.2h1.0v1.0h-1.0zM433.3 166.3h1.8v1.2h-1.8zM432.1 165.5h1.6v1.4h-1.6zM433.7 165.5h1.1v1.1h-1.1zM400.9 159.9h0.8v0.6h-0.8zM439.9 139.7h0.8v0.8h-0.8zM438.5 139.8h1.3v1.5h-1.3zM438.1 139.1h1.5v1.0h-1.5zM398.0 167.4h1.4v1.5h-1.4zM394.3 136.8h1.2v1.2h-1.2zM396.0 137.1h1.7v1.5h-1.7zM452.2 179.9h1.0v0.9h-1.0zM451.1 180.4h1.3v1.5h-1.3zM413.5 140.1h0.9v1.0h-0.9zM412.4 139.7h1.6v1.4h-1.6zM415.2 141.0h0.9v1.4h-0.9zM359.1 135.9h0.7v1.1h-0.7zM438.6 184.2h0.7v0.7h-0.7zM436.8 184.2h1.1v0.8h-1.1zM438.1 184.3h1.3v1.5h-1.3zM466.1 131.5h0.9v0.9h-0.9zM467.5 131.7h1.2v1.5h-1.2zM466.4 130.5h1.5v1.6h-1.5zM432.0 176.9h0.7v1.4h-0.7zM431.4 177.9h1.7v1.2h-1.7zM453.3 142.1h0.7v1.3h-0.7zM454.2 139.8h1.2v0.9h-1.2zM444.9 165.5h1.7v1.1h-1.7zM445.9 166.7h1.5v1.3h-1.5zM446.2 165.9h1.4v1.2h-1.4zM391.6 145.3h1.5v1.4h-1.5zM497.4 105.4h1.7v1.1h-1.7zM498.3 105.5h0.8v1.6h-0.8zM496.7 106.2h0.9v1.4h-0.9zM424.9 134.5h1.2v1.3h-1.2zM423.6 135.0h1.2v1.0h-1.2zM425.8 132.9h0.8v0.9h-0.8zM396.5 128.8h1.3v0.8h-1.3zM397.3 127.7h1.0v0.7h-1.0zM397.6 128.7h0.9v1.1h-0.9zM445.5 138.6h1.4v1.0h-1.4zM351.7 172.7h1.4v1.4h-1.4zM351.6 173.2h1.6v0.8h-1.6zM352.7 175.1h1.1v1.3h-1.1zM423.1 131.6h1.3v1.6h-1.3zM424.7 131.2h0.9v1.6h-0.9zM421.8 132.0h0.7v1.2h-0.7zM418.5 203.6h1.5v0.7h-1.5zM419.8 203.0h1.7v1.0h-1.7zM419.1 204.2h1.4v0.9h-1.4zM388.0 127.0h0.9v1.3h-0.9zM368.9 134.7h0.8v0.6h-0.8zM458.1 128.2h0.9v1.5h-0.9zM458.5 127.4h1.6v0.7h-1.6zM400.7 112.5h1.3v1.1h-1.3zM376.1 140.5h1.2v1.5h-1.2zM413.7 167.7h1.6v0.7h-1.6zM413.4 168.6h0.9v1.4h-0.9zM415.8 168.1h0.6v1.4h-0.6zM429.0 173.0h1.7v1.5h-1.7zM401.8 159.6h1.2v1.5h-1.2zM415.0 204.1h1.2v1.4h-1.2zM414.6 204.9h0.7v1.6h-0.7zM414.3 206.1h1.2v1.4h-1.2zM453.4 182.1h1.1v0.6h-1.1zM454.6 181.3h1.1v0.8h-1.1zM451.6 181.9h1.6v1.4h-1.6zM379.9 179.8h1.7v1.4h-1.7zM379.4 178.9h1.3v0.8h-1.3zM378.5 179.9h1.5v1.4h-1.5zM346.3 162.1h0.9v1.2h-0.9zM401.2 210.6h1.0v0.7h-1.0zM398.9 212.9h0.8v1.1h-0.8zM399.9 212.2h0.9v1.0h-0.9zM404.5 135.1h1.7v1.6h-1.7zM423.1 231.7h1.0v0.8h-1.0zM423.5 232.5h0.9v0.6h-0.9zM424.2 231.6h0.7v1.0h-0.7zM347.1 140.1h1.4v1.2h-1.4zM348.2 140.6h1.3v0.9h-1.3zM347.3 140.3h1.2v0.8h-1.2zM423.4 140.5h1.6v1.0h-1.6zM425.9 139.5h1.4v0.9h-1.4zM371.7 218.2h0.9v0.9h-0.9zM373.8 220.7h1.7v0.9h-1.7zM371.7 219.6h1.4v1.4h-1.4zM448.1 181.1h0.7v0.6h-0.7zM352.8 150.2h1.6v0.8h-1.6zM472.1 122.7h1.6v1.3h-1.6zM473.6 123.4h0.8v1.5h-0.8zM473.9 122.7h0.7v0.9h-0.7zM500.5 112.5h1.8v0.6h-1.8zM410.5 218.4h1.5v0.7h-1.5zM410.6 217.6h1.0v0.8h-1.0zM395.2 181.1h1.2v0.8h-1.2zM395.1 183.3h1.2v1.4h-1.2zM357.1 191.9h1.2v0.9h-1.2zM460.7 134.1h1.3v1.3h-1.3zM393.3 138.0h0.6v0.7h-0.6zM395.4 138.4h1.3v0.8h-1.3zM394.6 137.2h1.4v1.5h-1.4zM393.6 170.1h1.7v1.3h-1.7zM395.2 167.7h0.9v0.9h-0.9zM412.1 169.6h0.7v1.4h-0.7zM442.1 140.1h0.6v0.7h-0.6zM443.1 141.0h0.7v0.8h-0.7zM443.8 139.7h1.3v1.6h-1.3zM383.0 136.5h1.5v1.4h-1.5zM383.8 139.0h1.2v1.0h-1.2zM445.1 147.2h1.0v1.0h-1.0zM444.7 146.4h0.7v1.1h-0.7zM443.2 147.1h0.6v1.4h-0.6zM414.7 145.6h1.2v1.3h-1.2zM374.4 174.9h0.7v1.0h-0.7zM376.8 173.9h0.7v0.7h-0.7zM374.8 176.7h1.3v1.3h-1.3zM353.3 195.6h0.9v1.6h-0.9zM349.8 186.8h1.3v0.7h-1.3zM455.7 179.9h0.8v1.0h-0.8zM456.3 179.4h1.4v1.6h-1.4zM354.8 175.3h1.1v1.5h-1.1zM354.3 174.8h1.8v1.5h-1.8zM440.7 167.2h0.9v1.4h-0.9zM440.3 168.4h1.2v1.1h-1.2zM440.5 167.0h0.6v0.9h-0.6zM448.9 140.2h0.8v0.9h-0.8zM448.3 141.4h1.2v1.0h-1.2zM446.8 136.4h1.2v1.6h-1.2zM446.7 137.1h1.7v1.2h-1.7zM361.8 165.8h1.8v1.5h-1.8zM361.3 164.7h0.7v0.9h-0.7zM359.4 196.6h1.5v1.6h-1.5zM359.4 197.8h1.6v1.6h-1.6zM421.2 182.2h1.7v0.9h-1.7zM423.2 182.2h1.4v1.0h-1.4zM385.9 144.8h1.2v1.6h-1.2zM375.3 209.6h0.8v0.8h-0.8zM365.9 214.5h1.2v1.3h-1.2zM365.8 214.4h0.7v0.9h-0.7zM466.0 138.9h0.7v0.8h-0.7zM465.5 138.8h1.5v1.3h-1.5zM466.2 140.5h1.5v1.2h-1.5zM430.7 190.2h1.3v1.3h-1.3zM366.5 215.0h1.5v1.2h-1.5zM364.8 215.9h1.2v0.9h-1.2zM364.3 213.4h0.8v0.8h-0.8zM446.5 149.3h0.8v1.1h-0.8zM424.0 175.3h1.6v0.6h-1.6zM423.0 174.9h0.7v1.3h-0.7zM435.7 159.0h1.2v1.5h-1.2zM414.6 220.3h1.3v1.0h-1.3zM415.1 220.4h1.3v1.0h-1.3zM413.4 170.2h1.6v0.9h-1.6zM413.4 172.3h0.7v1.1h-0.7zM413.7 170.6h1.4v1.4h-1.4zM396.4 175.2h1.7v1.5h-1.7zM394.5 176.9h0.8v0.7h-0.8zM397.0 176.6h0.9v1.1h-0.9zM386.9 190.5h1.0v1.3h-1.0zM387.7 192.2h1.6v1.4h-1.6zM386.9 191.7h0.6v1.0h-0.6zM456.0 138.9h1.4v1.6h-1.4zM456.2 139.1h1.0v1.3h-1.0zM429.4 164.7h1.2v0.6h-1.2zM431.8 226.0h1.4v1.3h-1.4zM415.7 220.0h0.9v1.4h-0.9zM460.8 130.2h1.3v0.9h-1.3zM462.4 128.7h1.6v0.6h-1.6zM462.1 129.1h1.7v1.3h-1.7zM395.5 150.5h1.1v1.0h-1.1zM394.4 150.9h1.3v1.0h-1.3zM396.1 151.0h1.7v1.3h-1.7zM428.2 176.7h0.7v1.5h-0.7zM427.9 177.5h0.8v1.0h-0.8zM429.7 177.3h0.9v1.3h-0.9zM373.6 174.1h1.3v0.8h-1.3zM381.9 161.7h1.6v1.3h-1.6zM359.7 149.0h1.0v1.2h-1.0zM361.2 148.2h1.0v0.9h-1.0zM362.2 149.1h1.0v1.3h-1.0zM357.5 213.4h0.6v1.1h-0.6zM355.9 213.9h1.2v0.8h-1.2zM355.1 213.2h1.7v0.9h-1.7zM363.9 124.9h1.0v1.2h-1.0zM363.3 124.8h1.6v0.8h-1.6zM362.1 127.2h1.4v0.8h-1.4zM445.5 149.4h1.1v0.9h-1.1zM442.8 149.0h1.8v1.5h-1.8zM398.2 137.4h1.2v0.7h-1.2zM455.4 120.5h1.1v0.7h-1.1zM455.3 120.2h1.7v0.6h-1.7zM387.1 158.0h1.6v1.6h-1.6zM447.3 176.0h1.0v0.8h-1.0zM351.2 162.2h0.9v0.7h-0.9zM351.0 160.4h0.8v1.1h-0.8zM353.3 161.9h1.4v1.3h-1.4zM366.1 200.9h1.7v1.4h-1.7zM366.6 199.6h0.9v0.9h-0.9zM413.2 149.0h0.8v0.8h-0.8zM415.1 148.6h1.3v1.3h-1.3zM415.8 147.3h0.8v1.3h-0.8zM365.1 135.3h0.7v1.2h-0.7zM344.2 158.1h1.6v1.3h-1.6zM345.4 159.4h0.7v1.0h-0.7zM395.4 213.0h1.0v0.8h-1.0zM395.5 211.2h0.7v0.8h-0.7zM395.2 212.4h1.2v1.3h-1.2zM416.0 186.5h1.7v0.8h-1.7zM386.4 135.4h1.8v1.5h-1.8zM387.1 133.8h1.3v1.0h-1.3zM388.9 134.4h1.7v1.4h-1.7zM482.6 113.3h1.3v0.7h-1.3zM483.2 113.2h1.4v0.9h-1.4zM482.2 112.6h1.0v1.3h-1.0zM367.0 141.5h0.9v1.2h-0.9zM390.5 179.1h0.8v1.0h-0.8zM407.3 214.7h1.3v1.4h-1.3zM409.5 214.6h1.7v1.4h-1.7zM356.7 211.3h1.4v1.3h-1.4zM363.7 126.9h0.9v0.7h-0.9zM366.4 126.1h1.1v1.5h-1.1zM371.8 164.1h0.7v1.5h-0.7zM369.8 164.8h0.8v1.4h-0.8zM475.5 124.5h0.6v0.9h-0.6zM477.7 125.8h1.3v0.6h-1.3zM475.2 125.7h1.7v1.4h-1.7zM426.8 147.0h1.3v1.1h-1.3zM390.3 206.6h1.3v1.0h-1.3zM370.0 199.8h0.7v0.8h-0.7zM371.2 202.0h1.5v0.8h-1.5zM385.2 144.4h1.3v1.2h-1.3zM386.2 145.6h1.3v0.6h-1.3zM360.1 207.0h1.2v1.1h-1.2zM358.9 206.9h0.7v1.5h-0.7zM358.6 207.9h1.6v1.2h-1.6zM355.5 160.7h1.1v1.2h-1.1zM349.0 203.6h1.8v1.4h-1.8zM348.0 203.9h1.2v0.8h-1.2zM422.1 139.5h1.2v1.4h-1.2zM351.1 142.9h1.3v1.5h-1.3zM348.9 143.2h1.0v1.5h-1.0zM380.1 211.2h1.5v1.1h-1.5zM379.0 213.4h0.7v0.7h-0.7zM378.8 213.2h1.4v0.7h-1.4zM451.3 184.7h0.9v1.3h-0.9zM451.6 187.3h1.0v1.1h-1.0zM369.3 155.2h1.3v1.4h-1.3zM367.8 154.5h1.7v0.7h-1.7zM349.3 166.3h0.8v1.1h-0.8zM351.8 165.3h1.0v0.7h-1.0zM401.8 111.8h0.9v1.3h-0.9zM400.8 110.6h1.0v0.7h-1.0zM434.2 190.5h1.2v0.7h-1.2zM433.7 190.3h1.3v1.0h-1.3zM415.6 151.9h0.9v1.0h-0.9zM414.3 153.1h0.9v1.1h-0.9zM367.1 129.0h1.3v1.1h-1.3zM367.4 128.4h1.3v1.0h-1.3zM366.3 128.7h0.7v1.1h-0.7zM416.9 132.2h1.1v1.0h-1.1zM397.8 144.7h1.4v0.8h-1.4zM398.3 144.8h0.8v1.2h-0.8zM396.7 147.5h1.5v1.5h-1.5zM409.6 200.0h1.6v1.0h-1.6zM410.3 199.4h1.3v1.4h-1.3zM409.6 199.1h0.7v0.8h-0.7zM423.0 197.7h1.7v1.1h-1.7zM421.9 196.5h1.0v1.6h-1.0zM422.7 196.0h0.7v0.7h-0.7z" fill="#3b3b3b"/></g><g clip-path="url(#mapclip)" style="font-family:"Liberation Sans", sans-serif"><text x="181.3" y="162.8" font-size="5.6" fill="#e4e4e4" text-anchor="start" >San F</text><text x="215.5" y="197" font-size="5.4" fill="#e4e4e4" text-anchor="start" >Sch</text><text x="350.6" y="224.6" font-size="5.2" fill="#e0e0e0" text-anchor="start" >ston</text><text x="298" y="256.5" font-size="6.6" fill="#7c7c7c" text-anchor="start" letter-spacing="0.3">Mexico</text><text x="366" y="241.5" font-size="7.2" fill="#3f4040" text-anchor="start" font-style="italic" letter-spacing="0.9">Gulf of</text><text x="366" y="253" font-size="7.2" fill="#3f4040" text-anchor="start" font-style="italic" letter-spacing="0.9">Mexico</text><text x="444" y="247.2" font-size="4.6" fill="#8a8a8a" text-anchor="start" >Bahamas</text><text x="427" y="127.5" font-size="5.6" fill="#e4e4e4" text-anchor="start" >Toro</text><text x="448" y="113.3" font-size="5.6" fill="#e4e4e4" text-anchor="start" >Otta</text><rect x="435.7" y="120.2" width="1.7" height="1.7" fill="#fff"/><rect x="456" y="106.2" width="1.7" height="1.7" fill="#fff"/><path d="M261.3 111.6l1.6 0.5l-0.5 0.4l1 1l-0.4 0.4l-1 -1l-0.4 0.5z" fill="#f2f2f2"/><text x="502" y="99" font-size="4.4" fill="#8a8a8a" text-anchor="start" >N . B .</text><text x="519.5" y="100.3" font-size="4.4" fill="#8a8a8a" text-anchor="start" >P. E</text><text x="522" y="109.7" font-size="4.4" fill="#8a8a8a" text-anchor="start" >N.</text></g><rect x="164" y="77" width="59" height="14" fill="#3a3a3a" fill-opacity="0.55"/><rect x="171.6" y="82" width="5" height="5.2" fill="#f4f4f4"/><text x="179.1" y="87" font-size="6.36" font-weight="700" fill="#fff">Multi select</text><circle cx="172.1" cy="256.5" r="4.6" fill="#f2f2f2"/><circle cx="172.1" cy="256.5" r="3.2" fill="#26282a"/><path d="M170.2 258.6l0.9-3.4a2.2 2.2 0 1 1 2.4 2.3z" fill="#f2f2f2"/><text x="178.6" y="259.2" font-size="7.9" font-weight="700" fill="#f2f2f2" letter-spacing="0.05">mapbox</text><rect x="396" y="255.5" width="131.3" height="9.5" fill="#bdbdbd" fill-opacity="0.8"/><text x="398.3" y="262.5" font-size="5.9" fill="#4a4a4a" textLength="126.6" lengthAdjust="spacingAndGlyphs">© Mapbox © OpenStreetMap <tspan font-weight="700" fill="#3c3c3c">Improve this map</tspan></text></svg>
</div></body></html>
